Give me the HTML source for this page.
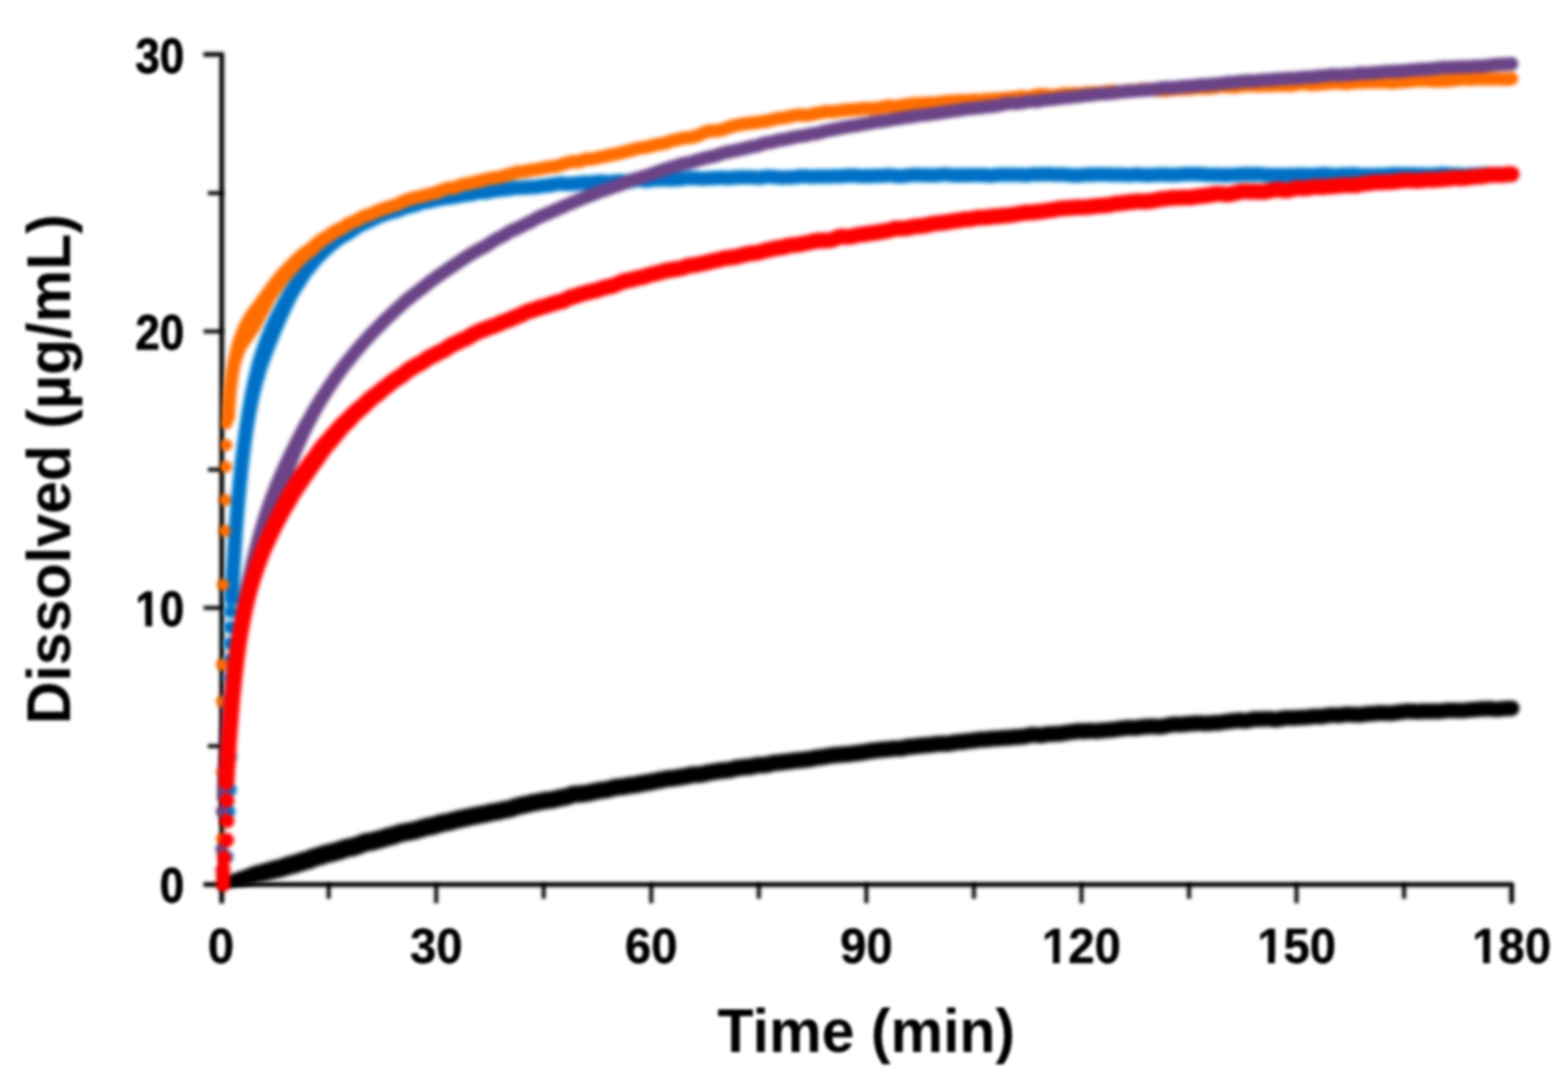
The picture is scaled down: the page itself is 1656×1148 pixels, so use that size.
<!DOCTYPE html>
<html lang="en">
<head>
<meta charset="utf-8">
<title>Dissolution profile</title>
<style>
html, body { margin: 0; padding: 0; background: #fff; }
body { width: 1656px; height: 1148px; overflow: hidden; }
svg { display: block; }
.ax { filter: blur(1.80px); }
.plot { filter: blur(2.00px); }
.labels { filter: blur(1.60px); }
</style>
</head>
<body>
<svg width="1656" height="1148" viewBox="0 0 1656 1148" role="img" aria-label="Dissolved concentration versus time">
<rect width="1656" height="1148" fill="#fff"/>
<g class="ax">
<g class="axis-halo" stroke="#000" fill="none" stroke-linejoin="round" stroke-linecap="round">
<g stroke-width="8.6" stroke-opacity="0.26">
<path d="M217.2,57.5 H234.2 V951.7"/>
<path d="M217.2,934.2 H1596.5 V951.7"/>
</g>
<g stroke-width="8.0" stroke-opacity="0.2">
<path d="M221.7,788.1 H234.2"/>
<path d="M217.2,642.1 H234.2"/>
<path d="M221.7,496.0 H234.2"/>
<path d="M217.2,350.0 H234.2"/>
<path d="M221.7,203.9 H234.2"/>
<path d="M347.1,934.2 V947.0"/>
<path d="M460.7,934.2 V951.7"/>
<path d="M574.2,934.2 V947.0"/>
<path d="M687.8,934.2 V951.7"/>
<path d="M801.4,934.2 V947.0"/>
<path d="M915.0,934.2 V951.7"/>
<path d="M1028.6,934.2 V947.0"/>
<path d="M1142.2,934.2 V951.7"/>
<path d="M1255.8,934.2 V947.0"/>
<path d="M1369.3,934.2 V951.7"/>
<path d="M1482.9,934.2 V947.0"/>
</g>
</g>
<g class="axis-core" stroke="#000" fill="none" stroke-linejoin="round" stroke-linecap="round">
<g stroke-width="4.2" stroke-opacity="0.92">
<path d="M217.2,57.5 H234.2 V951.7"/>
<path d="M217.2,934.2 H1596.5 V951.7"/>
</g>
<g stroke-width="4.0" stroke-opacity="0.8">
<path d="M221.7,788.1 H234.2"/>
<path d="M217.2,642.1 H234.2"/>
<path d="M221.7,496.0 H234.2"/>
<path d="M217.2,350.0 H234.2"/>
<path d="M221.7,203.9 H234.2"/>
<path d="M347.1,934.2 V947.0"/>
<path d="M460.7,934.2 V951.7"/>
<path d="M574.2,934.2 V947.0"/>
<path d="M687.8,934.2 V951.7"/>
<path d="M801.4,934.2 V947.0"/>
<path d="M915.0,934.2 V951.7"/>
<path d="M1028.6,934.2 V947.0"/>
<path d="M1142.2,934.2 V951.7"/>
<path d="M1255.8,934.2 V947.0"/>
<path d="M1369.3,934.2 V951.7"/>
<path d="M1482.9,934.2 V947.0"/>
</g>
</g>
</g>
<g class="plot">
<g class="series series-black">
<path d="M241,924.7L242.5,924.1L244.1,923.4L245.8,922.6L247.5,922L249.2,921.4L250.7,921L252.1,920.6L253.3,920.1L254.6,919.7L255.9,919.3L257.2,918.8L258.5,918.3L259.8,917.8L261,917.3L262.2,916.8L263.5,916.2L265.1,915.5L266.8,914.9L268.8,914.2L270.7,913.7L272.4,913.4L273.8,913.1L274.8,912.8L275.9,912.5L277.1,912.1L278.6,911.6L280.1,911.2L281.6,910.7L283.1,910.3L284.5,909.9L286.1,909.4L287.8,909L289.3,908.6L290.7,908.3L291.9,908L293,907.7L294.2,907.4L295.5,906.9L296.8,906.5L298.3,906L299.8,905.4L301.4,904.9L303,904.5L304.5,904L306,903.6L307.5,903.3L308.9,902.9L310.1,902.5L311.3,902.2L312.5,901.8L313.9,901.3L315.5,900.7L317.2,900.2L318.8,899.8L320.2,899.4L321.5,899L322.6,898.7L323.8,898.3L325,897.8L326.4,897.2L328,896.6L329.8,896L331.6,895.4L333.4,894.9L334.8,894.6L335.9,894.3L337,894L338.2,893.5L339.8,893L341.6,892.4L343.6,891.8L345.4,891.4L346.9,891.2L348.1,890.9L349.2,890.7L350.4,890.3L351.8,889.9L353.2,889.5L354.6,889.1L355.9,888.7L357.2,888.3L358.7,887.8L360.2,887.3L361.9,886.8L363.8,886.3L365.5,885.9L367.1,885.6L368.5,885.3L369.7,885.1L370.8,884.8L372,884.4L373.2,884.1L374.4,883.7L375.6,883.3L376.8,882.8L378.2,882.2L380,881.5L382,880.7L384.2,880.1L386.3,879.8L388,879.5L389.3,879.4L390.3,879.2L391.3,879L392.5,878.7L394,878.3L395.5,877.9L396.9,877.5L398.3,877.2L399.5,876.8L400.9,876.4L402.3,875.9L403.9,875.4L405.6,875L407.3,874.5L408.9,874.1L410.3,873.8L411.5,873.6L412.5,873.3L413.6,872.9L414.9,872.4L416.5,871.9L418.3,871.2L420.2,870.7L422,870.3L423.8,869.9L425.4,869.6L426.9,869.4L428.3,869.1L429.7,868.9L431.1,868.6L432.5,868.4L433.9,868.1L435.1,867.9L436.2,867.6L437.4,867.3L438.8,866.9L440.3,866.4L441.8,865.9L443.3,865.5L444.8,865.1L446.4,864.7L448.1,864.2L449.9,863.8L451.6,863.5L453.1,863.3L454.2,863L455.2,862.8L456.4,862.5L457.8,862.1L459.3,861.6L460.9,861.1L462.5,860.7L464.1,860.3L465.7,859.9L467.4,859.5L469,859.2L470.5,859L471.8,858.7L473.1,858.5L474.3,858.2L475.5,857.8L476.9,857.4L478.5,857L480.3,856.5L482.1,856.1L483.7,855.8L485.1,855.6L486.3,855.3L487.6,855.1L488.9,854.7L490.4,854.3L492,853.9L493.8,853.5L495.5,853.2L497,853L498.3,852.7L499.6,852.5L500.9,852.2L502.4,851.8L504,851.5L505.7,851.2L507.3,850.9L508.8,850.7L510.1,850.5L511.3,850.2L512.4,850L513.8,849.6L515.5,849.2L517.3,848.8L519.1,848.5L520.7,848.2L522.1,848L523.4,847.8L524.6,847.6L525.9,847.4L527.2,847L528.7,846.7L530.3,846.3L532.1,845.9L533.8,845.7L535.1,845.4L536.1,845.3L537,845L538,844.7L539.4,844.2L541.2,843.6L543,843L544.7,842.6L546.2,842.2L547.7,841.8L549.3,841.4L551.1,841L552.7,840.7L554.1,840.5L555.3,840.2L556.6,840L557.9,839.6L559.6,839.2L561.4,838.8L563.2,838.5L564.9,838.2L566.3,838.1L567.4,837.9L568.6,837.6L569.9,837.3L571.5,837L573.4,836.6L575.3,836.3L577.1,836.1L578.7,836L580,835.9L581,835.8L582,835.6L583.1,835.4L584.3,835L585.8,834.6L587.6,834.2L589.4,833.8L591.2,833.5L592.8,833.2L594.1,833L595.2,832.8L596.1,832.6L597.1,832.3L598.3,831.9L599.8,831.3L601.9,830.6L604.2,830L606.6,829.7L608.6,829.6L610,829.6L611.2,829.5L612.4,829.4L613.8,829.3L615.2,829.1L616.5,828.9L617.9,828.8L619.3,828.6L620.6,828.3L621.9,828.1L623.2,827.8L624.5,827.5L626,827.2L627.6,826.8L629.2,826.5L630.8,826.1L632.5,825.8L634.3,825.6L636,825.4L637.6,825.2L638.8,825.1L639.7,825L640.7,824.8L641.8,824.4L643.3,824L645.1,823.5L647,823.1L648.8,822.8L650.6,822.5L652.3,822.3L653.9,822.2L655.4,822L656.7,821.9L657.8,821.8L658.9,821.6L660.1,821.3L661.7,821L663.6,820.6L665.6,820.4L667.3,820.2L668.5,820.1L669.6,820L670.6,819.8L671.9,819.5L673.5,819.1L675.3,818.8L677,818.5L678.5,818.3L679.9,818.1L681.2,817.9L682.6,817.6L684.2,817.3L685.8,817L687.2,816.8L688.4,816.6L689.8,816.3L691.3,815.9L693,815.6L694.6,815.3L696.1,815L697.5,814.8L698.8,814.5L700.2,814.2L701.9,813.9L703.7,813.6L705.6,813.3L707.3,813.2L708.9,813.1L710.3,813L711.4,812.9L712.5,812.7L713.7,812.5L715.2,812.2L716.9,811.9L718.7,811.6L720.3,811.4L721.6,811.3L722.7,811.1L723.8,810.9L725.2,810.6L726.8,810.1L728.7,809.8L730.8,809.5L732.8,809.3L734.6,809.3L736.1,809.3L737.4,809.2L738.4,809.2L739.3,809.1L740.3,808.9L741.4,808.6L742.9,808.2L744.7,807.8L746.6,807.4L748.3,807.1L749.7,807L750.9,806.7L752.3,806.5L753.9,806.1L755.7,805.9L757.5,805.6L759,805.5L760.5,805.3L761.9,805.1L763.5,805L765.1,804.8L766.7,804.7L768.1,804.6L769.2,804.5L770.1,804.3L771,804.1L772.3,803.7L773.9,803.2L775.9,802.7L778,802.3L779.9,802.1L781.5,802L782.8,801.8L784.2,801.7L785.9,801.5L787.7,801.3L789.3,801.3L790.5,801.2L791.4,801.1L792.3,800.9L793.6,800.6L795.2,800.2L797.1,799.8L799,799.5L801,799.4L802.8,799.3L804.5,799.3L805.7,799.2L806.8,799.2L807.7,799.1L808.7,798.9L809.9,798.6L811.4,798.2L813,797.8L814.9,797.4L816.9,797.1L818.7,796.9L820.4,796.8L821.7,796.7L822.9,796.6L824.2,796.4L825.7,796.2L827.4,795.9L829.1,795.8L830.6,795.7L831.9,795.5L833.1,795.4L834.4,795.2L836,794.9L837.8,794.7L839.6,794.5L841.3,794.4L842.8,794.3L844.2,794.2L845.4,794.1L846.7,794L848.1,793.8L849.8,793.6L851.4,793.4L852.7,793.3L853.8,793.1L854.9,792.9L856.2,792.6L857.9,792.2L859.8,791.9L861.7,791.6L863.3,791.4L864.7,791.3L866,791.2L867.2,791L868.6,790.7L870.1,790.5L871.7,790.2L873.2,790L874.8,789.7L876.3,789.5L878,789.3L879.7,789.1L881.3,788.9L882.8,788.8L884.2,788.7L885.7,788.5L887.3,788.4L888.9,788.3L890.6,788.2L892.1,788.1L893.4,788L894.6,787.9L895.8,787.8L897.3,787.6L898.8,787.4L900.4,787.2L902,787L903.4,786.8L904.8,786.7L906.2,786.5L907.8,786.3L909.3,786.1L910.7,785.9L912,785.7L913.3,785.5L914.8,785.2L916.4,784.9L918.1,784.6L919.8,784.4L921.4,784.2L922.9,784.1L924.3,783.9L925.7,783.7L927.3,783.5L929,783.3L930.7,783.2L932.3,783.1L933.8,783L935.1,783L936.3,782.8L937.6,782.7L939.1,782.5L940.8,782.3L942.7,782.1L944.5,782L946.2,782L947.5,782L948.8,781.9L949.9,781.9L951.1,781.7L952.1,781.6L953.3,781.3L954.8,781L956.6,780.6L958.6,780.3L960.5,780.1L962.1,780L963.4,779.9L964.7,779.8L966.1,779.6L967.6,779.4L969.2,779.3L970.8,779.1L972.3,779L973.8,778.8L975.2,778.7L976.7,778.5L978.4,778.4L980.1,778.2L981.6,778.2L982.9,778.1L983.9,778L985.1,777.8L986.6,777.5L988.5,777.3L990.4,777.1L992.1,777L993.7,776.9L995.3,776.9L997,776.8L998.6,776.9L999.9,776.9L1000.9,776.9L1001.8,776.8L1002.8,776.6L1004.2,776.3L1005.8,775.9L1007.7,775.6L1009.6,775.4L1011.4,775.2L1013,775.1L1014.4,775L1015.6,774.9L1016.9,774.8L1018.2,774.6L1019.8,774.4L1021.5,774.2L1023.1,774L1024.6,773.9L1026,773.7L1027.3,773.6L1028.7,773.4L1030.2,773.2L1031.8,772.9L1033.6,772.7L1035.4,772.6L1037.1,772.5L1038.6,772.5L1039.9,772.4L1041.2,772.4L1042.5,772.2L1043.9,772.1L1045.5,771.9L1047.2,771.8L1048.8,771.6L1050.4,771.6L1051.9,771.5L1053.4,771.4L1054.7,771.3L1056.1,771.2L1057.6,771.1L1059.2,771L1060.8,770.8L1062.4,770.8L1063.8,770.7L1065.2,770.6L1066.6,770.5L1068.1,770.4L1069.6,770.3L1071.1,770.1L1072.6,770L1074.2,769.9L1075.8,769.8L1077.3,769.7L1078.5,769.7L1079.6,769.5L1080.7,769.4L1082,769.1L1083.5,768.8L1085.1,768.4L1086.9,768.1L1089,767.8L1091,767.7L1093.1,767.7L1094.9,767.9L1096.5,768L1097.8,768.1L1098.7,768.2L1099.5,768.2L1100.3,768L1101.5,767.8L1103.1,767.5L1105.1,767.1L1107.1,766.9L1109,766.8L1110.5,766.8L1111.9,766.8L1113.3,766.7L1114.8,766.6L1116.3,766.6L1117.7,766.5L1119,766.4L1120.1,766.3L1121.2,766.1L1122.5,765.9L1124.1,765.6L1125.9,765.3L1127.7,765L1129.3,764.9L1130.7,764.7L1132,764.6L1133.4,764.4L1135,764.1L1136.8,763.9L1138.8,763.8L1140.7,763.8L1142.4,763.8L1143.7,763.9L1144.8,763.8L1145.9,763.8L1147.3,763.6L1149,763.5L1151.1,763.4L1153.1,763.4L1154.8,763.6L1156.1,763.7L1157.1,763.7L1158,763.7L1159.1,763.6L1160.5,763.4L1162.2,763.2L1164,763L1165.7,762.9L1167.2,762.8L1168.5,762.8L1169.9,762.7L1171.3,762.5L1172.8,762.4L1174.2,762.3L1175.6,762.1L1177,761.9L1178.5,761.7L1180.1,761.5L1181.6,761.3L1183,761.2L1184.4,761L1185.9,760.8L1187.6,760.6L1189.5,760.4L1191.4,760.3L1193.2,760.3L1194.7,760.4L1196.1,760.4L1197.3,760.4L1198.5,760.3L1199.7,760.2L1201,760L1202.4,759.9L1204,759.6L1205.7,759.4L1207.5,759.3L1209.1,759.2L1210.6,759.1L1212,759L1213.6,759L1215.2,758.9L1216.9,758.8L1218.7,758.8L1220.5,758.9L1222.2,759.1L1223.5,759.2L1224.5,759.2L1225.3,759.2L1226.2,759L1227.4,758.8L1228.7,758.5L1230.3,758.2L1231.9,757.9L1233.5,757.5L1235.1,757.2L1236.9,757L1238.8,756.8L1240.8,756.7L1242.6,756.7L1244.2,756.7L1245.6,756.7L1246.8,756.8L1248,756.7L1249.2,756.6L1250.6,756.5L1252.2,756.3L1253.9,756.1L1255.5,756L1257,756L1258.4,755.9L1259.8,755.8L1261.2,755.6L1262.9,755.5L1264.6,755.4L1266.6,755.4L1268.5,755.4L1270.3,755.6L1271.6,755.7L1272.7,755.8L1273.7,755.8L1274.9,755.7L1276.2,755.6L1277.7,755.4L1279.3,755.3L1281,755.2L1282.7,755.1L1284.3,755.1L1285.7,755.1L1286.8,755L1287.9,754.9L1289,754.7L1290.5,754.4L1292.2,754.1L1294.1,753.9L1295.7,753.8L1297.1,753.6L1298.5,753.5L1299.9,753.3L1301.4,753.1L1303.1,752.9L1304.7,752.7L1306.5,752.6L1308.3,752.5L1310.2,752.5L1312.1,752.6L1313.6,752.8L1314.7,752.9L1315.4,752.9L1316.1,752.8L1317.1,752.6L1318.6,752.2L1320.5,751.8L1322.5,751.5L1324.4,751.3L1326.2,751.3L1327.8,751.2L1329.4,751.2L1330.9,751.2L1332.4,751.2L1333.7,751.2L1335,751.1L1336.5,751L1338.3,750.9L1340.3,751L1342.4,751.1L1344.1,751.4L1345.4,751.6L1346.2,751.6L1346.9,751.6L1347.8,751.5L1349.1,751.3L1350.6,751L1352.2,750.8L1353.8,750.5L1355.4,750.3L1357.2,750.1L1359,750L1360.8,749.9L1362.6,749.9L1364.1,750L1365.5,750L1366.6,750L1367.8,749.9L1369.2,749.8L1370.8,749.7L1372.5,749.5L1374.2,749.5L1375.8,749.5L1377.2,749.4L1378.4,749.4L1379.7,749.3L1380.9,749.2L1382.4,749L1383.9,748.8L1385.6,748.6L1387.4,748.4L1389.4,748.3L1391.1,748.4L1392.6,748.4L1393.8,748.4L1394.9,748.4L1396,748.3L1397.3,748.1L1398.7,747.9L1400.2,747.7L1401.7,747.5L1403.4,747.2L1405.3,747L1407.4,746.9L1409.4,747L1411.1,747.1L1412.4,747.2L1413.3,747.3L1414.1,747.2L1415.2,747.1L1416.6,746.8L1418.4,746.5L1420.3,746.3L1422.1,746.2L1423.9,746.2L1425.6,746.2L1427.3,746.3L1429,746.4L1430.5,746.5L1431.9,746.6L1433.2,746.6L1434.5,746.7L1435.7,746.6L1436.8,746.6L1438,746.5L1439.2,746.3L1440.7,746.1L1442.5,745.8L1444.3,745.6L1446.1,745.5L1447.6,745.5L1449,745.4L1450.2,745.3L1451.5,745.2L1453,745L1454.8,744.8L1456.7,744.7L1458.5,744.7L1460.1,744.7L1461.6,744.8L1463.2,744.8L1464.8,744.9L1466.3,745L1467.6,745L1468.7,745L1469.6,745L1470.8,744.8L1472.2,744.6L1473.8,744.3L1475.5,744.1L1477,743.9L1478.5,743.8L1480,743.6L1481.5,743.4L1483.1,743.2L1484.8,743.1L1486.7,743L1488.5,743L1490.2,743L1491.8,743.1L1493.3,743.1L1494.8,743.2L1496.3,743.3L1497.6,743.3L1498.8,743.3L1499.9,743.2L1501.3,743.1L1502.9,743L1504.7,742.9L1506.6,742.9L1508.4,743L1509.9,743.1L1511.2,743.1L1512.4,743.1L1513.7,743.1L1515.3,743.1L1516.9,743L1518.3,743L1519.6,743L1520.8,742.9L1522.1,742.8L1523.5,742.6L1524.9,742.5L1526.4,742.2L1528.2,742L1530.1,741.9L1532.1,741.9L1533.9,742L1535.5,742.1L1536.8,742.1L1538.1,742.2L1539.5,742.2L1541.1,742.2L1542.5,742.2L1543.8,742.2L1545,742.2L1546.2,742.1L1547.6,741.9L1549.1,741.7L1550.7,741.6L1552.3,741.4L1553.9,741.3L1555.4,741.2L1556.8,741.1L1558.3,741L1559.8,740.9L1561.3,740.7L1563,740.6L1564.6,740.5L1566.2,740.5L1567.7,740.4L1569.2,740.4L1570.8,740.3L1572.5,740.3L1574.3,740.3L1576.3,740.5L1578,740.7L1579.3,740.8L1580.3,740.9L1581.2,740.9L1582.2,740.8L1583.5,740.7L1585.1,740.5L1586.8,740.3L1588.5,740.2L1590.2,740.1L1591.7,740.1L1593.2,740L1594.4,739.9L1595.8,739.8L1597.9,739.9L1600,740.6L1601.8,741.7L1603.2,743.3L1604.2,745.2L1604.7,747.3L1604.6,749.4L1603.9,751.5L1602.8,753.3L1601.2,754.7L1599.3,755.7L1597.2,756.2L1595.6,756.3L1593.8,756.4L1592.3,756.5L1590.8,756.5L1589.5,756.6L1588.2,756.7L1586.9,756.8L1585.5,757L1583.8,757.2L1581.8,757.3L1579.7,757.3L1577.6,757.2L1576,757L1574.7,756.8L1573.6,756.7L1572.5,756.7L1571.2,756.8L1569.7,756.8L1568.2,756.9L1566.7,756.9L1565.3,756.9L1564,757L1562.6,757.1L1561.2,757.2L1559.7,757.4L1558.1,757.5L1556.6,757.6L1555.1,757.7L1553.6,757.8L1552.3,757.9L1550.9,758.1L1549.4,758.3L1547.7,758.5L1545.9,758.6L1544.1,758.7L1542.4,758.7L1540.9,758.6L1539.4,758.6L1537.8,758.6L1536.1,758.6L1534.5,758.5L1533,758.4L1531.8,758.3L1530.8,758.3L1529.8,758.4L1528.5,758.6L1527,758.8L1525.5,759L1523.8,759.2L1522.1,759.3L1520.3,759.4L1518.6,759.5L1517.1,759.5L1515.6,759.5L1514.2,759.6L1512.5,759.6L1510.7,759.6L1509,759.5L1507.5,759.4L1506.3,759.4L1505.2,759.4L1504,759.4L1502.6,759.6L1501,759.7L1499.1,759.8L1497.3,759.8L1495.7,759.7L1494.1,759.7L1492.6,759.6L1491.1,759.6L1489.7,759.5L1488.4,759.5L1487.2,759.5L1486.1,759.5L1484.8,759.6L1483.4,759.8L1481.9,760L1480.4,760.2L1478.8,760.3L1477.4,760.5L1476.1,760.7L1474.7,760.9L1473.1,761.1L1471.2,761.4L1469.2,761.5L1467.3,761.5L1465.6,761.4L1464.1,761.4L1462.7,761.3L1461.2,761.3L1459.8,761.3L1458.4,761.2L1457.2,761.2L1456.1,761.3L1454.8,761.4L1453.4,761.6L1451.7,761.8L1449.9,761.9L1448.2,762L1446.8,762L1445.6,762.1L1444.4,762.2L1443.1,762.4L1441.6,762.6L1439.9,762.9L1438.1,763.1L1436.2,763.2L1434.4,763.2L1432.7,763.2L1431,763.1L1429.4,763L1427.9,762.9L1426.6,762.8L1425.2,762.8L1424,762.7L1422.7,762.8L1421.6,762.8L1420.5,762.9L1419.3,763.1L1417.7,763.4L1415.8,763.7L1413.6,763.8L1411.5,763.7L1409.7,763.6L1408.4,763.5L1407.5,763.4L1406.6,763.5L1405.5,763.6L1404.2,763.8L1402.7,764L1401.1,764.3L1399.5,764.5L1397.8,764.7L1396,764.9L1394.1,765L1392.3,765L1390.7,764.9L1389.5,764.9L1388.4,764.9L1387.3,765L1386,765.2L1384.5,765.4L1382.9,765.6L1381.2,765.8L1379.4,765.9L1377.7,766L1376,766L1374.6,766L1373.3,766.1L1372.1,766.2L1370.7,766.3L1369,766.4L1367.3,766.5L1365.4,766.6L1363.7,766.5L1362.3,766.5L1361.1,766.5L1359.9,766.5L1358.7,766.6L1357.4,766.8L1356.1,767L1354.7,767.2L1353.3,767.4L1351.8,767.7L1350.1,767.9L1348,768.2L1345.7,768.2L1343.5,768.1L1341.8,767.8L1340.5,767.6L1339.6,767.5L1338.6,767.5L1337.4,767.6L1335.9,767.7L1334.2,767.8L1332.5,767.8L1330.9,767.8L1329.5,767.8L1328.1,767.8L1326.7,767.9L1325.5,767.9L1324.4,768L1323.4,768.2L1322.3,768.4L1320.8,768.8L1318.8,769.2L1316.5,769.5L1314.2,769.5L1312.3,769.4L1310.8,769.2L1309.7,769.2L1308.6,769.2L1307.5,769.2L1306.2,769.3L1304.8,769.4L1303.5,769.6L1302,769.8L1300.5,770L1298.8,770.2L1297.2,770.3L1295.9,770.4L1294.7,770.6L1293.5,770.8L1291.9,771.1L1290.1,771.4L1288.1,771.6L1286.2,771.7L1284.6,771.7L1283.2,771.8L1281.9,771.8L1280.6,771.9L1279.3,772L1277.8,772.2L1276.1,772.3L1274.2,772.4L1272.3,772.4L1270.3,772.3L1268.7,772.2L1267.4,772.1L1266.4,772L1265.3,772L1264.1,772.1L1262.7,772.2L1261.2,772.4L1259.6,772.5L1258,772.6L1256.5,772.7L1255.1,772.8L1253.8,772.9L1252.4,773L1250.8,773.2L1249,773.4L1247.2,773.4L1245.4,773.4L1243.8,773.4L1242.4,773.4L1241.2,773.3L1240.2,773.4L1239.1,773.5L1237.9,773.7L1236.6,774L1235.2,774.2L1233.7,774.5L1232.3,774.8L1230.7,775.2L1228.8,775.5L1226.8,775.8L1224.6,775.9L1222.6,775.8L1220.9,775.7L1219.5,775.6L1218.3,775.6L1217.1,775.5L1215.9,775.6L1214.5,775.7L1213,775.7L1211.5,775.8L1210,775.9L1208.6,776L1207.4,776.1L1206.1,776.2L1204.7,776.4L1203.1,776.7L1201.4,776.9L1199.6,777L1197.8,777.1L1196,777.1L1194.4,777.1L1192.9,777.1L1191.7,777.1L1190.6,777.1L1189.5,777.2L1188.2,777.4L1186.7,777.6L1185.1,777.8L1183.5,778L1182.1,778.2L1180.7,778.3L1179.2,778.5L1177.6,778.8L1176,778.9L1174.4,779.1L1172.8,779.2L1171.3,779.4L1169.6,779.5L1168,779.6L1166.5,779.7L1165.2,779.7L1164,779.9L1162.7,780L1161.1,780.2L1159.3,780.4L1157.2,780.5L1155.1,780.5L1153.4,780.3L1152.1,780.2L1151.2,780.2L1150.2,780.2L1149,780.4L1147.3,780.5L1145.4,780.7L1143.5,780.7L1141.9,780.6L1140.6,780.6L1139.5,780.6L1138.4,780.7L1137.3,780.8L1135.9,781L1134.3,781.3L1132.6,781.5L1131,781.6L1129.6,781.8L1128.4,781.9L1127.2,782.1L1125.8,782.4L1124.1,782.7L1122.3,783L1120.4,783.2L1118.6,783.3L1117.1,783.4L1115.6,783.5L1114.1,783.6L1112.5,783.6L1110.9,783.7L1109.4,783.7L1108.3,783.8L1107.3,783.8L1106.3,784L1104.9,784.3L1103.1,784.7L1100.9,785L1098.7,785.1L1096.7,785L1094.9,784.8L1093.5,784.7L1092.4,784.6L1091.4,784.6L1090.5,784.7L1089.5,784.8L1088.4,785L1087.1,785.3L1085.5,785.6L1083.8,786L1081.9,786.3L1080,786.5L1078.2,786.6L1076.7,786.7L1075.3,786.8L1073.9,786.9L1072.5,787L1071,787.1L1069.5,787.3L1068,787.4L1066.4,787.5L1064.8,787.6L1063.2,787.7L1061.8,787.8L1060.5,787.9L1059,788L1057.5,788.1L1055.9,788.2L1054.3,788.3L1052.8,788.4L1051.3,788.5L1049.9,788.6L1048.5,788.7L1047.2,788.8L1045.8,788.9L1044.2,789.1L1042.5,789.3L1040.8,789.4L1039.2,789.5L1037.7,789.5L1036.4,789.6L1035.2,789.7L1033.9,789.8L1032.6,790L1031.1,790.2L1029.5,790.4L1027.9,790.6L1026.2,790.8L1024.7,790.9L1023.4,791.1L1022.1,791.2L1020.6,791.5L1019,791.7L1017.3,791.9L1015.5,792L1013.9,792.1L1012.5,792.2L1011.3,792.3L1010.3,792.4L1009.1,792.6L1007.8,792.9L1006.2,793.3L1004.2,793.6L1002.1,793.9L1000.1,793.9L998.4,793.9L997,793.9L995.7,793.9L994.3,794L993,794L991.7,794.1L990.6,794.2L989.5,794.4L988,794.6L986.2,794.9L984.3,795.1L982.5,795.2L981,795.3L979.8,795.4L978.5,795.5L977,795.7L975.4,795.8L973.9,796L972.4,796.1L971,796.3L969.6,796.4L968.2,796.6L966.6,796.8L964.9,797L963.2,797.1L961.8,797.2L960.7,797.3L959.7,797.5L958.5,797.7L957,798.1L955.2,798.4L953.3,798.7L951.5,798.9L949.6,799.1L947.9,799.1L946.3,799.1L944.9,799.2L943.8,799.2L942.7,799.3L941.4,799.5L939.9,799.7L938.2,799.9L936.5,800.1L934.8,800.2L933.3,800.3L931.9,800.4L930.6,800.5L929.3,800.6L927.9,800.8L926.4,801L924.8,801.2L923.2,801.4L921.9,801.5L920.6,801.7L919.3,801.9L917.9,802.1L916.4,802.4L914.7,802.7L913.1,803L911.5,803.2L910,803.4L908.6,803.5L907.1,803.8L905.5,804L903.9,804.2L902.5,804.3L901.1,804.5L899.7,804.7L898.1,804.9L896.4,805.1L894.6,805.3L892.9,805.4L891.4,805.4L890.1,805.5L888.8,805.6L887.4,805.7L885.8,805.9L884.3,806L882.8,806.2L881.4,806.3L880.2,806.4L878.8,806.6L877.4,806.8L876,807.1L874.5,807.3L873.1,807.5L871.6,807.8L870,808.1L868.3,808.4L866.6,808.6L865,808.7L863.7,808.8L862.6,809L861.5,809.2L860.2,809.5L858.5,809.9L856.6,810.3L854.7,810.5L853.1,810.7L851.7,810.8L850.4,811L848.9,811.2L847.1,811.4L845.4,811.6L843.8,811.7L842.3,811.7L841.1,811.8L839.9,811.9L838.7,812.1L837.3,812.4L835.7,812.6L833.9,812.9L832.2,813L830.7,813.2L829.4,813.3L828.1,813.4L826.7,813.7L825,813.9L823.2,814.1L821.6,814.2L820.2,814.3L819.1,814.4L818.1,814.6L817,814.8L815.7,815.2L814.1,815.6L812.4,816L810.4,816.4L808.4,816.6L806.4,816.7L804.7,816.8L803.4,816.8L802.2,816.8L801.2,816.9L800.2,817.1L799.1,817.3L797.7,817.7L796,818.1L794,818.5L791.9,818.7L790.1,818.8L788.8,818.9L787.6,818.9L786.3,819.1L784.7,819.3L783.1,819.5L781.7,819.6L780.6,819.7L779.7,819.9L778.7,820.1L777.4,820.5L775.7,821.1L773.6,821.6L771.6,821.9L769.7,822.1L768.1,822.2L766.8,822.4L765.4,822.5L764,822.7L762.5,822.8L760.9,823L759.5,823.2L758.3,823.3L757.1,823.5L755.8,823.8L754.2,824.1L752.4,824.4L750.9,824.6L749.6,824.8L748.5,825L747.3,825.3L745.8,825.7L744,826.2L742,826.6L740,826.8L738,826.9L736.3,827L734.9,827L733.7,827L732.7,827.1L731.8,827.2L730.8,827.5L729.5,827.8L727.8,828.2L725.9,828.6L724.1,828.9L722.4,829.1L721.1,829.3L719.9,829.4L718.6,829.7L717.1,830L715.4,830.3L713.5,830.6L711.7,830.7L710.1,830.9L708.7,830.9L707.5,831.1L706.4,831.2L705.3,831.4L703.9,831.7L702.4,832L700.8,832.4L699.2,832.6L697.7,832.9L696.4,833.1L695.1,833.4L693.6,833.7L692,834.1L690.3,834.4L688.8,834.7L687.4,834.9L686,835.2L684.5,835.5L682.8,835.8L681.2,836L679.7,836.3L678.5,836.5L677.3,836.7L675.9,837L674.3,837.4L672.4,837.7L670.5,838L668.8,838.2L667.5,838.3L666.5,838.4L665.4,838.6L664,838.9L662.4,839.3L660.5,839.6L658.6,839.9L656.9,840L655.5,840.1L654.2,840.3L652.9,840.4L651.7,840.6L650.6,840.8L649.5,841L648.3,841.4L646.9,841.8L645.1,842.3L643,842.8L641,843.1L639.3,843.2L637.9,843.4L636.7,843.5L635.5,843.7L634.3,843.9L632.9,844.2L631.5,844.5L630.1,844.8L628.7,845.2L627.1,845.6L625.4,845.9L623.8,846.2L622.1,846.5L620.5,846.7L618.9,847L617.4,847.2L615.8,847.4L614.2,847.5L612.4,847.7L610.7,847.8L609.2,847.8L608.2,847.9L607.6,847.9L607,848.1L606.1,848.4L604.7,849L603,849.6L601,850.2L599,850.7L597.1,851.1L595.5,851.3L594.1,851.5L593,851.7L591.9,852L590.6,852.3L589.2,852.7L587.5,853.2L585.6,853.6L583.6,853.9L581.8,854.2L580.1,854.3L578.8,854.4L577.6,854.5L576.6,854.7L575.5,854.9L574.1,855.2L572.5,855.6L570.7,856L569,856.3L567.4,856.5L566.1,856.7L565,856.9L563.9,857.1L562.6,857.5L561,857.9L559.3,858.3L557.5,858.6L556,858.9L554.7,859.2L553.5,859.4L552.2,859.7L550.8,860.1L549.4,860.5L548.1,860.8L547,861.2L545.8,861.6L544.2,862.2L542.3,862.8L540.3,863.4L538.3,863.8L536.7,864L535.5,864.2L534.3,864.5L533,864.8L531.6,865.1L530,865.5L528.3,865.9L526.6,866.2L524.9,866.5L523.4,866.7L522,866.9L520.9,867.1L519.8,867.3L518.5,867.7L517,868.1L515.2,868.5L513.5,868.9L511.8,869.1L510.4,869.4L509.1,869.6L507.8,869.9L506.5,870.2L505,870.5L503.5,870.8L501.8,871.2L500.2,871.5L498.8,871.7L497.5,872L496.4,872.2L495.1,872.5L493.6,872.9L492,873.3L490.3,873.7L488.7,874.1L487.1,874.4L485.8,874.6L484.7,874.9L483.5,875.2L482.2,875.6L480.7,876L479,876.5L477.3,876.9L475.6,877.3L474,877.6L472.6,877.9L471.2,878.1L470,878.4L468.7,878.7L467.4,879.1L466.1,879.4L464.7,879.8L463.4,880.2L461.8,880.7L460,881.2L458.2,881.7L456.4,882L454.9,882.3L453.7,882.5L452.6,882.7L451.4,883.1L450.1,883.5L448.6,883.9L447.2,884.3L445.8,884.7L444.4,885.1L442.9,885.6L441.1,886.1L439.3,886.6L437.6,886.9L436.1,887.2L434.6,887.5L433.1,887.8L431.6,888.1L430.1,888.3L428.7,888.6L427.4,888.8L426.2,889.1L425.2,889.3L424.1,889.6L423,890L421.7,890.5L420.1,891.1L418.3,891.7L416.4,892.3L414.7,892.7L413.2,893L411.9,893.3L410.7,893.6L409.5,894L408.2,894.4L406.7,894.9L405.1,895.4L403.5,895.8L401.9,896.3L400.4,896.7L399,897L397.6,897.4L396,897.9L394.1,898.3L392.2,898.6L390.5,898.9L389.3,899L388.5,899.2L387.9,899.4L387,899.7L385.8,900.2L384.3,900.8L382.7,901.5L380.9,902.1L379.2,902.7L377.6,903.2L375.9,903.7L374.1,904.2L372.4,904.5L370.9,904.8L369.6,905.1L368.5,905.3L367.4,905.6L366.2,906L364.9,906.5L363.4,907L361.9,907.5L360.3,908L358.8,908.4L357.3,908.8L355.8,909.3L354.1,909.8L352.3,910.2L350.7,910.5L349.3,910.8L348.2,911L347.3,911.3L346.3,911.6L344.9,912.1L343.3,912.7L341.4,913.3L339.7,913.8L338.3,914.1L337.1,914.4L336.1,914.7L335,915.1L333.7,915.6L332.2,916.2L330.6,916.9L328.9,917.5L327.1,918L325.5,918.5L324.1,918.8L322.8,919.2L321.6,919.6L320.3,920L318.9,920.5L317.3,921L315.6,921.5L314,922L312.5,922.4L311.1,922.7L309.7,923.1L308.4,923.4L307.1,923.8L305.8,924.2L304.5,924.6L303.1,925.1L301.6,925.6L299.9,926.1L298.2,926.5L296.5,927L294.9,927.3L293.4,927.6L292,927.9L290.8,928.2L289.5,928.5L288.1,928.8L286.6,929.2L285.2,929.5L283.9,929.9L282.4,930.3L280.8,930.7L278.9,931.1L277.1,931.4L275.5,931.6L274.3,931.8L273.3,931.9L272.4,932.1L271.2,932.4L269.8,932.9L268.3,933.4L266.6,933.9L264.9,934.3L263.2,934.7L261.6,935L260,935.3L258.3,935.6L256.7,935.8L255,936L253.5,936.1L252.1,936.2L250.8,936.3L249.7,936.3L248.4,936.5L247.1,936.8L245.6,937.3L243.9,937.7L242.2,937.6L240.5,937.1L239,936.1L237.8,934.8L237,933.3L236.6,931.6L236.7,929.8L237.2,928.1L238.2,926.6L239.5,925.5L241,924.7Z" fill="#000000"/>
</g>
<g class="series series-blue">
<circle cx="243.2" cy="646" r="7.3" fill="#2AA3E0"/>
<circle cx="243" cy="662.5" r="7.3" fill="#2AA3E0"/>
<circle cx="242.8" cy="679.5" r="7.3" fill="#2AA3E0"/>
<circle cx="242.6" cy="697" r="7.3" fill="#2AA3E0"/>
<circle cx="242.5" cy="716" r="7.3" fill="#2AA3E0"/>
<circle cx="242.5" cy="738" r="7.3" fill="#2AA3E0"/>
<circle cx="243" cy="765" r="7.3" fill="#2AA3E0"/>
<circle cx="243.5" cy="799" r="7.3" fill="#2AA3E0"/>
<circle cx="243" cy="834" r="7.3" fill="#2AA3E0"/>
<circle cx="241.5" cy="857" r="7.3" fill="#2AA3E0"/>
<circle cx="239.5" cy="905" r="7.3" fill="#2AA3E0"/>
<path d="M236.6,632.5L236.6,631L236.7,629.5L236.8,628L236.9,626.5L237,625L237,623.5L237.1,622L237.2,620.5L237.3,619L237.4,617.5L237.5,616L237.6,614.5L237.6,612.9L237.7,611.4L237.8,609.9L237.9,608.4L238,606.9L238.1,605.4L238.2,603.9L238.3,602.4L238.3,600.9L238.4,599.4L238.5,597.9L238.6,596.4L238.7,594.9L238.8,593.4L238.9,591.9L239,590.4L239.1,588.9L239.2,587.4L239.3,585.9L239.4,584.4L239.5,582.9L239.6,581.4L239.7,579.9L239.8,578.4L239.9,576.9L240,575.4L240.1,573.9L240.2,572.4L240.3,570.9L240.4,569.4L240.5,567.9L240.6,566.4L240.7,564.9L240.8,563.4L240.9,561.9L241.1,560.4L241.2,558.9L241.3,557.3L241.4,555.8L241.5,554.3L241.6,552.8L241.7,551.3L241.9,549.8L242,548.3L242.1,546.8L242.2,545.3L242.3,543.8L242.5,542.3L242.6,540.8L242.7,539.3L242.8,537.8L242.9,536.3L243.1,534.8L243.2,533.2L243.3,531.7L243.5,530.2L243.6,528.8L243.7,527.3L243.9,525.8L244,524.3L244.1,522.8L244.3,521.3L244.4,519.8L244.5,518.3L244.7,516.8L244.8,515.3L245,513.8L245.1,512.2L245.3,510.7L245.4,509.2L245.6,507.7L245.7,506.2L245.9,504.7L246,503.2L246.2,501.7L246.3,500.2L246.5,498.8L246.6,497.3L246.8,495.8L247,494.3L247.1,492.8L247.3,491.3L247.5,489.7L247.6,488.2L247.8,486.7L248,485.2L248.1,483.7L248.3,482.1L248.5,480.6L248.7,479.1L248.9,477.6L249,476.1L249.2,474.6L249.4,473.1L249.6,471.6L249.8,470.1L250,468.6L250.2,467.1L250.4,465.6L250.6,464.1L250.8,462.6L251,461.1L251.2,459.6L251.4,458.1L251.6,456.6L251.8,455.2L252.1,453.7L252.3,452.2L252.5,450.7L252.7,449.2L252.9,447.7L253.2,446.2L253.4,444.7L253.6,443.2L253.9,441.7L254.1,440.2L254.3,438.7L254.6,437.2L254.8,435.6L255.1,434.1L255.3,432.6L255.6,431.1L255.8,429.6L256.1,428.1L256.4,426.6L256.6,425.2L256.9,423.7L257.2,422.2L257.4,420.6L257.7,419.1L258,417.6L258.3,416.1L258.6,414.6L258.9,413.1L259.2,411.6L259.4,410.1L259.8,408.5L260.1,407L260.4,405.4L260.7,403.9L261,402.4L261.4,401L261.7,399.5L262,398.1L262.4,396.7L262.7,395.2L263.1,393.7L263.4,392.1L263.8,390.6L264.2,389L264.6,387.5L264.9,385.9L265.3,384.4L265.8,382.8L266.2,381.3L266.6,379.8L267,378.4L267.5,376.9L267.9,375.5L268.4,374L268.8,372.5L269.3,371L269.8,369.5L270.3,368L270.8,366.5L271.3,365L271.8,363.5L272.3,362.1L272.9,360.6L273.4,359.2L274,357.8L274.5,356.5L275.1,355.1L275.6,353.7L276.2,352.3L276.8,350.8L277.4,349.4L277.9,348L278.6,346.5L279.2,344.9L279.8,343.4L280.5,342L281.1,340.5L281.8,339.1L282.4,337.7L283.1,336.2L283.8,334.8L284.5,333.4L285.2,332L285.9,330.8L286.5,329.5L287.2,328.2L287.9,326.9L288.6,325.5L289.3,324.1L290.1,322.7L290.8,321.3L291.5,320L292.2,318.6L293,317.3L293.7,315.9L294.5,314.5L295.3,313.1L296,311.8L296.8,310.5L297.5,309.2L298.3,307.8L299.1,306.4L300,304.9L300.9,303.5L301.7,302.3L302.5,301.1L303.3,299.9L304.2,298.7L305,297.4L305.9,296.2L306.8,295L307.6,293.9L308.4,292.8L309.2,291.7L310,290.5L310.8,289.3L311.7,288L312.6,286.6L313.6,285.2L314.6,283.8L315.7,282.4L316.7,281.1L317.7,279.9L318.6,278.8L319.5,277.7L320.5,276.6L321.4,275.5L322.4,274.3L323.4,273.2L324.3,272L325.4,270.8L326.4,269.5L327.6,268.2L328.8,266.9L329.9,265.8L331,264.7L332.1,263.7L333.1,262.6L334.2,261.6L335.2,260.6L336.3,259.5L337.5,258.4L338.7,257.2L340,256.1L341.2,255L342.4,254L343.6,253L344.8,252.1L346,251.1L347.1,250.2L348.3,249.3L349.5,248.3L350.7,247.3L352.1,246.3L353.5,245.3L355,244.3L356.4,243.4L357.8,242.6L359,241.9L360.2,241.3L361.5,240.6L362.6,239.9L363.8,239.2L364.8,238.5L365.9,237.8L367.1,236.9L368.4,236L369.8,235L371.2,234.1L372.6,233.1L374.1,232.2L375.8,231.2L377.4,230.4L379.1,229.6L380.6,229L381.8,228.5L382.9,228L384.1,227.5L385.4,226.8L387,226.1L388.5,225.4L389.8,224.8L391,224.3L392.1,223.8L393.3,223.1L394.8,222.3L396.5,221.4L398.4,220.6L400.2,219.9L401.8,219.4L403.1,219L404.4,218.6L405.7,218.2L407,217.7L408.5,217.2L410.1,216.6L411.9,216.1L413.6,215.7L415,215.4L416.2,215.1L417.2,214.9L418.2,214.5L419.3,214L420.7,213.4L422.3,212.7L424.1,212L425.9,211.5L427.6,211L429.2,210.6L430.8,210.2L432.3,209.9L433.8,209.6L435,209.3L436.1,209L437.2,208.6L438.3,208.2L439.8,207.6L441.5,206.9L443.5,206.3L445.5,205.8L447.3,205.5L448.8,205.3L450.1,205.1L451.4,204.9L452.7,204.6L454.1,204.3L455.5,203.9L457,203.6L458.6,203.2L460.1,202.9L461.6,202.6L463.1,202.3L464.7,202L466.3,201.7L468,201.4L469.6,201.2L471.2,201L472.7,200.9L474.1,200.7L475.4,200.6L476.6,200.4L478,200.1L479.5,199.8L481.1,199.5L482.6,199.3L483.9,199.1L485.3,198.8L486.8,198.5L488.5,198.1L490.3,197.9L492.1,197.7L493.7,197.6L494.9,197.5L495.9,197.3L496.9,197.1L498,196.8L499.5,196.4L501.3,195.8L503.5,195.4L505.7,195.2L507.7,195.1L509.3,195.2L510.5,195.2L511.6,195.1L512.5,195L513.6,194.8L514.9,194.6L516.5,194.2L518.2,193.9L519.9,193.6L521.5,193.4L523,193.2L524.5,193L526.1,192.7L527.7,192.5L529.4,192.4L531,192.3L532.4,192.2L533.7,192L535,191.9L536.5,191.7L537.9,191.5L539.3,191.3L540.8,191L542.5,190.8L544.4,190.6L546.3,190.5L548,190.5L549.4,190.5L550.7,190.5L552.1,190.4L553.4,190.3L554.8,190.2L556.2,190.1L557.7,190L559.5,189.8L561.3,189.7L563,189.7L564.2,189.7L565.2,189.7L566.2,189.6L567.4,189.3L569,189L570.8,188.7L572.6,188.5L574.4,188.3L575.9,188.2L577.2,188.1L578.3,188L579.6,187.8L580.9,187.5L582.5,187.2L584.1,187L585.7,186.7L587.3,186.5L589,186.2L590.8,186.1L592.8,186L594.8,186L596.6,186.1L598.1,186.3L599.3,186.4L600.3,186.4L601.6,186.3L603,186.3L604.5,186.2L605.9,186.1L607.2,186L608.5,185.9L609.8,185.7L611.4,185.5L613.1,185.3L614.9,185.1L616.6,185L618.3,185L619.9,185L621.4,185L622.7,185L624,184.9L625.2,184.8L626.5,184.7L628,184.5L629.6,184.3L631.4,184.2L633.2,184.1L635,184.1L636.8,184.1L638.4,184.2L639.8,184.3L641.1,184.3L642.5,184.4L643.8,184.4L645.1,184.3L646.2,184.3L647.4,184.1L648.8,183.9L650.5,183.7L652.5,183.5L654.6,183.5L656.5,183.6L658.2,183.7L659.5,183.8L660.6,183.9L661.7,183.9L662.8,183.9L663.7,183.7L664.7,183.5L665.9,183.2L667.5,182.8L669.4,182.4L671.7,182L674,181.9L676.1,182L678,182.3L679.6,182.5L680.9,182.7L681.9,182.8L682.7,182.8L683.7,182.7L684.9,182.6L686.3,182.4L687.9,182.1L689.6,181.9L691.4,181.8L693.2,181.7L695,181.7L696.4,181.7L697.7,181.7L699,181.6L700.5,181.5L702.4,181.4L704.4,181.5L706.2,181.6L707.6,181.7L708.7,181.8L709.7,181.8L711,181.7L712.5,181.6L714,181.5L715.5,181.5L716.9,181.4L718.1,181.3L719.4,181.1L720.8,180.9L722.4,180.6L724.2,180.4L726.2,180.2L728,180.2L729.7,180.2L731.2,180.3L732.6,180.3L734.1,180.3L735.8,180.3L737.6,180.4L739.3,180.6L740.8,180.7L741.9,180.8L742.9,180.8L744,180.8L745.3,180.7L746.8,180.5L748.6,180.4L750.4,180.3L752.1,180.3L753.6,180.3L754.8,180.3L755.9,180.3L757.3,180.1L758.8,180L760.7,179.8L762.6,179.8L764.6,179.9L766.3,180L767.7,180.2L768.8,180.2L769.7,180.2L770.7,180.1L771.9,180L773.5,179.7L775.4,179.5L777.3,179.4L779.1,179.4L780.6,179.4L781.9,179.4L783.3,179.3L784.9,179.3L786.6,179.2L788.3,179.2L789.8,179.3L791.2,179.3L792.7,179.3L794.3,179.4L796,179.4L797.8,179.6L799.3,179.7L800.5,179.8L801.3,179.8L802.1,179.7L803.2,179.5L804.7,179.2L806.5,178.9L808.5,178.7L810.6,178.6L812.4,178.7L814,178.7L815.6,178.8L817.1,178.9L818.8,179L820.5,179.2L822.1,179.4L823.4,179.5L824.6,179.6L825.7,179.7L827,179.6L828.4,179.6L829.9,179.6L831.5,179.5L833,179.5L834.5,179.5L835.8,179.4L837.1,179.3L838.3,179.2L839.6,179.1L841,178.8L842.7,178.6L844.5,178.4L846.4,178.3L848.3,178.3L850.1,178.3L851.8,178.5L853.4,178.6L854.8,178.7L856,178.8L857.2,178.8L858.3,178.8L859.7,178.7L861.2,178.6L863,178.5L864.7,178.5L866.4,178.5L867.9,178.5L869.3,178.6L870.6,178.6L872,178.5L873.5,178.5L875,178.5L876.5,178.4L878.1,178.4L879.6,178.3L881,178.3L882.5,178.3L884.1,178.2L885.6,178.2L887.1,178.2L888.5,178.1L889.8,178.1L891.1,178L892.5,177.8L894,177.7L895.7,177.5L897.5,177.4L899.4,177.4L901.3,177.5L902.9,177.6L904.4,177.7L905.9,177.9L907.4,178L908.8,178.1L910.1,178.2L911.3,178.2L912.7,178.2L914.2,178.1L915.8,178.1L917.2,178.1L918.6,178.1L920,178L921.5,178L923.1,177.9L924.6,177.9L926,177.8L927.5,177.8L929.1,177.7L930.6,177.7L932.1,177.7L933.4,177.6L934.7,177.5L936.2,177.4L937.9,177.2L939.9,177.2L941.9,177.3L943.8,177.5L945.5,177.7L946.9,177.9L948.1,178L949.3,178.1L950.4,178.2L951.6,178.2L952.7,178.1L954,178L955.4,177.8L956.9,177.6L958.4,177.4L960,177.2L961.7,177.1L963.5,176.9L965.2,176.9L966.8,176.8L968.5,176.8L970.1,176.9L971.7,176.9L973.2,177L974.7,177L976.1,177.1L977.7,177.1L979.2,177.2L980.7,177.2L982.1,177.3L983.6,177.3L984.9,177.3L986.3,177.3L987.6,177.3L988.9,177.2L990.1,177.1L991.5,177L993.1,176.8L994.8,176.6L996.7,176.5L998.7,176.5L1000.5,176.6L1002.1,176.7L1003.7,176.8L1005.1,177L1006.6,177.1L1008,177.2L1009.4,177.3L1010.7,177.3L1011.9,177.4L1013.1,177.3L1014.5,177.2L1016.2,177.1L1017.9,177.1L1019.5,177.1L1021.1,177.1L1022.5,177.1L1023.9,177.1L1025.2,177.1L1026.7,177L1028.2,177L1030,176.9L1031.7,176.9L1033.3,177L1034.7,177.1L1036.1,177.1L1037.7,177.1L1039.4,177.1L1041.2,177.3L1042.8,177.4L1044.2,177.6L1045.3,177.6L1046.3,177.6L1047.3,177.6L1048.5,177.4L1049.9,177.2L1051.6,177L1053.3,176.8L1055.1,176.7L1056.9,176.6L1058.6,176.6L1060.2,176.6L1061.7,176.7L1063.1,176.7L1064.5,176.7L1065.9,176.7L1067.4,176.7L1069,176.6L1070.6,176.6L1072.2,176.7L1073.7,176.7L1075.2,176.7L1076.9,176.7L1078.6,176.8L1080.2,176.9L1081.6,177L1082.9,177.1L1083.9,177.1L1084.9,177.1L1086,176.9L1087.4,176.7L1089.1,176.5L1091,176.3L1093,176.2L1094.8,176.2L1096.3,176.3L1097.7,176.3L1099,176.3L1100.4,176.2L1101.9,176.2L1103.4,176.2L1105,176.1L1106.6,176.1L1108.4,176.1L1110.2,176.2L1111.8,176.4L1113.2,176.5L1114.4,176.6L1115.5,176.6L1116.9,176.5L1118.4,176.4L1120.1,176.4L1121.9,176.4L1123.6,176.5L1125.2,176.6L1126.9,176.7L1128.5,176.9L1130,177L1131.4,177.2L1132.8,177.3L1134.1,177.4L1135.4,177.4L1136.7,177.4L1137.9,177.4L1139.1,177.3L1140.4,177.2L1141.9,177.1L1143.5,176.9L1145.2,176.8L1147,176.7L1148.6,176.7L1150.2,176.6L1151.5,176.6L1152.9,176.6L1154.4,176.5L1155.9,176.5L1157.5,176.4L1159.1,176.4L1160.6,176.3L1162.2,176.3L1163.8,176.3L1165.5,176.4L1167.1,176.4L1168.6,176.5L1170.1,176.5L1171.5,176.6L1173,176.6L1174.4,176.7L1175.8,176.7L1177.2,176.7L1178.6,176.7L1180.1,176.7L1181.7,176.6L1183.5,176.6L1185.1,176.7L1186.6,176.8L1188,176.8L1189.5,176.9L1191.1,176.9L1192.6,177L1193.8,177L1194.8,177L1195.9,176.9L1197.3,176.7L1199.2,176.5L1201.2,176.4L1203.3,176.5L1205.2,176.7L1206.7,176.8L1208,177L1209.2,177L1210.5,177.1L1211.8,177.1L1213.1,177.1L1214.5,177L1215.9,176.9L1217.5,176.9L1219,176.8L1220.5,176.7L1222,176.7L1223.4,176.6L1225,176.5L1226.7,176.5L1228.5,176.4L1230.3,176.5L1231.9,176.6L1233.3,176.7L1234.6,176.8L1236,176.8L1237.5,176.8L1239,176.8L1240.3,176.9L1241.6,176.8L1242.8,176.8L1244.1,176.6L1245.6,176.5L1247.2,176.3L1248.9,176.2L1250.6,176.1L1252.1,176.1L1253.6,176L1255,175.9L1256.7,175.9L1258.4,175.8L1260.1,175.9L1261.7,175.9L1263.2,176L1264.7,176L1266.2,176.1L1267.8,176.1L1269.4,176.2L1270.9,176.3L1272.5,176.4L1273.9,176.5L1275.4,176.6L1276.9,176.7L1278.3,176.8L1279.7,176.8L1281,176.9L1282.3,176.9L1283.8,176.8L1285.4,176.8L1287.1,176.8L1288.8,176.8L1290.5,176.9L1292,177L1293.2,177.1L1294.4,177.1L1295.6,177.1L1296.9,177L1298.5,176.9L1300.1,176.8L1301.8,176.7L1303.3,176.7L1304.7,176.7L1306,176.6L1307.5,176.5L1308.9,176.4L1310.5,176.3L1312,176.2L1313.7,176.1L1315.4,176.1L1317.2,176.1L1318.8,176.1L1320.3,176.2L1321.7,176.2L1323,176.2L1324.3,176.2L1325.7,176.1L1327.3,176.1L1329.1,176L1331,176.1L1332.9,176.3L1334.7,176.5L1336.1,176.7L1337.3,176.9L1338.3,176.9L1339.5,177L1340.9,176.9L1342.5,176.9L1344.3,176.9L1345.9,177L1347.4,177L1348.8,177.1L1350.2,177.1L1351.5,177.1L1352.8,177.1L1354.3,177L1355.8,177L1357.5,176.9L1359.1,176.9L1360.7,176.9L1362.2,177L1363.6,177L1365,177L1366.4,176.9L1367.7,176.9L1369.1,176.8L1370.6,176.7L1372.2,176.6L1374,176.5L1375.9,176.6L1377.7,176.7L1379.1,176.8L1380.4,176.8L1381.7,176.9L1383.2,176.9L1384.7,176.9L1386.1,176.9L1387.4,176.9L1388.6,176.8L1389.9,176.7L1391.3,176.5L1392.9,176.4L1394.7,176.2L1396.5,176.1L1398.3,176.1L1400.1,176.2L1401.8,176.3L1403.4,176.5L1405,176.6L1406.4,176.8L1407.7,176.9L1408.8,177L1410,176.9L1411.2,176.9L1412.7,176.8L1414.3,176.7L1416,176.6L1417.7,176.6L1419.2,176.6L1420.6,176.6L1421.9,176.6L1423.2,176.5L1424.7,176.4L1426.3,176.3L1428,176.3L1429.8,176.2L1431.6,176.3L1433.5,176.4L1435.2,176.6L1436.8,176.9L1438.1,177L1439.2,177.1L1440.4,177.2L1441.6,177.2L1442.9,177.1L1444.4,177.1L1446,177L1447.7,177L1449.3,177L1450.7,177L1452.1,177L1453.4,177L1454.9,176.9L1456.5,176.8L1458.1,176.8L1459.7,176.8L1461.2,176.8L1462.5,176.7L1463.8,176.7L1465,176.6L1466.5,176.4L1468.2,176.3L1470,176.2L1471.7,176.1L1473.3,176.1L1474.9,176.1L1476.5,176.2L1478.1,176.2L1479.6,176.3L1480.9,176.3L1482.2,176.3L1483.6,176.3L1485.1,176.3L1486.7,176.2L1488.3,176.2L1489.9,176.2L1491.5,176.2L1493.1,176.3L1494.6,176.4L1495.9,176.4L1497.3,176.4L1498.7,176.4L1500.4,176.4L1502.1,176.4L1503.8,176.5L1505.3,176.6L1506.7,176.7L1508,176.7L1509.3,176.7L1510.7,176.7L1512.1,176.7L1513.4,176.6L1514.6,176.5L1515.9,176.4L1517.4,176.2L1519.1,176L1521,175.9L1522.8,175.8L1524.7,175.8L1526.4,175.9L1528.1,176.1L1529.7,176.2L1531.1,176.4L1532.5,176.5L1533.7,176.6L1535,176.6L1536.5,176.6L1538,176.6L1539.5,176.6L1541,176.7L1542.5,176.7L1544.2,176.7L1545.9,176.8L1547.4,176.9L1548.6,177L1549.7,177L1550.8,176.9L1552.2,176.8L1554,176.6L1555.9,176.6L1557.6,176.6L1558.9,176.6L1559.9,176.6L1561.1,176.5L1562.5,176.3L1564.2,176.1L1566.2,176L1568,176L1569.8,176L1571.4,176.1L1572.8,176.2L1574.1,176.2L1575.4,176.2L1576.7,176.2L1578.1,176.1L1579.7,176L1581.4,176L1583.1,176L1584.9,176.1L1586.5,176.2L1588,176.3L1589.5,176.3L1590.9,176.4L1592.4,176.5L1593.9,176.6L1595.3,176.7L1596.7,176.7L1598.8,177L1600.6,177.9L1602.2,179.2L1603.5,180.8L1604.2,182.8L1604.4,184.8L1604.1,186.9L1603.2,188.7L1601.9,190.3L1600.3,191.5L1598.3,192.3L1596.3,192.5L1594.7,192.4L1593.1,192.4L1591.6,192.3L1590,192.2L1588.5,192.1L1587,192L1585.5,191.9L1584.1,191.8L1582.8,191.8L1581.6,191.8L1580.3,191.8L1578.9,191.9L1577.3,192L1575.6,192L1573.8,192L1572.1,192L1570.5,191.9L1569.1,191.8L1567.9,191.7L1566.7,191.8L1565.6,191.8L1564.4,192L1562.8,192.2L1560.9,192.4L1559,192.4L1557.3,192.4L1556,192.4L1554.9,192.4L1553.6,192.5L1552,192.7L1550.1,192.8L1548.2,192.8L1546.4,192.7L1545,192.6L1543.6,192.5L1542.3,192.5L1540.8,192.5L1539.3,192.4L1537.8,192.4L1536.3,192.4L1534.7,192.4L1533,192.4L1531.3,192.3L1529.6,192.1L1528.1,191.9L1526.6,191.8L1525.3,191.7L1524.1,191.6L1522.9,191.6L1521.8,191.6L1520.6,191.7L1519.3,191.9L1517.8,192.1L1516.1,192.3L1514.3,192.4L1512.6,192.5L1511,192.5L1509.4,192.5L1507.7,192.5L1506,192.4L1504.3,192.3L1502.9,192.2L1501.6,192.2L1500.3,192.2L1498.9,192.2L1497.4,192.2L1495.7,192.2L1494.1,192.2L1492.5,192.1L1491.1,192L1489.7,192L1488.3,192L1486.9,192L1485.5,192.1L1484,192.1L1482.4,192.1L1480.7,192.1L1479,192.1L1477.5,192L1476.1,192L1474.6,191.9L1473.2,191.9L1471.9,191.9L1470.6,192L1469.4,192L1468,192.2L1466.5,192.3L1464.8,192.5L1463,192.5L1461.3,192.6L1459.8,192.6L1458.4,192.6L1457,192.6L1455.6,192.7L1454.1,192.7L1452.4,192.8L1450.7,192.8L1449.2,192.8L1447.8,192.8L1446.4,192.8L1445,192.9L1443.5,192.9L1441.9,193L1440.1,193L1438.2,192.9L1436.4,192.7L1434.7,192.5L1433.2,192.3L1432,192.2L1430.8,192.1L1429.6,192L1428.4,192.1L1427.1,192.1L1425.7,192.2L1424.2,192.3L1422.5,192.4L1420.8,192.4L1419.2,192.4L1417.7,192.4L1416.3,192.4L1415,192.5L1413.7,192.6L1412.1,192.7L1410.4,192.7L1408.5,192.8L1406.6,192.7L1404.9,192.5L1403.4,192.4L1401.9,192.2L1400.5,192.1L1399.2,192L1398,191.9L1396.8,191.9L1395.6,192L1394.4,192.1L1393,192.2L1391.4,192.4L1389.7,192.6L1387.9,192.6L1386.2,192.7L1384.6,192.7L1383.1,192.7L1381.5,192.7L1379.9,192.6L1378.1,192.5L1376.6,192.4L1375.3,192.3L1374.2,192.3L1373,192.4L1371.7,192.5L1370.1,192.6L1368.5,192.7L1366.8,192.7L1365.2,192.8L1363.6,192.8L1362,192.8L1360.5,192.7L1359.1,192.7L1357.7,192.7L1356.3,192.8L1354.9,192.8L1353.3,192.9L1351.7,192.9L1350,192.9L1348.3,192.9L1346.7,192.8L1345.2,192.8L1343.8,192.7L1342.6,192.7L1341.2,192.7L1339.6,192.8L1337.8,192.7L1335.8,192.6L1334,192.4L1332.4,192.2L1331.1,192L1330,191.9L1329,191.8L1327.8,191.9L1326.4,191.9L1324.8,192L1323.1,192L1321.4,192L1319.7,192L1318.2,191.9L1316.9,191.9L1315.6,191.9L1314.3,191.9L1313,192L1311.5,192.1L1310,192.2L1308.5,192.3L1306.9,192.4L1305.3,192.5L1303.7,192.5L1302.2,192.5L1300.8,192.6L1299.5,192.6L1298,192.8L1296.4,192.9L1294.5,192.9L1292.7,192.9L1291,192.8L1289.5,192.7L1288.1,192.6L1286.9,192.6L1285.6,192.6L1284.1,192.6L1282.6,192.7L1280.9,192.7L1279.2,192.6L1277.6,192.6L1276,192.5L1274.4,192.4L1272.9,192.3L1271.4,192.2L1269.9,192.1L1268.5,192L1267,191.9L1265.6,191.9L1264.1,191.8L1262.6,191.8L1261.1,191.7L1259.7,191.7L1258.4,191.6L1257.2,191.7L1255.8,191.7L1254.2,191.8L1252.7,191.9L1251.2,191.9L1249.9,192L1248.6,192.1L1247.2,192.2L1245.7,192.4L1244,192.5L1242.2,192.6L1240.4,192.7L1238.8,192.6L1237.3,192.6L1235.8,192.6L1234.1,192.6L1232.4,192.5L1230.8,192.4L1229.4,192.3L1228.2,192.2L1227,192.2L1225.7,192.3L1224.3,192.4L1222.7,192.5L1221.2,192.5L1219.7,192.6L1218.2,192.6L1216.7,192.7L1215.2,192.8L1213.6,192.9L1211.9,192.9L1210.2,192.9L1208.4,192.8L1206.7,192.7L1204.9,192.5L1203.4,192.4L1202.3,192.2L1201.4,192.2L1200.5,192.2L1199.3,192.4L1197.7,192.6L1195.7,192.8L1193.8,192.8L1192,192.8L1190.5,192.7L1189.1,192.7L1187.6,192.6L1186,192.6L1184.4,192.5L1183.1,192.4L1181.8,192.4L1180.4,192.4L1178.9,192.5L1177.3,192.5L1175.7,192.5L1174.1,192.5L1172.5,192.4L1171,192.4L1169.4,192.3L1167.9,192.3L1166.4,192.2L1165,192.1L1163.6,192.1L1162.3,192.1L1160.9,192.1L1159.4,192.2L1157.9,192.2L1156.5,192.2L1155.1,192.3L1153.5,192.4L1151.9,192.4L1150.3,192.4L1148.8,192.5L1147.5,192.5L1146.2,192.5L1144.9,192.6L1143.5,192.8L1142,193L1140.3,193.1L1138.5,193.2L1136.7,193.2L1135,193.2L1133.3,193.2L1131.6,193L1129.9,192.9L1128.4,192.7L1126.9,192.6L1125.5,192.5L1124.1,192.4L1122.8,192.3L1121.5,192.2L1120.2,192.2L1118.9,192.2L1117.5,192.3L1115.8,192.4L1113.9,192.3L1112.1,192.2L1110.5,192.1L1109.1,192L1107.9,191.9L1106.6,191.9L1105.3,191.9L1103.8,192L1102.3,192L1100.8,192L1099.2,192.1L1097.5,192.1L1095.9,192L1094.4,192L1093.2,192L1092.2,192L1091.1,192.1L1089.8,192.3L1088.2,192.6L1086.3,192.8L1084.3,192.9L1082.3,192.9L1080.5,192.8L1079,192.7L1077.6,192.6L1076.3,192.5L1074.9,192.5L1073.5,192.5L1072,192.5L1070.5,192.4L1069.1,192.4L1067.7,192.5L1066.2,192.5L1064.6,192.5L1063,192.5L1061.4,192.5L1059.9,192.4L1058.5,192.4L1057.2,192.4L1056,192.5L1054.8,192.5L1053.5,192.7L1052.1,192.9L1050.6,193.1L1048.8,193.3L1046.8,193.4L1044.7,193.4L1042.9,193.3L1041.2,193.1L1039.8,193L1038.6,192.9L1037.4,192.9L1035.9,192.9L1034.3,192.8L1032.7,192.8L1031.3,192.7L1030,192.7L1028.8,192.7L1027.4,192.8L1025.8,192.9L1024.1,192.9L1022.5,192.9L1020.9,192.9L1019.4,192.9L1018.1,192.9L1016.8,192.9L1015.4,193L1013.8,193.1L1012.1,193.2L1010.3,193.1L1008.5,193.1L1006.9,193L1005.3,192.8L1003.8,192.7L1002.3,192.6L1000.8,192.5L999.5,192.3L998.2,192.3L997.1,192.3L996.1,192.3L994.8,192.5L993.4,192.6L991.7,192.8L990,193L988.2,193.1L986.5,193.1L984.9,193.1L983.3,193.1L981.7,193.1L980.1,193L978.6,193L977.2,192.9L975.7,192.9L974.1,192.8L972.6,192.8L971.1,192.7L969.7,192.7L968.3,192.6L967,192.6L965.6,192.7L964.3,192.7L963,192.8L961.7,192.9L960.3,193.1L958.9,193.3L957.3,193.5L955.7,193.7L954,193.8L952.2,193.9L950.3,194L948.4,193.9L946.6,193.8L944.8,193.6L943.3,193.3L941.9,193.2L940.8,193L939.8,193L938.8,193L937.5,193.1L936,193.3L934.3,193.4L932.6,193.4L931,193.5L929.6,193.5L928.1,193.6L926.6,193.6L925.1,193.7L923.6,193.7L922.1,193.8L920.6,193.8L919,193.9L917.4,193.9L915.9,193.9L914.4,193.9L912.9,194L911.3,194L909.5,193.9L907.8,193.9L906.2,193.7L904.7,193.6L903.1,193.5L901.7,193.4L900.3,193.3L899.1,193.2L898,193.2L896.9,193.3L895.6,193.4L894,193.6L892.4,193.7L890.7,193.8L889,193.9L887.4,193.9L885.9,194L884.5,194L883,194L881.5,194.1L879.9,194.1L878.4,194.2L877,194.2L875.5,194.2L874,194.3L872.4,194.3L870.8,194.4L869.1,194.4L867.5,194.3L866,194.3L864.7,194.3L863.5,194.3L862.2,194.4L860.8,194.5L859.1,194.6L857.3,194.6L855.4,194.6L853.6,194.5L852,194.3L850.6,194.2L849.2,194.1L848.1,194.1L847,194.1L845.9,194.1L844.7,194.3L843.3,194.5L841.8,194.7L840.1,194.9L838.3,195.1L836.5,195.2L834.9,195.3L833.3,195.3L831.8,195.3L830.4,195.3L828.9,195.4L827.3,195.4L825.6,195.5L823.7,195.4L821.9,195.3L820.2,195.1L818.8,194.9L817.5,194.8L816.1,194.7L814.7,194.6L813.2,194.5L811.9,194.5L810.7,194.4L809.7,194.5L808.7,194.6L807.6,194.8L806.1,195.1L804.2,195.4L801.9,195.6L799.8,195.6L797.9,195.4L796.4,195.3L795.2,195.2L793.9,195.2L792.5,195.1L791,195.1L789.4,195.1L787.9,195L786.6,195L785.3,195L783.9,195.1L782.3,195.2L780.6,195.2L779.1,195.2L777.8,195.2L776.8,195.2L775.6,195.4L774.3,195.6L772.5,195.8L770.4,196L768.3,196L766.4,195.9L764.8,195.7L763.5,195.6L762.5,195.6L761.4,195.6L760.3,195.7L758.8,195.8L757.1,196L755.3,196.1L753.5,196.1L751.9,196.1L750.7,196.1L749.5,196.1L748.3,196.2L746.8,196.4L745.1,196.5L743.1,196.6L741.1,196.6L739.3,196.5L737.7,196.3L736.5,196.2L735.3,196.1L734,196.1L732.5,196.1L730.9,196.1L729.3,196L728,196L726.9,196L725.8,196.1L724.6,196.3L723.2,196.5L721.6,196.7L719.9,196.9L718.1,197.1L716.5,197.2L714.9,197.3L713.5,197.4L712,197.5L710.2,197.6L708.2,197.6L706.3,197.5L704.8,197.3L703.6,197.2L702.6,197.2L701.4,197.3L699.9,197.4L698.2,197.5L696.5,197.5L695,197.5L693.7,197.5L692.5,197.5L691.3,197.6L690,197.8L688.6,198L687,198.2L685.2,198.4L683.2,198.6L681,198.6L679,198.4L677.3,198.1L675.9,197.9L674.8,197.8L673.9,197.7L673.2,197.8L672.4,197.9L671.4,198.1L669.9,198.5L668.1,199L666.1,199.4L664.1,199.6L662.1,199.7L660.2,199.7L658.4,199.6L656.7,199.4L655.3,199.3L654.3,199.3L653.4,199.3L652.4,199.4L651.1,199.6L649.4,199.8L647.6,200L645.8,200.1L644,200.2L642.4,200.2L640.7,200.1L639.1,200.1L637.5,200L636,199.9L634.8,199.9L633.6,199.9L632.5,199.9L631.2,200L629.8,200.2L628.3,200.4L626.6,200.6L624.9,200.7L623.1,200.8L621.4,200.8L619.9,200.8L618.5,200.8L617.2,200.8L615.9,200.9L614.7,201L613.4,201.1L612,201.3L610.4,201.6L608.6,201.7L606.9,201.9L605.3,201.9L603.8,202L602.3,202.1L600.5,202.2L598.6,202.1L596.7,202L595.2,201.9L594.1,201.8L593,201.8L592,201.8L590.8,201.9L589.5,202.1L588.1,202.3L586.7,202.5L585.4,202.8L583.9,203.1L582.3,203.4L580.5,203.7L578.7,203.9L577,204L575.5,204.1L574.2,204.2L573.1,204.3L571.9,204.5L570.4,204.8L568.7,205.2L566.7,205.4L564.7,205.5L562.9,205.5L561.6,205.5L560.4,205.6L559.2,205.7L557.7,205.8L556.1,206L554.5,206.1L552.9,206.2L551.2,206.3L549.5,206.3L547.9,206.3L546.7,206.3L545.6,206.3L544.5,206.5L543.2,206.6L541.7,206.9L540.2,207.1L538.6,207.4L537,207.6L535.4,207.8L533.7,207.9L532.1,208L530.7,208.1L529.4,208.3L528.1,208.4L526.7,208.6L525.2,208.8L523.7,209L522.3,209.2L521,209.4L519.7,209.7L518.3,210L516.6,210.4L514.8,210.7L512.7,210.9L510.8,211L509.1,211L507.7,210.9L506.7,211L505.9,211L505.1,211.2L504,211.5L502.4,212L500.6,212.5L498.6,212.9L496.6,213.2L494.9,213.3L493.5,213.4L492.3,213.5L491.2,213.7L489.9,213.9L488.5,214.3L486.8,214.6L485.2,214.9L483.8,215.1L482.4,215.4L480.9,215.6L479.4,215.9L477.6,216.2L475.9,216.4L474.3,216.6L472.9,216.7L471.5,216.9L470.2,217.1L469,217.3L467.6,217.5L466.3,217.8L464.8,218.1L463.4,218.4L461.9,218.7L460.6,219L459.2,219.3L457.7,219.7L456.1,220L454.5,220.4L452.8,220.7L451.2,220.9L449.8,221.1L448.6,221.3L447.7,221.5L446.8,221.8L445.6,222.3L444.2,222.9L442.4,223.5L440.6,224.2L438.8,224.6L437.1,225L435.6,225.3L434.3,225.6L433,225.9L431.7,226.2L430.5,226.6L429.4,226.9L428.3,227.4L427.1,227.9L425.6,228.6L423.9,229.3L422,229.9L420.1,230.4L418.5,230.8L417.1,231.1L416,231.4L414.9,231.7L413.7,232.1L412.3,232.6L410.8,233.1L409.3,233.7L407.8,234.1L406.3,234.6L405.1,234.9L404.1,235.3L403.2,235.7L402.2,236.2L401,236.9L399.4,237.7L397.8,238.6L396.2,239.3L394.8,239.9L393.6,240.4L392.4,241L391,241.6L389.5,242.4L388,243.1L386.5,243.7L385.3,244.2L384.3,244.6L383.3,245.1L382.3,245.7L381.2,246.4L380,247.2L378.9,248L377.6,248.9L376.4,249.8L375,250.8L373.5,251.8L372.1,252.7L370.7,253.5L369.3,254.3L368.1,255L366.8,255.7L365.6,256.4L364.5,257.1L363.5,257.7L362.5,258.3L361.6,259L360.5,259.8L359.4,260.7L358.2,261.6L357.1,262.6L355.9,263.5L354.8,264.4L353.6,265.3L352.6,266.2L351.5,267.1L350.5,268L349.6,268.9L348.6,269.8L347.6,270.8L346.5,271.9L345.4,273L344.3,274.1L343.2,275.1L342.2,276.1L341.3,277.1L340.3,278L339.5,278.9L338.6,279.9L337.8,281L336.8,282.2L335.8,283.4L334.9,284.6L333.9,285.8L333,286.9L332,288.1L331.1,289.3L330.2,290.3L329.4,291.4L328.6,292.3L327.9,293.3L327.1,294.4L326.4,295.6L325.6,296.9L324.7,298.3L323.9,299.6L323,301L322.1,302.3L321.3,303.6L320.5,304.7L319.8,305.8L319.1,306.9L318.4,308L317.6,309.2L316.9,310.4L316.2,311.5L315.5,312.6L314.9,313.7L314.3,314.9L313.6,316.1L313,317.5L312.3,318.8L311.6,320.2L310.9,321.5L310.3,322.8L309.6,324.1L309,325.5L308.4,326.8L307.7,328.2L307.1,329.5L306.5,330.9L305.9,332.2L305.2,333.5L304.6,334.9L304,336.3L303.4,337.7L302.7,339L302.1,340.4L301.5,341.6L301,342.9L300.4,344.1L299.8,345.5L299.3,346.8L298.7,348.2L298.1,349.6L297.5,351L297,352.3L296.4,353.7L295.8,355.1L295.3,356.6L294.7,358.1L294.1,359.5L293.5,360.9L292.9,362.3L292.4,363.7L291.8,365L291.3,366.4L290.7,367.7L290.2,369L289.7,370.3L289.2,371.6L288.6,373L288.1,374.3L287.6,375.7L287.1,377L286.6,378.5L286.1,379.9L285.6,381.3L285.1,382.7L284.6,384.1L284.1,385.4L283.6,386.8L283.2,388.1L282.7,389.5L282.3,390.9L281.8,392.3L281.4,393.7L280.9,395.2L280.5,396.6L280.1,398.1L279.6,399.6L279.2,401L278.8,402.5L278.4,403.9L278,405.3L277.6,406.6L277.2,407.9L276.9,409.3L276.5,410.7L276.2,412.1L275.8,413.6L275.5,415.1L275.1,416.6L274.8,418L274.4,419.5L274.1,420.9L273.8,422.3L273.5,423.8L273.2,425.3L272.9,426.7L272.6,428.2L272.3,429.7L272,431.1L271.7,432.5L271.4,434L271.2,435.4L270.9,436.9L270.6,438.3L270.4,439.8L270.1,441.3L269.9,442.8L269.6,444.2L269.4,445.7L269.1,447.2L268.9,448.6L268.6,450.1L268.4,451.6L268.2,453.1L268,454.6L267.7,456L267.5,457.5L267.3,458.9L267.1,460.4L266.9,461.8L266.7,463.3L266.5,464.8L266.3,466.2L266.1,467.7L265.9,469.1L265.7,470.6L265.5,472.1L265.3,473.6L265.1,475.1L264.9,476.6L264.7,478.1L264.5,479.5L264.4,481L264.2,482.5L264,484L263.8,485.5L263.7,487L263.5,488.5L263.3,490L263.2,491.5L263,493L262.8,494.5L262.7,496L262.5,497.5L262.3,499L262.2,500.4L262,501.9L261.9,503.4L261.7,504.9L261.6,506.3L261.4,507.8L261.3,509.3L261.1,510.8L261,512.3L260.8,513.8L260.7,515.3L260.6,516.8L260.4,518.2L260.3,519.7L260.1,521.2L260,522.7L259.9,524.2L259.7,525.7L259.6,527.2L259.5,528.7L259.3,530.1L259.2,531.6L259.1,533.1L258.9,534.6L258.8,536.1L258.7,537.6L258.6,539.1L258.4,540.6L258.3,542.1L258.2,543.6L258.1,545.1L258,546.6L257.8,548.1L257.7,549.6L257.6,551.1L257.5,552.6L257.4,554.1L257.3,555.5L257.1,557L257,558.5L256.9,560L256.8,561.5L256.7,563L256.6,564.5L256.5,566L256.4,567.5L256.3,569L256.2,570.5L256.1,572L256,573.5L255.9,575L255.8,576.5L255.7,578L255.6,579.4L255.5,580.9L255.4,582.4L255.3,583.9L255.2,585.4L255.1,586.9L255,588.4L254.9,589.9L254.8,591.4L254.7,592.9L254.6,594.4L254.5,595.9L254.4,597.4L254.3,598.9L254.2,600.4L254.1,601.9L254,603.4L253.9,604.9L253.9,606.4L253.8,607.9L253.7,609.4L253.6,610.9L253.5,612.4L253.4,613.9L253.3,615.4L253.2,616.9L253.2,618.4L253.1,619.9L253,621.3L252.9,622.8L252.8,624.3L252.7,625.8L252.7,627.3L252.6,628.8L252.5,630.3L252.4,631.8L252.3,633.3L252,635.4L251.1,637.2L249.7,638.8L248,640L246.1,640.6L244,640.8L242,640.4L240.1,639.5L238.6,638.2L237.4,636.5L236.7,634.6L236.6,632.5Z" fill="#2AA3E0"/>
<circle cx="243.2" cy="646" r="6.1" fill="#0070C6"/>
<circle cx="243" cy="662.5" r="6.1" fill="#0070C6"/>
<circle cx="242.8" cy="679.5" r="6.1" fill="#0070C6"/>
<circle cx="242.6" cy="697" r="6.1" fill="#0070C6"/>
<circle cx="242.5" cy="716" r="6.1" fill="#0070C6"/>
<circle cx="242.5" cy="738" r="6.1" fill="#0070C6"/>
<circle cx="243" cy="765" r="6.1" fill="#0070C6"/>
<circle cx="243.5" cy="799" r="6.1" fill="#0070C6"/>
<circle cx="243" cy="834" r="6.1" fill="#0070C6"/>
<circle cx="241.5" cy="857" r="6.1" fill="#0070C6"/>
<circle cx="239.5" cy="905" r="6.1" fill="#0070C6"/>
<path d="M237.8,632.6L237.8,631.1L237.9,629.6L238,628L238.1,626.5L238.2,625L238.2,623.5L238.3,622L238.4,620.5L238.5,619L238.6,617.5L238.7,616L238.8,614.5L238.8,613L238.9,611.5L239,610L239.1,608.5L239.2,607L239.3,605.5L239.4,604L239.5,602.5L239.5,601L239.6,599.5L239.7,598L239.8,596.5L239.9,595L240,593.5L240.1,592L240.2,590.5L240.3,589L240.4,587.5L240.5,586L240.6,584.5L240.7,583L240.8,581.5L240.9,580L241,578.5L241.1,577L241.2,575.5L241.3,574L241.4,572.5L241.5,571L241.6,569.5L241.7,568L241.8,566.5L241.9,565L242,563.5L242.1,562L242.3,560.5L242.4,558.9L242.5,557.4L242.6,555.9L242.7,554.4L242.8,552.9L242.9,551.4L243,549.9L243.2,548.4L243.3,546.9L243.4,545.4L243.5,543.9L243.6,542.4L243.8,540.9L243.9,539.4L244,537.9L244.1,536.4L244.3,534.9L244.4,533.4L244.5,531.8L244.7,530.3L244.8,528.9L244.9,527.4L245.1,525.9L245.2,524.4L245.3,522.9L245.5,521.4L245.6,519.9L245.7,518.4L245.9,516.9L246,515.4L246.2,513.9L246.3,512.4L246.4,510.9L246.6,509.4L246.7,507.9L246.9,506.4L247,504.9L247.2,503.4L247.4,501.9L247.5,500.4L247.7,498.9L247.8,497.4L248,495.9L248.2,494.4L248.3,492.9L248.5,491.4L248.6,489.9L248.8,488.3L249,486.8L249.2,485.3L249.3,483.8L249.5,482.3L249.7,480.8L249.9,479.3L250.1,477.8L250.2,476.3L250.4,474.8L250.6,473.3L250.8,471.8L251,470.2L251.2,468.7L251.4,467.2L251.6,465.7L251.8,464.2L252,462.8L252.2,461.3L252.4,459.8L252.6,458.3L252.8,456.8L253,455.3L253.2,453.9L253.5,452.4L253.7,450.9L253.9,449.4L254.1,447.9L254.3,446.4L254.6,444.9L254.8,443.4L255,441.9L255.3,440.4L255.5,438.9L255.8,437.4L256,435.8L256.3,434.3L256.5,432.8L256.8,431.3L257,429.8L257.3,428.3L257.5,426.9L257.8,425.4L258.1,423.9L258.3,422.4L258.6,420.9L258.9,419.4L259.2,417.8L259.5,416.3L259.7,414.9L260,413.4L260.3,411.9L260.6,410.3L260.9,408.8L261.2,407.2L261.6,405.7L261.9,404.2L262.2,402.7L262.5,401.3L262.9,399.8L263.2,398.4L263.5,397L263.9,395.5L264.2,394L264.6,392.4L265,390.9L265.3,389.3L265.7,387.8L266.1,386.2L266.5,384.7L266.9,383.2L267.3,381.7L267.8,380.2L268.2,378.7L268.6,377.3L269,375.9L269.5,374.4L269.9,372.9L270.4,371.4L270.9,369.9L271.4,368.4L271.9,366.9L272.4,365.4L272.9,364L273.5,362.5L274,361.1L274.5,359.7L275.1,358.3L275.6,356.9L276.2,355.5L276.7,354.1L277.3,352.7L277.9,351.3L278.5,349.9L279.1,348.4L279.7,346.9L280.3,345.4L280.9,343.9L281.6,342.5L282.2,341L282.9,339.6L283.5,338.2L284.2,336.7L284.9,335.3L285.6,333.9L286.3,332.6L287,331.3L287.6,330L288.3,328.7L289,327.4L289.7,326L290.4,324.6L291.1,323.2L291.9,321.9L292.6,320.5L293.3,319.2L294,317.8L294.8,316.5L295.5,315.1L296.3,313.7L297.1,312.4L297.8,311.1L298.6,309.8L299.4,308.4L300.2,307L301,305.5L301.9,304.2L302.7,302.9L303.5,301.7L304.3,300.6L305.2,299.3L306,298.1L306.9,296.9L307.8,295.7L308.6,294.6L309.4,293.5L310.2,292.4L311,291.2L311.8,290L312.7,288.6L313.6,287.3L314.6,285.9L315.6,284.5L316.6,283.1L317.6,281.8L318.6,280.7L319.6,279.6L320.5,278.5L321.4,277.4L322.3,276.3L323.3,275.1L324.3,273.9L325.3,272.8L326.3,271.5L327.4,270.3L328.5,269L329.7,267.8L330.8,266.6L331.9,265.6L332.9,264.5L334,263.5L335,262.5L336.1,261.5L337.2,260.4L338.3,259.2L339.5,258.1L340.8,257L342,255.9L343.2,254.9L344.4,254L345.5,253L346.7,252.1L347.9,251.2L349,250.2L350.2,249.3L351.5,248.3L352.8,247.3L354.2,246.2L355.6,245.3L357,244.4L358.4,243.7L359.6,243L360.8,242.3L362.1,241.6L363.2,240.9L364.4,240.2L365.5,239.5L366.6,238.8L367.8,237.9L369.1,237L370.5,236L371.9,235.1L373.3,234.1L374.8,233.2L376.3,232.3L378,231.4L379.6,230.7L381,230.1L382.2,229.6L383.4,229.1L384.6,228.5L386,227.9L387.5,227.1L389,226.5L390.3,225.9L391.5,225.4L392.6,224.8L393.9,224.1L395.3,223.3L397,222.4L398.8,221.7L400.6,221.1L402.1,220.6L403.5,220.2L404.8,219.8L406.1,219.3L407.4,218.9L408.9,218.3L410.5,217.8L412.2,217.3L413.8,216.9L415.3,216.6L416.5,216.3L417.6,216L418.6,215.6L419.8,215.1L421.2,214.5L422.8,213.8L424.5,213.2L426.3,212.6L427.9,212.1L429.5,211.7L431.1,211.4L432.6,211L434,210.7L435.3,210.4L436.5,210.1L437.6,209.8L438.8,209.3L440.2,208.7L441.9,208.1L443.8,207.5L445.8,207L447.5,206.7L449,206.5L450.3,206.3L451.6,206L452.9,205.8L454.3,205.4L455.8,205.1L457.3,204.7L458.9,204.4L460.4,204.1L461.9,203.8L463.4,203.5L464.9,203.2L466.5,202.9L468.2,202.6L469.8,202.4L471.4,202.2L472.9,202.1L474.2,201.9L475.5,201.8L476.8,201.6L478.2,201.3L479.7,201L481.3,200.7L482.8,200.5L484.2,200.2L485.5,200L487,199.6L488.7,199.3L490.5,199L492.2,198.9L493.8,198.8L495.1,198.6L496.1,198.5L497.2,198.3L498.4,198L499.8,197.5L501.6,197L503.7,196.6L505.8,196.4L507.7,196.3L509.3,196.4L510.5,196.4L511.6,196.3L512.7,196.2L513.8,196L515.2,195.7L516.7,195.4L518.4,195.1L520.1,194.8L521.7,194.6L523.2,194.4L524.7,194.1L526.2,193.9L527.9,193.7L529.5,193.6L531,193.5L532.5,193.4L533.8,193.2L535.2,193.1L536.6,192.9L538,192.7L539.5,192.5L541,192.2L542.7,192L544.5,191.8L546.4,191.7L548,191.7L549.4,191.7L550.8,191.7L552.1,191.6L553.5,191.5L554.9,191.4L556.3,191.3L557.8,191.2L559.5,191L561.3,190.9L563,190.9L564.2,190.9L565.3,190.9L566.4,190.7L567.7,190.5L569.2,190.2L570.9,189.9L572.8,189.7L574.5,189.5L576,189.4L577.3,189.3L578.5,189.2L579.8,189L581.2,188.7L582.7,188.4L584.3,188.1L585.9,187.9L587.5,187.6L589.2,187.4L590.9,187.3L592.8,187.2L594.7,187.2L596.5,187.3L598,187.5L599.2,187.6L600.4,187.6L601.6,187.5L603,187.5L604.5,187.4L606,187.3L607.3,187.2L608.6,187.1L610,186.9L611.6,186.7L613.3,186.5L615,186.3L616.6,186.2L618.3,186.2L619.9,186.2L621.4,186.2L622.8,186.2L624,186.1L625.3,186L626.7,185.9L628.1,185.7L629.7,185.5L631.4,185.4L633.2,185.3L635,185.3L636.7,185.3L638.3,185.4L639.7,185.5L641.1,185.5L642.5,185.6L643.8,185.6L645.1,185.5L646.3,185.5L647.6,185.3L649,185.1L650.6,184.9L652.5,184.7L654.5,184.7L656.4,184.8L658.1,184.9L659.4,185L660.6,185.1L661.8,185.1L662.9,185L663.9,184.9L665,184.7L666.2,184.4L667.8,184L669.7,183.5L671.8,183.2L674,183.1L676,183.2L677.8,183.4L679.4,183.7L680.7,183.9L681.8,184L682.8,184L683.8,183.9L685.1,183.8L686.5,183.5L688.1,183.3L689.8,183.1L691.5,183L693.3,182.9L695,182.9L696.4,182.9L697.8,182.9L699.1,182.8L700.6,182.7L702.4,182.6L704.3,182.7L706.1,182.8L707.5,182.9L708.7,183L709.8,183L711.1,182.9L712.5,182.8L714.1,182.7L715.6,182.7L717,182.6L718.2,182.4L719.5,182.3L721,182L722.6,181.8L724.4,181.6L726.2,181.4L728,181.4L729.6,181.4L731.1,181.5L732.6,181.5L734.1,181.5L735.7,181.5L737.5,181.6L739.2,181.8L740.7,181.9L741.9,182L742.9,182L744.1,182L745.4,181.9L746.9,181.7L748.6,181.6L750.4,181.5L752.1,181.5L753.6,181.5L754.8,181.5L756,181.4L757.4,181.3L759,181.2L760.7,181L762.6,181L764.5,181.1L766.2,181.2L767.6,181.3L768.8,181.4L769.8,181.4L770.8,181.3L772.1,181.1L773.7,180.9L775.5,180.7L777.4,180.6L779.1,180.6L780.6,180.6L781.9,180.6L783.4,180.5L784.9,180.5L786.6,180.4L788.2,180.4L789.8,180.5L791.2,180.5L792.7,180.5L794.2,180.6L796,180.6L797.7,180.7L799.2,180.9L800.4,181L801.3,181L802.2,180.9L803.4,180.7L804.9,180.4L806.7,180.1L808.6,179.9L810.6,179.8L812.4,179.9L814,179.9L815.5,180L817.1,180.1L818.7,180.2L820.4,180.4L821.9,180.6L823.3,180.7L824.5,180.8L825.7,180.9L827,180.8L828.5,180.8L830,180.8L831.5,180.7L833,180.7L834.5,180.7L835.9,180.6L837.2,180.5L838.4,180.4L839.7,180.3L841.2,180L842.8,179.8L844.6,179.6L846.5,179.5L848.3,179.5L850.1,179.5L851.7,179.7L853.3,179.8L854.7,179.9L856,180L857.2,180L858.4,180L859.7,179.9L861.3,179.8L863,179.7L864.7,179.7L866.4,179.7L867.9,179.7L869.3,179.8L870.7,179.8L872.1,179.7L873.5,179.7L875,179.7L876.6,179.6L878.1,179.6L879.6,179.5L881.1,179.5L882.5,179.5L884.1,179.4L885.6,179.4L887.1,179.4L888.5,179.3L889.9,179.3L891.2,179.2L892.6,179L894.1,178.9L895.8,178.7L897.6,178.6L899.4,178.6L901.2,178.7L902.8,178.8L904.3,178.9L905.8,179.1L907.3,179.2L908.7,179.3L910,179.4L911.3,179.4L912.7,179.4L914.2,179.3L915.8,179.3L917.2,179.3L918.7,179.3L920.1,179.2L921.6,179.2L923.1,179.1L924.6,179.1L926.1,179L927.6,179L929.1,178.9L930.7,178.9L932.1,178.9L933.5,178.8L934.8,178.7L936.3,178.6L938,178.4L939.9,178.4L941.8,178.5L943.7,178.7L945.3,178.9L946.7,179.1L948,179.2L949.2,179.3L950.4,179.4L951.6,179.4L952.8,179.3L954.2,179.2L955.6,179L957,178.8L958.6,178.6L960.2,178.4L961.8,178.2L963.5,178.1L965.2,178.1L966.8,178L968.5,178L970.1,178.1L971.7,178.1L973.2,178.2L974.6,178.2L976.1,178.3L977.6,178.3L979.2,178.4L980.7,178.4L982.1,178.5L983.5,178.5L984.9,178.5L986.3,178.5L987.7,178.5L989,178.4L990.3,178.3L991.6,178.2L993.2,178L994.9,177.8L996.8,177.7L998.6,177.7L1000.4,177.8L1002,177.9L1003.5,178L1005,178.2L1006.5,178.3L1007.9,178.4L1009.3,178.5L1010.6,178.5L1011.9,178.6L1013.2,178.5L1014.6,178.4L1016.2,178.3L1017.9,178.3L1019.5,178.3L1021.1,178.3L1022.5,178.3L1023.9,178.3L1025.3,178.3L1026.7,178.2L1028.3,178.2L1030,178.1L1031.7,178.1L1033.2,178.2L1034.7,178.3L1036.1,178.3L1037.6,178.3L1039.3,178.3L1041.1,178.4L1042.7,178.6L1044.1,178.8L1045.3,178.8L1046.3,178.8L1047.4,178.8L1048.7,178.6L1050.1,178.4L1051.7,178.2L1053.4,178L1055.2,177.9L1056.9,177.8L1058.6,177.8L1060.2,177.8L1061.7,177.9L1063.1,177.9L1064.5,177.9L1066,177.9L1067.5,177.9L1069,177.8L1070.6,177.8L1072.2,177.9L1073.7,177.9L1075.2,177.9L1076.8,177.9L1078.5,178L1080.1,178.1L1081.6,178.2L1082.8,178.3L1084,178.3L1085,178.3L1086.2,178.1L1087.6,177.9L1089.2,177.6L1091.1,177.4L1093,177.4L1094.8,177.4L1096.3,177.4L1097.7,177.5L1099.1,177.5L1100.5,177.4L1102,177.4L1103.5,177.4L1105,177.3L1106.6,177.3L1108.3,177.3L1110.1,177.4L1111.7,177.6L1113.1,177.7L1114.4,177.8L1115.6,177.8L1116.9,177.7L1118.4,177.6L1120.1,177.6L1121.8,177.6L1123.5,177.7L1125.1,177.8L1126.8,177.9L1128.3,178.1L1129.9,178.2L1131.3,178.4L1132.7,178.5L1134,178.6L1135.4,178.6L1136.7,178.6L1137.9,178.6L1139.2,178.5L1140.5,178.4L1142,178.3L1143.6,178.1L1145.3,178L1147,177.9L1148.6,177.9L1150.2,177.8L1151.6,177.8L1153,177.8L1154.4,177.7L1156,177.7L1157.6,177.6L1159.1,177.6L1160.6,177.5L1162.2,177.5L1163.8,177.5L1165.4,177.6L1167,177.6L1168.5,177.7L1170,177.7L1171.5,177.8L1173,177.8L1174.4,177.9L1175.8,177.9L1177.2,177.9L1178.6,177.9L1180.1,177.9L1181.8,177.8L1183.4,177.8L1185.1,177.9L1186.6,178L1188,178L1189.5,178.1L1191,178.1L1192.5,178.2L1193.8,178.2L1194.9,178.2L1196.1,178.1L1197.5,177.9L1199.3,177.7L1201.3,177.6L1203.3,177.7L1205.1,177.8L1206.6,178L1207.9,178.2L1209.1,178.2L1210.4,178.3L1211.8,178.3L1213.1,178.3L1214.5,178.2L1216,178.1L1217.5,178.1L1219.1,178L1220.6,177.9L1222,177.9L1223.5,177.8L1225.1,177.7L1226.7,177.7L1228.5,177.6L1230.2,177.7L1231.8,177.8L1233.2,177.9L1234.6,178L1236,178L1237.4,178L1238.9,178L1240.4,178.1L1241.6,178L1242.9,178L1244.2,177.8L1245.7,177.7L1247.3,177.5L1249,177.4L1250.6,177.3L1252.2,177.3L1253.6,177.2L1255.1,177.1L1256.7,177.1L1258.4,177L1260.1,177.1L1261.6,177.1L1263.2,177.2L1264.6,177.2L1266.2,177.3L1267.7,177.3L1269.3,177.4L1270.9,177.5L1272.4,177.6L1273.9,177.7L1275.4,177.8L1276.8,177.9L1278.3,178L1279.6,178L1281,178.1L1282.4,178.1L1283.8,178L1285.4,178L1287,178L1288.7,178L1290.4,178.1L1291.9,178.2L1293.2,178.3L1294.4,178.3L1295.6,178.3L1297,178.2L1298.5,178.1L1300.2,178L1301.8,177.9L1303.3,177.9L1304.7,177.9L1306.1,177.8L1307.5,177.7L1309,177.6L1310.6,177.5L1312.1,177.4L1313.7,177.3L1315.4,177.3L1317.1,177.3L1318.8,177.3L1320.3,177.4L1321.6,177.4L1323,177.4L1324.3,177.4L1325.7,177.3L1327.3,177.3L1329.1,177.2L1331,177.3L1332.8,177.5L1334.5,177.7L1335.9,177.9L1337.2,178.1L1338.3,178.1L1339.5,178.2L1340.9,178.1L1342.5,178.1L1344.2,178.1L1345.9,178.2L1347.4,178.2L1348.8,178.3L1350.1,178.3L1351.5,178.3L1352.9,178.3L1354.3,178.2L1355.9,178.2L1357.5,178.1L1359.1,178.1L1360.6,178.1L1362.1,178.2L1363.6,178.2L1365,178.2L1366.4,178.1L1367.8,178.1L1369.2,178L1370.6,177.9L1372.3,177.8L1374.1,177.7L1375.9,177.8L1377.6,177.9L1379,178L1380.3,178L1381.7,178.1L1383.2,178.1L1384.7,178.1L1386.1,178.1L1387.4,178.1L1388.7,178L1390,177.9L1391.4,177.7L1393,177.5L1394.7,177.4L1396.5,177.3L1398.3,177.3L1400,177.4L1401.7,177.5L1403.3,177.7L1404.8,177.8L1406.3,178L1407.6,178.1L1408.8,178.2L1410,178.1L1411.3,178.1L1412.8,178L1414.4,177.9L1416.1,177.8L1417.7,177.8L1419.2,177.8L1420.6,177.8L1421.9,177.8L1423.3,177.7L1424.8,177.6L1426.4,177.5L1428,177.5L1429.8,177.4L1431.6,177.5L1433.3,177.6L1435.1,177.8L1436.6,178L1438,178.2L1439.2,178.3L1440.4,178.4L1441.6,178.4L1443,178.3L1444.5,178.3L1446.1,178.2L1447.7,178.2L1449.3,178.2L1450.7,178.2L1452.1,178.2L1453.5,178.2L1454.9,178.1L1456.5,178L1458.2,178L1459.7,178L1461.2,178L1462.6,177.9L1463.8,177.9L1465.2,177.8L1466.6,177.6L1468.3,177.5L1470,177.4L1471.7,177.3L1473.3,177.3L1474.9,177.3L1476.5,177.4L1478,177.4L1479.5,177.5L1480.9,177.5L1482.2,177.5L1483.6,177.5L1485.1,177.5L1486.7,177.4L1488.3,177.4L1489.9,177.4L1491.5,177.4L1493.1,177.5L1494.5,177.6L1495.9,177.6L1497.3,177.6L1498.7,177.6L1500.4,177.6L1502.1,177.6L1503.7,177.7L1505.3,177.8L1506.6,177.9L1508,177.9L1509.3,177.9L1510.8,177.9L1512.2,177.9L1513.5,177.8L1514.7,177.7L1516,177.6L1517.6,177.4L1519.2,177.2L1521,177.1L1522.8,177L1524.6,177L1526.3,177.1L1528,177.3L1529.6,177.4L1531,177.6L1532.4,177.7L1533.7,177.8L1535,177.8L1536.5,177.8L1538,177.8L1539.5,177.8L1541,177.9L1542.5,177.9L1544.1,177.9L1545.8,178L1547.3,178.1L1548.6,178.2L1549.7,178.2L1550.9,178.1L1552.3,178L1554,177.8L1555.9,177.8L1557.5,177.8L1558.9,177.8L1560,177.8L1561.2,177.7L1562.6,177.5L1564.4,177.3L1566.2,177.2L1568,177.2L1569.7,177.2L1571.3,177.3L1572.7,177.4L1574.1,177.4L1575.4,177.4L1576.7,177.4L1578.1,177.3L1579.7,177.2L1581.4,177.2L1583.1,177.2L1584.8,177.3L1586.4,177.3L1587.9,177.5L1589.4,177.5L1590.9,177.6L1592.4,177.7L1593.8,177.8L1595.3,177.9L1596.7,177.9L1598.4,178.2L1600,178.9L1601.4,180L1602.4,181.4L1603,183.1L1603.2,184.8L1602.9,186.5L1602.2,188.1L1601.1,189.5L1599.7,190.5L1598,191.1L1596.3,191.3L1594.7,191.2L1593.2,191.2L1591.6,191.1L1590.1,191L1588.6,190.9L1587,190.8L1585.6,190.7L1584.2,190.6L1582.8,190.6L1581.6,190.6L1580.2,190.6L1578.8,190.7L1577.2,190.8L1575.5,190.8L1573.8,190.8L1572.2,190.8L1570.6,190.7L1569.2,190.6L1567.9,190.5L1566.7,190.6L1565.5,190.6L1564.2,190.8L1562.7,191L1560.9,191.2L1559,191.2L1557.3,191.2L1556,191.2L1554.8,191.2L1553.5,191.3L1551.9,191.5L1550.1,191.6L1548.2,191.6L1546.5,191.5L1545,191.4L1543.7,191.3L1542.3,191.3L1540.8,191.3L1539.3,191.2L1537.8,191.2L1536.3,191.2L1534.8,191.2L1533.1,191.2L1531.4,191.1L1529.8,190.9L1528.2,190.8L1526.8,190.6L1525.4,190.5L1524.1,190.4L1522.9,190.4L1521.7,190.4L1520.5,190.5L1519.2,190.7L1517.7,190.9L1516,191.1L1514.2,191.2L1512.5,191.3L1510.9,191.3L1509.4,191.3L1507.7,191.3L1506,191.2L1504.4,191.1L1503,191L1501.6,191L1500.3,191L1498.9,191L1497.4,191L1495.7,191L1494.1,191L1492.6,190.9L1491.1,190.8L1489.7,190.8L1488.3,190.8L1486.9,190.8L1485.5,190.9L1484,190.9L1482.4,190.9L1480.7,190.9L1479.1,190.9L1477.5,190.8L1476.1,190.8L1474.7,190.7L1473.2,190.7L1471.9,190.7L1470.6,190.8L1469.3,190.8L1467.9,191L1466.4,191.1L1464.7,191.3L1463,191.3L1461.3,191.4L1459.8,191.4L1458.4,191.4L1457,191.4L1455.6,191.5L1454,191.5L1452.4,191.6L1450.7,191.6L1449.2,191.6L1447.8,191.6L1446.4,191.6L1445,191.7L1443.5,191.7L1441.8,191.8L1440.1,191.8L1438.3,191.7L1436.5,191.5L1434.8,191.3L1433.4,191.1L1432.1,191L1430.9,190.9L1429.7,190.8L1428.4,190.9L1427.1,190.9L1425.6,191L1424.1,191.1L1422.5,191.2L1420.8,191.2L1419.2,191.2L1417.7,191.2L1416.3,191.2L1415,191.3L1413.6,191.4L1412.1,191.5L1410.4,191.5L1408.5,191.6L1406.7,191.5L1405,191.3L1403.5,191.2L1402,191L1400.6,190.9L1399.3,190.8L1398,190.7L1396.8,190.7L1395.6,190.8L1394.3,190.9L1392.9,191L1391.3,191.2L1389.6,191.4L1387.9,191.4L1386.2,191.5L1384.6,191.5L1383.1,191.5L1381.6,191.5L1379.9,191.4L1378.2,191.3L1376.6,191.2L1375.3,191.1L1374.2,191.1L1373,191.2L1371.6,191.3L1370,191.4L1368.4,191.5L1366.8,191.5L1365.2,191.6L1363.6,191.6L1362,191.6L1360.5,191.5L1359.1,191.5L1357.7,191.5L1356.3,191.6L1354.8,191.6L1353.3,191.7L1351.7,191.7L1350,191.7L1348.3,191.7L1346.7,191.6L1345.2,191.6L1343.9,191.5L1342.6,191.5L1341.2,191.5L1339.6,191.6L1337.8,191.5L1335.9,191.4L1334.1,191.2L1332.6,191L1331.3,190.8L1330.1,190.7L1329,190.6L1327.7,190.7L1326.3,190.7L1324.8,190.8L1323.1,190.8L1321.4,190.8L1319.8,190.8L1318.3,190.7L1316.9,190.7L1315.6,190.7L1314.3,190.7L1312.9,190.8L1311.4,190.9L1310,191L1308.4,191.1L1306.9,191.2L1305.3,191.3L1303.6,191.3L1302.1,191.3L1300.8,191.4L1299.4,191.4L1297.9,191.6L1296.3,191.7L1294.5,191.7L1292.7,191.7L1291.1,191.6L1289.5,191.5L1288.2,191.4L1286.9,191.4L1285.5,191.4L1284.1,191.4L1282.5,191.5L1280.9,191.5L1279.2,191.4L1277.6,191.4L1276.1,191.3L1274.5,191.2L1273,191.1L1271.5,191L1270,190.9L1268.5,190.8L1267.1,190.7L1265.7,190.7L1264.2,190.6L1262.7,190.6L1261.2,190.5L1259.8,190.5L1258.4,190.4L1257.1,190.5L1255.7,190.5L1254.2,190.6L1252.6,190.7L1251.2,190.7L1249.8,190.8L1248.5,190.9L1247.1,191L1245.5,191.2L1243.9,191.3L1242.1,191.4L1240.4,191.5L1238.8,191.4L1237.3,191.4L1235.8,191.4L1234.2,191.4L1232.5,191.3L1230.9,191.2L1229.5,191.1L1228.2,191L1227,191L1225.6,191.1L1224.2,191.2L1222.7,191.3L1221.1,191.3L1219.6,191.4L1218.1,191.4L1216.7,191.5L1215.1,191.6L1213.5,191.7L1211.9,191.7L1210.2,191.7L1208.5,191.6L1206.8,191.5L1205.1,191.3L1203.6,191.2L1202.4,191L1201.4,191L1200.4,191.1L1199.1,191.2L1197.5,191.4L1195.7,191.6L1193.8,191.6L1192.1,191.6L1190.5,191.5L1189.1,191.5L1187.6,191.4L1186,191.4L1184.5,191.3L1183.1,191.2L1181.8,191.2L1180.4,191.2L1178.9,191.3L1177.3,191.3L1175.7,191.3L1174.1,191.3L1172.6,191.2L1171,191.2L1169.5,191.1L1168,191.1L1166.5,191L1165,190.9L1163.7,190.9L1162.3,190.9L1160.9,190.9L1159.4,191L1157.9,191L1156.5,191L1155,191.1L1153.5,191.2L1151.9,191.2L1150.3,191.2L1148.8,191.3L1147.4,191.3L1146.1,191.3L1144.8,191.4L1143.4,191.6L1141.9,191.8L1140.2,191.9L1138.4,192L1136.7,192L1135,192L1133.3,192L1131.7,191.9L1130.1,191.7L1128.5,191.6L1127,191.4L1125.6,191.3L1124.2,191.2L1122.8,191.1L1121.5,191L1120.2,191L1118.9,191L1117.4,191.1L1115.7,191.2L1113.9,191.1L1112.2,191L1110.6,190.9L1109.2,190.8L1107.9,190.7L1106.6,190.7L1105.3,190.7L1103.8,190.8L1102.3,190.8L1100.8,190.8L1099.2,190.9L1097.6,190.9L1095.9,190.8L1094.5,190.8L1093.2,190.8L1092.1,190.8L1091,190.9L1089.6,191.1L1088,191.4L1086.2,191.6L1084.2,191.7L1082.4,191.7L1080.6,191.6L1079.1,191.5L1077.7,191.4L1076.4,191.3L1075,191.3L1073.5,191.3L1072,191.3L1070.5,191.2L1069.1,191.2L1067.7,191.3L1066.2,191.3L1064.6,191.3L1063,191.3L1061.4,191.3L1059.9,191.2L1058.5,191.2L1057.2,191.2L1055.9,191.3L1054.7,191.3L1053.4,191.5L1052,191.7L1050.4,191.9L1048.7,192.1L1046.7,192.2L1044.8,192.2L1043,192.1L1041.3,191.9L1039.9,191.8L1038.7,191.7L1037.4,191.7L1036,191.7L1034.4,191.6L1032.8,191.6L1031.3,191.5L1030,191.5L1028.7,191.5L1027.3,191.6L1025.7,191.7L1024.1,191.7L1022.5,191.7L1020.9,191.7L1019.4,191.7L1018.1,191.7L1016.7,191.7L1015.3,191.8L1013.8,191.9L1012.1,192L1010.3,191.9L1008.6,191.9L1007,191.8L1005.4,191.6L1003.9,191.5L1002.4,191.4L1000.9,191.3L999.5,191.1L998.3,191.1L997.1,191.1L996,191.1L994.7,191.3L993.2,191.5L991.6,191.6L989.9,191.8L988.2,191.9L986.5,191.9L984.9,191.9L983.3,191.9L981.7,191.9L980.2,191.8L978.7,191.8L977.2,191.7L975.7,191.7L974.2,191.6L972.6,191.6L971.2,191.5L969.7,191.5L968.3,191.4L966.9,191.4L965.6,191.5L964.3,191.5L962.9,191.6L961.6,191.7L960.2,191.9L958.7,192.1L957.2,192.3L955.6,192.5L953.9,192.6L952.1,192.7L950.3,192.8L948.5,192.7L946.7,192.6L945,192.4L943.4,192.2L942,192L940.9,191.8L939.8,191.8L938.7,191.8L937.4,191.9L935.9,192.1L934.2,192.2L932.5,192.2L931,192.3L929.5,192.3L928.1,192.4L926.6,192.4L925,192.5L923.5,192.5L922.1,192.6L920.6,192.6L919,192.7L917.4,192.7L915.9,192.7L914.4,192.7L912.9,192.8L911.3,192.8L909.6,192.8L907.9,192.7L906.3,192.5L904.8,192.4L903.2,192.3L901.8,192.2L900.4,192.1L899.1,192L898,192L896.8,192.1L895.4,192.2L893.9,192.4L892.3,192.5L890.6,192.6L889,192.7L887.4,192.7L885.9,192.8L884.4,192.8L883,192.8L881.4,192.9L879.9,192.9L878.4,193L876.9,193L875.4,193L873.9,193.1L872.4,193.1L870.8,193.2L869.2,193.2L867.5,193.1L866.1,193.1L864.7,193.1L863.4,193.1L862.1,193.2L860.7,193.3L859,193.4L857.3,193.4L855.4,193.4L853.7,193.3L852.1,193.1L850.7,193L849.3,192.9L848.1,192.9L846.9,192.9L845.8,192.9L844.5,193.1L843.2,193.3L841.6,193.5L839.9,193.7L838.2,193.9L836.5,194L834.8,194.1L833.3,194.1L831.8,194.1L830.3,194.1L828.9,194.2L827.3,194.2L825.6,194.3L823.8,194.2L822,194.1L820.4,193.9L818.9,193.7L817.6,193.6L816.2,193.5L814.8,193.4L813.3,193.3L811.9,193.3L810.7,193.2L809.6,193.3L808.6,193.4L807.4,193.6L805.9,193.9L804,194.2L801.9,194.4L799.8,194.4L798,194.2L796.5,194.1L795.2,194L794,194L792.5,193.9L791,193.9L789.4,193.9L788,193.8L786.6,193.8L785.3,193.8L783.8,193.9L782.2,194L780.6,194L779.1,194L777.8,194L776.7,194L775.5,194.2L774.1,194.4L772.3,194.6L770.4,194.8L768.4,194.8L766.5,194.7L764.9,194.5L763.6,194.4L762.5,194.4L761.4,194.4L760.2,194.5L758.7,194.7L757.1,194.8L755.3,194.9L753.5,194.9L752,194.9L750.6,194.9L749.4,194.9L748.2,195L746.7,195.2L745,195.3L743.1,195.4L741.2,195.4L739.4,195.3L737.8,195.1L736.5,195L735.3,194.9L734,194.9L732.5,194.9L730.9,194.9L729.4,194.8L728,194.8L726.8,194.8L725.6,194.9L724.4,195.1L723,195.3L721.5,195.5L719.8,195.8L718,195.9L716.4,196L714.9,196.1L713.4,196.2L711.9,196.3L710.2,196.4L708.3,196.4L706.4,196.3L704.9,196.1L703.6,196L702.6,196L701.3,196.1L699.9,196.2L698.2,196.3L696.5,196.3L695,196.3L693.6,196.3L692.4,196.3L691.2,196.4L689.8,196.6L688.4,196.8L686.8,197L685.1,197.3L683.1,197.4L681.1,197.4L679.2,197.2L677.5,196.9L676,196.7L674.9,196.6L673.9,196.5L673.1,196.6L672.2,196.7L671.1,197L669.6,197.4L667.9,197.8L666,198.2L664,198.4L662.1,198.5L660.2,198.5L658.4,198.4L656.8,198.3L655.4,198.1L654.3,198.1L653.3,198.1L652.2,198.2L650.9,198.4L649.3,198.6L647.5,198.8L645.7,198.9L644,199L642.4,199L640.8,198.9L639.1,198.9L637.5,198.8L636.1,198.7L634.8,198.7L633.6,198.7L632.4,198.7L631.1,198.9L629.7,199L628.2,199.2L626.5,199.4L624.8,199.5L623.1,199.6L621.4,199.6L619.9,199.6L618.5,199.6L617.2,199.6L615.9,199.7L614.6,199.8L613.2,199.9L611.8,200.1L610.2,200.4L608.5,200.5L606.8,200.7L605.3,200.7L603.8,200.8L602.2,200.9L600.5,201L598.6,200.9L596.8,200.8L595.3,200.7L594.1,200.6L593,200.6L591.9,200.6L590.7,200.7L589.3,200.9L587.9,201.1L586.5,201.4L585.1,201.6L583.7,201.9L582.1,202.2L580.4,202.5L578.6,202.7L576.9,202.8L575.4,202.9L574.1,203L572.9,203.1L571.7,203.4L570.2,203.6L568.5,204L566.6,204.2L564.6,204.3L562.9,204.3L561.6,204.3L560.4,204.4L559.1,204.5L557.6,204.6L556,204.8L554.4,204.9L552.8,205L551.2,205.1L549.5,205.1L548,205.1L546.6,205.1L545.5,205.1L544.3,205.3L543,205.5L541.6,205.7L540,205.9L538.4,206.2L536.9,206.4L535.2,206.6L533.6,206.7L532,206.8L530.6,206.9L529.3,207.1L527.9,207.2L526.5,207.4L525,207.6L523.5,207.8L522.1,208L520.8,208.2L519.5,208.5L518,208.8L516.4,209.2L514.6,209.5L512.7,209.7L510.8,209.8L509.1,209.8L507.7,209.7L506.6,209.8L505.7,209.8L504.8,210L503.6,210.4L502.1,210.8L500.3,211.3L498.4,211.7L496.5,212L494.8,212.1L493.4,212.2L492.2,212.3L491,212.5L489.7,212.8L488.2,213.1L486.6,213.4L485,213.7L483.6,213.9L482.2,214.2L480.7,214.5L479.1,214.7L477.5,215L475.8,215.2L474.2,215.4L472.8,215.5L471.4,215.7L470.1,215.9L468.8,216.1L467.4,216.3L466,216.6L464.6,216.9L463.1,217.2L461.7,217.5L460.3,217.8L458.9,218.1L457.4,218.5L455.9,218.9L454.2,219.2L452.6,219.5L451,219.7L449.6,219.9L448.4,220.1L447.4,220.4L446.4,220.7L445.2,221.2L443.7,221.8L442,222.4L440.2,223L438.5,223.5L436.9,223.8L435.4,224.1L434,224.4L432.7,224.7L431.4,225.1L430.2,225.4L429,225.8L427.9,226.2L426.6,226.8L425.1,227.5L423.4,228.2L421.6,228.8L419.8,229.3L418.2,229.7L416.8,230L415.7,230.2L414.5,230.6L413.3,231L411.9,231.5L410.5,232L408.9,232.5L407.4,233L406,233.4L404.8,233.8L403.7,234.2L402.7,234.6L401.7,235.1L400.4,235.9L398.9,236.7L397.2,237.5L395.7,238.2L394.3,238.8L393.1,239.3L391.8,239.9L390.5,240.6L389,241.3L387.5,242L386.1,242.6L384.8,243.1L383.8,243.5L382.8,244L381.7,244.7L380.6,245.4L379.4,246.2L378.2,247L376.9,247.9L375.7,248.8L374.3,249.8L372.9,250.7L371.4,251.7L370.1,252.5L368.7,253.3L367.5,254L366.2,254.7L365,255.4L363.9,256L362.8,256.7L361.8,257.3L360.8,258L359.8,258.8L358.7,259.8L357.5,260.7L356.3,261.7L355.1,262.6L354,263.5L352.9,264.4L351.8,265.3L350.7,266.2L349.7,267.1L348.7,268L347.7,268.9L346.7,270L345.6,271.1L344.5,272.1L343.5,273.2L342.4,274.2L341.4,275.3L340.4,276.2L339.5,277.2L338.6,278.1L337.7,279.1L336.8,280.2L335.9,281.4L334.9,282.6L333.9,283.8L333,285L332,286.2L331.1,287.3L330.2,288.5L329.3,289.6L328.4,290.6L327.7,291.6L326.9,292.6L326.2,293.7L325.4,295L324.6,296.3L323.7,297.6L322.9,299L322,300.3L321.1,301.6L320.3,302.9L319.5,304L318.8,305.1L318.1,306.2L317.4,307.3L316.6,308.5L315.9,309.7L315.2,310.9L314.5,312L313.9,313.1L313.2,314.3L312.6,315.5L311.9,316.9L311.2,318.3L310.5,319.6L309.9,320.9L309.2,322.2L308.6,323.6L307.9,324.9L307.3,326.3L306.6,327.6L306,329L305.4,330.3L304.8,331.6L304.2,333L303.5,334.4L302.9,335.8L302.3,337.2L301.6,338.5L301,339.8L300.4,341.1L299.9,342.4L299.3,343.6L298.7,345L298.2,346.3L297.6,347.7L297,349.1L296.4,350.5L295.9,351.9L295.3,353.3L294.7,354.7L294.1,356.2L293.6,357.6L293,359.1L292.4,360.5L291.8,361.9L291.3,363.2L290.7,364.6L290.1,365.9L289.6,367.2L289.1,368.5L288.6,369.9L288,371.2L287.5,372.6L287,373.9L286.5,375.3L286,376.7L285.5,378.1L284.9,379.5L284.4,380.9L283.9,382.3L283.4,383.7L283,385.1L282.5,386.4L282,387.8L281.6,389.2L281.1,390.6L280.7,392L280.2,393.4L279.8,394.9L279.3,396.3L278.9,397.8L278.5,399.3L278.1,400.7L277.6,402.2L277.2,403.6L276.8,405L276.4,406.3L276.1,407.7L275.7,409L275.3,410.4L275,411.9L274.6,413.4L274.3,414.8L273.9,416.3L273.6,417.8L273.3,419.2L272.9,420.7L272.6,422.1L272.3,423.6L272,425L271.7,426.5L271.4,428L271.1,429.4L270.8,430.9L270.5,432.3L270.2,433.7L270,435.2L269.7,436.7L269.4,438.1L269.2,439.6L268.9,441.1L268.7,442.6L268.4,444.1L268.2,445.5L267.9,447L267.7,448.5L267.5,449.9L267.2,451.4L267,452.9L266.8,454.4L266.6,455.8L266.3,457.3L266.1,458.7L265.9,460.2L265.7,461.7L265.5,463.1L265.3,464.6L265.1,466.1L264.9,467.5L264.7,469L264.5,470.5L264.3,471.9L264.1,473.4L263.9,474.9L263.7,476.4L263.5,477.9L263.4,479.4L263.2,480.9L263,482.3L262.8,483.8L262.6,485.3L262.5,486.8L262.3,488.3L262.1,489.8L262,491.3L261.8,492.8L261.6,494.4L261.5,495.9L261.3,497.3L261.2,498.8L261,500.3L260.8,501.8L260.7,503.3L260.5,504.7L260.4,506.2L260.2,507.7L260.1,509.2L259.9,510.7L259.8,512.2L259.6,513.6L259.5,515.1L259.4,516.6L259.2,518.1L259.1,519.6L258.9,521.1L258.8,522.6L258.7,524.1L258.5,525.6L258.4,527.1L258.3,528.6L258.1,530L258,531.5L257.9,533L257.7,534.5L257.6,536L257.5,537.5L257.4,539L257.2,540.5L257.1,542L257,543.5L256.9,545L256.8,546.5L256.6,548L256.5,549.5L256.4,551L256.3,552.5L256.2,554L256.1,555.5L256,556.9L255.8,558.4L255.7,559.9L255.6,561.4L255.5,562.9L255.4,564.4L255.3,565.9L255.2,567.4L255.1,568.9L255,570.4L254.9,571.9L254.8,573.4L254.7,574.9L254.6,576.4L254.5,577.9L254.4,579.4L254.3,580.8L254.2,582.3L254.1,583.8L254,585.3L253.9,586.8L253.8,588.3L253.7,589.8L253.6,591.3L253.5,592.8L253.4,594.3L253.3,595.8L253.2,597.3L253.1,598.8L253,600.3L252.9,601.8L252.8,603.3L252.7,604.8L252.7,606.3L252.6,607.8L252.5,609.3L252.4,610.8L252.3,612.3L252.2,613.8L252.1,615.3L252,616.8L252,618.3L251.9,619.8L251.8,621.3L251.7,622.8L251.6,624.3L251.5,625.8L251.5,627.3L251.4,628.8L251.3,630.3L251.2,631.8L251.1,633.3L250.8,635L250.1,636.6L248.9,637.9L247.5,638.9L245.8,639.5L244.1,639.6L242.4,639.3L240.8,638.5L239.5,637.4L238.5,636L237.9,634.3L237.8,632.6Z" fill="#0070C6"/>
</g>
<g class="series series-orange">
<circle cx="234.5" cy="886" r="6.4" fill="#FF6D00"/>
<circle cx="234.5" cy="815.5" r="6.4" fill="#FF6D00"/>
<circle cx="234.5" cy="741" r="6.4" fill="#FF6D00"/>
<circle cx="234.5" cy="702" r="6.4" fill="#FF6D00"/>
<circle cx="235.5" cy="617.5" r="6.4" fill="#FF6D00"/>
<circle cx="237.4" cy="560.5" r="6.4" fill="#FF6D00"/>
<circle cx="237.8" cy="528" r="6.4" fill="#FF6D00"/>
<circle cx="238.5" cy="493" r="6.4" fill="#FF6D00"/>
<circle cx="239" cy="470" r="6.4" fill="#FF6D00"/>
<circle cx="239.3" cy="447" r="6.4" fill="#FF6D00"/>
<path d="M234.1,440.5L234.2,439L234.3,437.5L234.3,436L234.4,434.5L234.5,433L234.6,431.5L234.7,430L234.8,428.5L234.9,427L235,425.4L235.1,423.9L235.2,422.4L235.3,420.9L235.5,419.4L235.6,417.8L235.7,416.3L235.8,414.8L236,413.3L236.1,411.8L236.3,410.3L236.4,408.8L236.6,407.2L236.7,405.7L236.9,404.2L237.1,402.6L237.2,401.1L237.4,399.5L237.6,398L237.8,396.5L238.1,395L238.3,393.5L238.5,392L238.8,390.5L239,389L239.3,387.4L239.6,385.9L239.9,384.3L240.1,382.7L240.5,381.1L240.8,379.5L241.1,377.9L241.5,376.3L241.8,374.7L242.2,373.2L242.6,371.6L243,370L243.4,368.4L243.8,366.7L244.2,365L244.7,363.4L245.1,361.8L245.6,360.2L246.1,358.6L246.6,357L247.1,355.4L247.7,353.9L248.3,352.4L248.8,351L249.3,349.6L249.9,348.2L250.5,346.7L251.1,345.2L251.8,343.7L252.5,342.3L253.1,340.9L253.9,339.5L254.6,338.2L255.3,336.9L256,335.7L256.7,334.4L257.5,333.1L258.3,331.7L259.2,330.3L260.1,328.8L261.1,327.3L262.1,325.9L263.1,324.7L264,323.6L264.8,322.5L265.7,321.4L266.5,320.3L267.4,319.2L268.2,318.1L269.1,316.9L270,315.7L270.9,314.4L271.8,313L272.8,311.7L273.7,310.3L274.7,309.1L275.6,307.9L276.4,306.7L277.3,305.6L278.2,304.4L279.1,303.1L280.1,301.8L281,300.6L281.8,299.5L282.7,298.4L283.5,297.2L284.4,296L285.4,294.6L286.4,293.3L287.4,292.1L288.3,290.9L289.2,289.8L290.1,288.7L291.1,287.4L292.2,286.1L293.4,284.7L294.6,283.5L295.6,282.5L296.5,281.7L297.4,280.8L298.3,279.7L299.4,278.6L300.5,277.4L301.6,276.4L302.6,275.3L303.7,274.3L304.8,273.2L305.9,272.1L306.9,271.1L308,270.1L309.1,269L310.2,267.8L311.5,266.6L312.8,265.4L314.1,264.3L315.4,263.3L316.7,262.4L317.9,261.5L319.1,260.6L320.3,259.8L321.4,259.1L322.4,258.3L323.5,257.5L324.5,256.7L325.6,255.8L326.7,254.8L327.9,253.8L329.1,252.7L330.4,251.6L331.7,250.4L333.2,249.2L334.7,248L336.3,247L337.9,246.1L339.2,245.4L340.3,244.8L341.3,244.2L342.3,243.5L343.4,242.7L344.7,241.8L346.1,240.8L347.6,239.8L349.1,238.9L350.5,238.1L352,237.3L353.5,236.5L355,235.8L356.4,235.2L357.5,234.7L358.3,234.3L359.2,233.7L360.4,232.9L361.9,231.8L363.6,230.7L365.5,229.7L367.2,229L368.7,228.4L370,227.9L371.2,227.4L372.3,227L373.4,226.4L374.6,225.8L375.8,225.1L377.1,224.4L378.6,223.6L380.2,222.7L382,221.9L383.9,221.1L385.7,220.6L387.1,220.3L388.1,220L388.9,219.7L389.9,219.2L391.2,218.6L392.7,217.8L394.4,217.1L396,216.4L397.5,215.8L398.9,215.3L400.3,214.8L401.8,214.2L403.3,213.7L404.8,213.2L406.2,212.8L407.6,212.4L408.9,211.9L410.4,211.4L412,210.9L413.6,210.5L414.9,210.1L415.9,209.8L416.7,209.5L417.8,208.9L419.2,208.2L420.9,207.3L422.7,206.5L424.3,205.9L425.8,205.3L427.2,204.8L428.7,204.2L430.4,203.7L432.1,203.2L433.7,202.8L435.1,202.4L436.5,202.1L437.9,201.7L439.4,201.3L441.2,200.9L442.8,200.6L444.1,200.4L445.1,200.1L446.3,199.8L447.6,199.4L449.3,198.9L451.1,198.4L452.8,198.1L454.2,197.8L455.4,197.5L456.6,197.3L457.8,196.9L459,196.5L460.3,196.1L461.6,195.5L463,195L464.5,194.3L466,193.7L467.7,193.1L469.5,192.5L471.6,192L473.8,191.7L475.7,191.6L477,191.6L477.8,191.5L478.4,191.4L479.2,191.1L480.4,190.6L481.9,190L483.5,189.3L485.3,188.7L487.2,188.1L489,187.7L490.7,187.3L492.3,187.1L493.8,186.9L495.1,186.7L496.3,186.5L497.5,186.2L498.9,185.8L500.4,185.4L502.1,185L503.8,184.6L505.3,184.4L506.6,184.1L507.7,183.9L508.9,183.6L510.3,183.1L512,182.6L513.8,182.2L515.5,181.8L517.2,181.5L518.7,181.3L520.2,181.1L521.7,180.9L523.1,180.7L524.4,180.5L525.7,180.2L526.9,179.9L528.2,179.6L529.6,179.2L531,178.8L532.5,178.4L534.1,177.9L535.7,177.5L537.2,177.1L538.5,176.8L539.7,176.4L541,176L542.7,175.4L544.8,174.9L547,174.5L549,174.4L550.5,174.4L551.6,174.4L552.5,174.3L553.5,174.1L554.8,173.8L556.4,173.4L558.2,173L560,172.7L561.7,172.5L563.2,172.4L564.5,172.2L565.7,172L567,171.8L568.5,171.5L569.9,171.2L571.3,170.9L572.8,170.6L574.3,170.3L575.9,170L577.6,169.7L579.3,169.5L580.9,169.3L582.4,169.2L583.8,169L585,168.9L586.3,168.7L587.4,168.5L588.5,168.2L589.6,167.8L590.9,167.3L592.5,166.7L594.3,166L596.1,165.5L597.8,165.2L599.2,164.8L600.7,164.5L602.4,164.1L604.5,163.8L606.7,163.7L608.6,163.7L609.9,163.8L610.4,163.8L610.7,163.8L611.3,163.6L612.5,162.9L614.4,162L616.9,161.2L619.5,160.9L621.7,160.9L623.1,161L624.1,161L625,160.9L625.9,160.7L627,160.5L628.4,160.1L630,159.6L631.9,159.2L633.7,158.9L635.2,158.7L636.3,158.5L637.5,158.2L638.8,157.9L640.4,157.4L642.1,157L643.8,156.7L645.3,156.4L646.8,156.2L648.1,155.9L649.4,155.7L650.8,155.4L652.2,155L653.7,154.7L655.2,154.3L656.6,154L658,153.7L659.4,153.3L661,152.9L662.6,152.5L664.1,152.1L665.4,151.8L666.7,151.5L668,151.1L669.5,150.6L671.2,150.2L673.1,149.7L674.9,149.4L676.6,149.2L678,149.1L679.2,148.9L680.4,148.7L681.7,148.4L683.1,148.1L684.6,147.8L686,147.4L687.3,147.1L688.8,146.7L690.3,146.3L691.9,145.9L693.6,145.6L695.3,145.3L696.9,145L698.4,144.9L699.5,144.7L700.4,144.5L701.4,144.2L702.6,143.7L704.1,143.1L706,142.5L707.9,141.9L709.6,141.6L711,141.3L712.3,141L713.5,140.7L715,140.3L716.5,139.9L718.2,139.4L720.1,139.1L722,138.8L723.8,138.7L725.3,138.6L726.5,138.6L727.6,138.5L728.7,138.3L729.9,138L731,137.7L732.1,137.4L733.3,137L734.6,136.4L736,135.9L737.4,135.3L738.8,134.7L740.2,134L741.8,133.3L743.7,132.6L745.8,132L747.9,131.5L749.8,131.3L751.6,131.2L753.3,131.2L754.7,131.2L756,131.2L757,131.1L757.9,131L759,130.8L760.2,130.4L761.5,130L762.9,129.6L764.2,129.2L765.5,128.7L766.9,128.1L768.5,127.5L770.3,126.9L772.1,126.4L773.9,126L775.7,125.6L777.2,125.4L778.6,125.2L779.8,125L781.1,124.7L782.7,124.3L784.5,124L786.4,123.7L788.1,123.6L789.5,123.5L790.9,123.4L792.2,123.2L793.6,123L795,122.8L796.5,122.6L798,122.4L799.4,122.2L800.9,122L802.4,121.8L804,121.6L805.5,121.4L806.9,121.2L808.2,121L809.4,120.8L810.6,120.5L811.9,120.2L813.3,119.8L814.8,119.4L816.5,118.9L818.3,118.5L820,118.2L821.8,117.9L823.5,117.8L825,117.6L826.3,117.5L827.6,117.4L828.9,117.2L830.2,116.9L831.5,116.6L832.8,116.3L834.3,115.9L836,115.5L837.8,115.1L839.7,114.9L841.6,114.7L843.4,114.6L845,114.6L846.6,114.7L848,114.7L849.5,114.7L850.8,114.7L851.9,114.6L853,114.5L854.2,114.4L855.4,114.1L856.8,113.8L858.3,113.4L860,113.1L861.7,112.8L863.3,112.5L864.7,112.3L866,112.1L867.3,111.8L868.9,111.5L870.7,111.1L872.8,110.9L874.8,110.8L876.6,110.8L878,110.9L879.2,110.9L880.2,110.9L881.4,110.7L882.8,110.5L884.4,110.3L886,110.1L887.6,110L889,109.8L890.3,109.7L891.7,109.5L893.3,109.2L895.1,109L896.8,108.9L898.5,108.8L900,108.8L901.5,108.7L902.9,108.7L904.1,108.6L905.4,108.5L906.7,108.3L908.1,108.1L909.7,107.8L911.6,107.6L913.5,107.5L915.5,107.5L917.1,107.6L918.5,107.7L919.6,107.7L920.7,107.7L922,107.5L923.5,107.4L925.1,107.3L926.5,107.2L927.8,107L928.9,106.9L930,106.6L931.4,106.3L933,105.9L934.9,105.4L937,105.1L939.3,105.1L941.4,105.2L942.9,105.4L944.1,105.5L944.9,105.6L945.7,105.5L946.8,105.3L948.2,105L949.8,104.7L951.5,104.4L953.1,104.2L954.6,103.9L956.1,103.7L957.6,103.5L959.2,103.3L960.7,103.1L962.3,102.9L963.9,102.7L965.7,102.6L967.5,102.5L969.1,102.5L970.6,102.5L971.9,102.5L973.1,102.5L974.4,102.3L975.9,102.2L977.5,102.1L979.1,101.9L980.8,101.9L982.4,101.8L984,101.8L985.5,101.8L986.7,101.7L988,101.7L989.3,101.5L990.6,101.4L992.1,101.2L993.5,101L995.1,100.7L996.7,100.5L998.4,100.3L1000.1,100.2L1001.6,100.1L1003.1,100L1004.6,99.9L1006.2,99.8L1007.8,99.8L1009.4,99.7L1010.7,99.7L1012,99.6L1013.4,99.5L1015.2,99.3L1017.1,99.3L1018.9,99.4L1020.2,99.4L1021.3,99.4L1022.3,99.4L1023.6,99.2L1025.3,99L1027.4,98.8L1029.3,98.8L1031,99L1032.4,99.1L1033.5,99.1L1034.5,99.1L1035.5,98.9L1036.8,98.7L1038.4,98.4L1040.3,98.2L1042.2,98L1043.9,98L1045.3,98L1046.6,97.9L1048,97.8L1049.6,97.7L1051.3,97.6L1052.9,97.6L1054.3,97.5L1055.7,97.5L1057,97.4L1058.3,97.3L1059.8,97.1L1061.4,96.9L1063,96.8L1064.6,96.7L1066.1,96.6L1067.5,96.6L1068.8,96.5L1070.1,96.3L1071.3,96.1L1072.7,95.9L1074.3,95.5L1076.2,95.2L1078.4,95.1L1080.6,95.2L1082.6,95.4L1084,95.7L1085,95.8L1085.5,95.8L1086,95.7L1086.9,95.5L1088.3,95L1090.1,94.4L1092.1,93.9L1094.1,93.6L1095.9,93.4L1097.5,93.3L1099.2,93.2L1101,93.1L1102.9,93.2L1104.9,93.4L1106.5,93.6L1107.9,93.8L1108.9,93.9L1110,93.9L1111.3,93.9L1112.7,93.8L1114,93.8L1115.2,93.7L1116.3,93.5L1117.5,93.2L1119.1,92.9L1121,92.5L1123.1,92.3L1125,92.3L1126.7,92.3L1128,92.4L1129.3,92.3L1130.5,92.3L1131.9,92.1L1133.5,92L1135.3,91.9L1137.1,91.9L1138.8,91.9L1140.3,92L1141.5,92.1L1142.5,92L1143.6,91.9L1144.8,91.7L1146.3,91.4L1148.2,91.1L1150.1,91L1152,90.9L1153.6,90.9L1155.1,91L1156.5,91L1157.9,91L1159.3,90.9L1160.7,90.9L1162.1,90.8L1163.4,90.7L1164.6,90.6L1165.8,90.4L1167.1,90.1L1168.9,89.8L1170.8,89.5L1172.9,89.4L1174.8,89.4L1176.5,89.5L1178.1,89.6L1179.5,89.8L1180.9,89.9L1182.1,89.9L1183.2,89.9L1184.3,89.8L1185.3,89.7L1186.6,89.4L1188.3,89.1L1190.3,88.7L1192.4,88.6L1194.5,88.7L1196.1,88.8L1197.2,88.9L1198.1,88.9L1199,88.8L1200.1,88.5L1201.7,88.2L1203.5,87.8L1205.5,87.6L1207.3,87.5L1209,87.5L1210.6,87.5L1212.2,87.5L1213.9,87.6L1215.4,87.7L1216.9,87.7L1218.3,87.8L1219.7,87.8L1221.4,87.9L1223.1,88L1224.7,88.1L1226.3,88.3L1227.6,88.4L1228.8,88.5L1229.9,88.5L1231,88.4L1232.2,88.3L1233.5,88.1L1235,87.9L1236.7,87.7L1238.4,87.5L1240.1,87.3L1241.6,87.2L1243.1,87.1L1244.7,87L1246.4,87L1248.1,86.9L1249.7,87L1251.2,87L1252.6,87L1253.9,87L1255.1,87L1256.3,86.9L1257.5,86.7L1258.8,86.5L1260.4,86.2L1262.3,85.9L1264.3,85.7L1266.2,85.7L1268,85.8L1269.7,85.9L1271.1,86L1272.3,86.1L1273.5,86.1L1274.6,86L1275.9,85.9L1277.4,85.8L1279,85.6L1280.5,85.5L1281.8,85.4L1282.9,85.2L1284.1,85L1285.7,84.6L1287.7,84.3L1290,84.1L1292.1,84.1L1293.8,84.3L1295.1,84.4L1296.3,84.5L1297.7,84.5L1299.3,84.5L1301,84.6L1302.6,84.7L1303.8,84.8L1304.7,84.8L1305.5,84.7L1306.6,84.4L1308.2,84L1310.1,83.7L1312.2,83.4L1314.1,83.4L1315.7,83.4L1317,83.4L1318.3,83.4L1319.8,83.3L1321.6,83.2L1323.6,83.3L1325.4,83.4L1326.9,83.6L1328,83.7L1329,83.7L1330,83.7L1331.3,83.5L1333,83.3L1335,83.1L1337.1,83.2L1338.8,83.3L1340.1,83.4L1341.1,83.5L1342.2,83.4L1343.6,83.3L1345.2,83.1L1346.9,83.1L1348.5,83L1350.1,83L1351.6,83L1353.1,83L1354.8,83L1356.4,83L1358,83.1L1359.5,83.1L1360.8,83.2L1362,83.2L1363,83.1L1364,83L1365.1,82.8L1366.5,82.4L1368.2,82L1370.2,81.6L1372.2,81.4L1374.1,81.4L1375.8,81.4L1377.5,81.4L1379.2,81.5L1381,81.7L1382.7,81.9L1384.2,82.1L1385.4,82.3L1386.4,82.4L1387.3,82.3L1388.4,82.2L1389.8,82L1391.4,81.8L1393,81.6L1394.7,81.5L1396.3,81.4L1397.9,81.3L1399.3,81.2L1400.7,81.1L1402.1,81L1403.5,80.8L1405.1,80.7L1406.7,80.6L1408.3,80.4L1410,80.3L1411.8,80.3L1413.6,80.4L1415.4,80.5L1417.1,80.7L1418.6,80.9L1420,81L1421.2,81.1L1422.2,81.2L1423.2,81.1L1424.3,81L1425.7,80.7L1427.4,80.5L1429.1,80.3L1430.8,80.2L1432.4,80.1L1434,80L1435.5,79.9L1437.1,79.9L1438.6,79.9L1440.1,79.8L1441.4,79.8L1442.8,79.7L1444.3,79.6L1445.9,79.5L1447.7,79.4L1449.5,79.4L1451.2,79.5L1452.8,79.6L1454.2,79.7L1455.5,79.8L1456.7,79.8L1457.9,79.7L1459.3,79.6L1461,79.5L1463.1,79.5L1465.1,79.7L1466.9,79.9L1468.1,80.1L1469.1,80.2L1469.9,80.2L1471.1,80.1L1472.6,79.9L1474.3,79.8L1475.9,79.7L1477.4,79.6L1478.9,79.5L1480.4,79.4L1482,79.3L1483.6,79.2L1485,79.2L1486.2,79.1L1487.4,79L1488.7,78.7L1490.2,78.5L1492,78.2L1493.8,78L1495.7,78L1497.5,78L1499.1,78L1500.5,78.1L1501.8,78.1L1503,78L1504.4,77.9L1506.1,77.8L1508.1,77.8L1510.2,78L1512,78.2L1513.5,78.5L1514.7,78.7L1515.7,78.8L1516.8,78.8L1518,78.7L1519.4,78.6L1521,78.5L1522.6,78.4L1524.2,78.4L1525.7,78.3L1527.1,78.3L1528.4,78.2L1529.7,78.1L1531.2,77.9L1532.8,77.8L1534.4,77.6L1535.8,77.5L1537,77.4L1538.2,77.2L1539.5,77L1541.2,76.6L1543.2,76.3L1545.5,76.2L1547.7,76.3L1549.4,76.6L1550.7,76.8L1551.7,76.9L1552.6,76.8L1553.7,76.7L1555.1,76.6L1556.8,76.4L1558.7,76.3L1560.5,76.2L1562.2,76.3L1563.8,76.3L1565.3,76.4L1566.8,76.5L1568.2,76.5L1569.5,76.6L1571,76.6L1572.5,76.6L1574.1,76.6L1575.5,76.6L1576.7,76.6L1578,76.5L1579.4,76.4L1581.1,76.3L1583.1,76.2L1585,76.3L1586.7,76.5L1588.2,76.7L1589.4,76.8L1590.4,76.8L1591.4,76.7L1592.5,76.6L1593.9,76.4L1595.4,76.2L1597.3,76.1L1599,76.6L1600.6,77.4L1602,78.7L1602.9,80.3L1603.4,82L1603.5,83.8L1603,85.6L1602.1,87.2L1600.9,88.5L1599.3,89.5L1597.6,90L1596.1,90.2L1594.4,90.5L1592.6,90.7L1590.6,90.8L1588.6,90.7L1586.8,90.6L1585.2,90.4L1584,90.3L1582.9,90.2L1581.8,90.3L1580.5,90.4L1579,90.5L1577.2,90.6L1575.5,90.6L1573.9,90.6L1572.4,90.6L1570.9,90.6L1569.4,90.5L1567.7,90.5L1566.1,90.5L1564.6,90.4L1563.1,90.3L1561.7,90.2L1560.4,90.2L1559.2,90.2L1558.1,90.3L1556.8,90.5L1555.2,90.7L1553.3,90.8L1551.2,90.9L1549.1,90.7L1547.4,90.4L1546.2,90.3L1545.4,90.2L1544.6,90.2L1543.7,90.4L1542.3,90.7L1540.6,91L1538.8,91.3L1537,91.5L1535.5,91.6L1534.1,91.7L1532.7,91.9L1531.1,92L1529.4,92.2L1527.7,92.3L1526.1,92.3L1524.6,92.4L1523.2,92.4L1521.8,92.5L1520.4,92.6L1518.8,92.7L1517,92.8L1515,92.8L1513,92.6L1511.2,92.3L1509.7,92.1L1508.6,91.9L1507.6,91.8L1506.6,91.8L1505.3,91.9L1503.7,92L1502,92.1L1500.2,92L1498.6,92L1497.3,92L1496,92L1494.9,92L1493.7,92.1L1492.5,92.3L1491,92.6L1489.3,92.8L1487.5,93L1485.7,93.2L1484.1,93.2L1482.6,93.3L1481.3,93.3L1479.8,93.4L1478.3,93.5L1476.8,93.6L1475.4,93.7L1474,93.8L1472.5,94L1470.7,94.2L1468.6,94.2L1466.5,94L1464.8,93.8L1463.5,93.6L1462.6,93.5L1461.6,93.5L1460.3,93.6L1458.7,93.7L1456.9,93.8L1455.1,93.8L1453.4,93.7L1451.8,93.6L1450.4,93.5L1449.1,93.4L1447.9,93.4L1446.7,93.4L1445.3,93.5L1443.8,93.7L1442.1,93.8L1440.5,93.8L1438.9,93.9L1437.5,93.9L1436,93.9L1434.6,94L1433.1,94.1L1431.8,94.1L1430.4,94.2L1429.2,94.4L1427.8,94.6L1426.2,94.8L1424.4,95.1L1422.3,95.2L1420.4,95.1L1418.5,94.9L1416.9,94.8L1415.4,94.6L1414.1,94.4L1412.9,94.3L1411.7,94.3L1410.5,94.3L1409.2,94.4L1407.8,94.5L1406.4,94.6L1404.9,94.8L1403.4,94.9L1401.8,95.1L1400.2,95.2L1398.6,95.3L1397.1,95.4L1395.8,95.5L1394.4,95.6L1393.1,95.7L1391.6,95.9L1390,96.1L1388.1,96.3L1386.1,96.4L1384,96.2L1382.2,96L1380.7,95.7L1379.4,95.6L1378.2,95.5L1376.9,95.4L1375.6,95.4L1374.3,95.4L1373.2,95.4L1372.2,95.5L1371.2,95.7L1369.9,96L1368.2,96.4L1366.4,96.8L1364.4,97.1L1362.4,97.2L1360.6,97.2L1358.9,97.1L1357.4,97.1L1356,97L1354.6,97L1353.2,97L1351.8,97L1350.3,97L1348.8,97L1347.4,97.1L1346.1,97.1L1344.8,97.2L1343.2,97.4L1341.3,97.5L1339.3,97.4L1337.5,97.3L1336.3,97.2L1335.3,97.1L1334.4,97.2L1333.1,97.4L1331.3,97.6L1329.3,97.7L1327.3,97.7L1325.4,97.5L1323.9,97.3L1322.7,97.2L1321.7,97.2L1320.5,97.2L1319,97.3L1317.3,97.4L1315.6,97.4L1314.2,97.4L1313.1,97.4L1312.2,97.5L1311.1,97.7L1309.7,98.1L1307.8,98.5L1305.6,98.7L1303.5,98.8L1301.7,98.7L1300.3,98.6L1299,98.5L1297.6,98.5L1295.9,98.5L1294.1,98.4L1292.4,98.2L1291.1,98.1L1290.3,98.1L1289.6,98.1L1288.6,98.3L1287.1,98.7L1285.3,99L1283.4,99.3L1281.7,99.5L1280.2,99.6L1278.8,99.7L1277.3,99.9L1275.6,100L1273.7,100.1L1271.9,100.1L1270.1,100L1268.5,99.9L1267.1,99.7L1265.9,99.7L1264.9,99.7L1263.9,99.8L1262.8,100L1261.4,100.2L1259.7,100.5L1257.9,100.8L1256,101L1254.2,101L1252.5,101L1250.9,101L1249.4,101L1248.1,100.9L1246.8,101L1245.4,101L1244,101.1L1242.5,101.2L1241.1,101.3L1239.7,101.4L1238.4,101.5L1237.1,101.7L1235.6,102L1233.9,102.2L1232.1,102.4L1230.2,102.5L1228.3,102.5L1226.5,102.4L1224.8,102.2L1223.4,102.1L1222,101.9L1220.7,101.9L1219.4,101.8L1217.8,101.8L1216.2,101.7L1214.7,101.6L1213.2,101.6L1211.9,101.5L1210.5,101.5L1209.1,101.5L1207.8,101.5L1206.6,101.6L1205.6,101.7L1204.4,101.9L1203,102.2L1201.1,102.6L1199,102.8L1196.9,102.9L1195,102.8L1193.6,102.6L1192.6,102.6L1191.8,102.7L1190.8,102.8L1189.5,103.1L1187.7,103.5L1185.8,103.7L1183.8,103.9L1181.9,103.9L1180.2,103.8L1178.5,103.7L1177,103.6L1175.5,103.5L1174.3,103.4L1173.2,103.4L1172.2,103.4L1171.2,103.6L1169.9,103.9L1168.3,104.2L1166.5,104.5L1164.6,104.7L1162.9,104.8L1161.3,104.9L1159.7,104.9L1158.2,105L1156.6,105L1155,105L1153.4,104.9L1152.1,104.9L1150.9,105L1149.9,105L1148.7,105.2L1147.3,105.5L1145.5,105.8L1143.5,106L1141.5,106.1L1139.7,106L1138.2,105.9L1136.9,105.9L1135.8,105.9L1134.5,106L1133.1,106.1L1131.5,106.2L1129.8,106.3L1128,106.4L1126.3,106.3L1125,106.3L1124,106.3L1123,106.4L1121.9,106.6L1120.5,106.9L1118.7,107.3L1116.8,107.6L1115,107.7L1113.4,107.8L1111.8,107.9L1110,107.9L1108.1,107.9L1106.2,107.7L1104.5,107.5L1103.2,107.3L1102.1,107.1L1101,107.1L1099.8,107.2L1098.5,107.2L1097.2,107.3L1096,107.5L1094.9,107.6L1093.9,107.9L1092.7,108.3L1091.1,108.8L1089,109.4L1086.5,109.8L1084,109.8L1082,109.5L1080.5,109.3L1079.4,109.1L1078.6,109.1L1077.8,109.2L1076.7,109.3L1075.4,109.6L1073.7,109.9L1072,110.2L1070.2,110.4L1068.5,110.5L1066.9,110.6L1065.4,110.7L1064,110.8L1062.7,110.9L1061.3,111L1059.7,111.2L1058.1,111.4L1056.4,111.5L1054.7,111.5L1053.2,111.6L1051.8,111.6L1050.5,111.7L1049,111.8L1047.4,111.9L1045.7,112L1044.1,112L1042.8,112L1041.8,112.1L1040.7,112.2L1039.2,112.5L1037.5,112.8L1035.6,113L1033.6,113.1L1031.7,113L1030,112.9L1028.7,112.8L1027.7,112.8L1026.7,112.9L1025.5,113.1L1023.8,113.3L1021.8,113.4L1019.8,113.4L1018.2,113.3L1017,113.3L1015.9,113.3L1014.6,113.4L1013.1,113.6L1011.3,113.7L1009.7,113.7L1008.3,113.7L1006.9,113.8L1005.4,113.9L1004,114L1002.5,114.1L1001,114.1L999.7,114.2L998.4,114.4L997,114.6L995.6,114.8L994.1,115L992.5,115.2L990.8,115.4L989.1,115.6L987.4,115.7L985.7,115.8L984.1,115.8L982.7,115.8L981.4,115.8L980,115.9L978.6,116L977.2,116.1L975.7,116.3L974,116.4L972.3,116.5L970.6,116.5L969,116.5L967.7,116.5L966.4,116.5L965.2,116.6L963.9,116.8L962.5,117L961,117.2L959.6,117.4L958.1,117.6L956.6,117.8L955.1,118L953.7,118.2L952.4,118.5L951,118.7L949.4,119.1L947.5,119.4L945.4,119.6L943.2,119.5L941.3,119.3L939.9,119.1L938.9,119.1L938.2,119.1L937.4,119.2L936.3,119.4L934.9,119.8L933.2,120.2L931.4,120.6L929.5,120.9L927.8,121.1L926.2,121.2L924.8,121.3L923.3,121.5L921.6,121.6L919.7,121.7L917.9,121.7L916.2,121.6L914.9,121.5L913.8,121.4L912.8,121.5L911.7,121.7L910.3,121.9L908.7,122.1L907,122.4L905.3,122.5L903.6,122.7L901.9,122.7L900.4,122.8L899,122.8L897.6,122.9L896.4,122.9L895.2,123.1L893.8,123.3L892.2,123.5L890.5,123.7L888.9,123.9L887.5,124L886.2,124.2L884.8,124.4L883.2,124.6L881.3,124.8L879.4,124.9L877.6,124.9L876,124.8L874.8,124.8L873.9,124.8L872.9,124.9L871.8,125.2L870.3,125.5L868.7,125.8L867,126.1L865.4,126.4L864,126.6L862.7,126.8L861.4,127.1L860,127.4L858.4,127.8L856.6,128.1L854.8,128.4L852.9,128.6L851.1,128.7L849.4,128.7L847.9,128.7L846.4,128.7L844.9,128.6L843.6,128.6L842.4,128.7L841.3,128.8L840.2,128.9L839.1,129.2L837.8,129.5L836.3,129.9L834.6,130.3L832.9,130.6L831.3,131L829.6,131.2L827.9,131.4L826.2,131.6L824.8,131.7L823.5,131.8L822.3,132L821.1,132.2L819.9,132.5L818.6,132.9L817.2,133.3L815.6,133.7L813.9,134.2L812.2,134.5L810.4,134.9L808.7,135.1L807.2,135.3L805.7,135.5L804.3,135.6L802.9,135.9L801.4,136.1L799.9,136.3L798.4,136.5L796.9,136.7L795.4,136.9L793.9,137.1L792.2,137.3L790.6,137.4L789.1,137.5L787.9,137.6L786.8,137.8L785.6,138L784.3,138.3L782.6,138.7L780.9,139L779.3,139.2L777.9,139.5L776.7,139.7L775.6,139.9L774.5,140.2L773.3,140.7L772,141.2L770.5,141.7L768.9,142.3L767.2,142.9L765.6,143.4L764.1,143.9L762.3,144.3L760.4,144.8L758.4,145L756.5,145.2L754.9,145.2L753.4,145.2L752.1,145.2L751,145.3L750,145.4L749.2,145.5L748.3,145.8L747.3,146.2L746,146.8L744.5,147.5L742.9,148.2L741.4,148.8L739.9,149.4L738.3,150.1L736.5,150.7L734.8,151.2L733,151.7L731.2,152L729.4,152.3L727.6,152.5L725.9,152.6L724.5,152.7L723.3,152.7L722.4,152.9L721.3,153.1L720.1,153.4L718.7,153.8L717.2,154.2L715.6,154.6L713.9,155L712.4,155.3L711.2,155.6L710.1,155.8L709.1,156.2L707.7,156.8L706,157.4L704,158L702,158.5L700.3,158.7L698.8,158.9L697.5,159.1L696.2,159.3L695,159.6L693.7,159.9L692.3,160.2L690.8,160.6L689.3,161L687.7,161.4L686.3,161.7L684.7,162.1L683.1,162.4L681.3,162.7L679.7,162.9L678.2,163.1L676.9,163.3L675.8,163.4L674.7,163.7L673.5,164.1L672.1,164.5L670.4,165L668.8,165.4L667.2,165.8L665.8,166.1L664.4,166.4L663,166.8L661.5,167.2L659.9,167.6L658.4,168L656.9,168.3L655.5,168.6L654,169L652.4,169.4L650.8,169.7L649.2,170L647.7,170.2L646.3,170.5L645.1,170.7L643.8,171L642.5,171.4L640.8,171.8L639,172.2L637.2,172.5L635.7,172.7L634.6,172.9L633.5,173.2L632.2,173.5L630.7,174L628.8,174.4L626.8,174.8L624.7,175L622.7,175L621.2,174.9L620.4,174.9L620.1,174.9L619.6,175L618.6,175.5L616.9,176.4L614.5,177.3L611.8,177.8L609.4,177.8L607.8,177.7L606.7,177.7L606,177.7L605.1,177.8L603.8,178.1L602.4,178.5L600.8,178.8L599.6,179.1L598.5,179.4L597.3,179.8L596,180.3L594.3,181L592.5,181.6L590.6,182.1L588.8,182.5L587,182.7L585.3,182.9L583.7,183.1L582.3,183.2L580.9,183.4L579.7,183.5L578.5,183.7L577.1,184L575.7,184.3L574.2,184.6L572.6,185L571.1,185.2L569.6,185.5L568,185.8L566.3,186.1L564.6,186.3L563.1,186.4L561.9,186.6L560.8,186.7L559.6,187L558.2,187.3L556.6,187.7L554.7,188.1L552.6,188.4L550.8,188.4L549.3,188.4L548.4,188.5L547.7,188.6L546.8,188.8L545.5,189.3L543.9,189.8L542.1,190.3L540.5,190.7L539.1,191.1L537.8,191.4L536.4,191.8L535,192.2L533.4,192.7L531.8,193.1L530.2,193.5L528.5,193.9L526.8,194.2L525.2,194.5L523.7,194.7L522.2,194.9L520.8,195.1L519.4,195.4L518.1,195.6L516.9,195.8L515.7,196.1L514.5,196.5L512.9,197L511.2,197.5L509.4,197.9L507.8,198.2L506.4,198.4L505.1,198.7L503.9,199L502.5,199.3L500.9,199.8L499.2,200.2L497.5,200.5L495.8,200.7L494.4,200.9L493.1,201.1L491.9,201.4L490.8,201.6L489.7,202L488.6,202.4L487.3,202.9L485.9,203.5L484.1,204.2L482,204.9L479.7,205.4L477.6,205.6L476.1,205.6L475,205.6L474.3,205.7L473.4,206L472.4,206.3L471.1,206.8L469.8,207.3L468.4,207.9L466.9,208.5L465.3,209.2L463.6,209.8L462,210.3L460.2,210.8L458.5,211.2L456.9,211.6L455.4,211.8L454.2,212.1L453.1,212.4L451.9,212.7L450.4,213.2L448.6,213.7L446.8,214.1L445.2,214.4L444,214.6L442.8,214.9L441.5,215.2L440,215.6L438.5,216L437.1,216.4L435.8,216.7L434.6,217.1L433.4,217.5L432.1,218L430.7,218.5L429.3,219L428.1,219.5L427,220L425.8,220.6L424.4,221.4L422.6,222.2L420.7,223.1L418.8,223.6L417.3,224.1L416,224.4L414.8,224.8L413.5,225.2L412,225.7L410.5,226.2L409.1,226.6L407.8,227.1L406.5,227.5L405.2,228L403.8,228.5L402.5,229L401.2,229.5L400,230L398.9,230.5L397.6,231.2L396.1,231.9L394.4,232.8L392.4,233.5L390.7,234L389.3,234.3L388.4,234.6L387.6,234.9L386.7,235.3L385.5,236L384.2,236.7L382.8,237.5L381.3,238.3L379.8,239.2L378.2,239.9L376.7,240.6L375.2,241.2L373.8,241.7L372.6,242.2L371.7,242.6L370.9,243L370,243.6L368.8,244.5L367.3,245.6L365.6,246.7L363.8,247.6L362.3,248.4L361.1,248.9L360,249.4L358.9,250L357.8,250.7L356.6,251.4L355.5,252L354.5,252.8L353.4,253.6L352.2,254.5L350.8,255.6L349.3,256.6L347.8,257.5L346.4,258.3L345.2,259L344.3,259.6L343.4,260.2L342.6,260.9L341.6,261.7L340.5,262.7L339.4,263.8L338.2,264.9L337,266.1L335.7,267.2L334.5,268.4L333.2,269.5L331.9,270.6L330.6,271.5L329.4,272.5L328.3,273.3L327.2,274.1L326.2,274.9L325.2,275.7L324.3,276.5L323.4,277.3L322.5,278.1L321.6,279.1L320.7,280.1L319.6,281.3L318.5,282.4L317.5,283.5L316.5,284.6L315.5,285.7L314.5,286.8L313.5,287.8L312.5,288.9L311.6,289.9L310.7,290.9L309.7,292.1L308.6,293.3L307.5,294.4L306.6,295.3L305.9,296.1L305.2,296.9L304.5,297.9L303.6,299L302.7,300.3L301.7,301.5L300.8,302.7L300,303.7L299.3,304.8L298.5,305.9L297.6,307.2L296.7,308.5L295.8,309.7L295,310.9L294.2,312L293.5,313.1L292.7,314.3L291.9,315.5L291.1,316.8L290.3,318.1L289.6,319.2L288.9,320.4L288.3,321.6L287.6,322.8L286.9,324.1L286.3,325.4L285.5,326.8L284.8,328.3L284.1,329.7L283.3,331.1L282.6,332.4L281.9,333.8L281.2,335.1L280.5,336.3L279.9,337.4L279.4,338.5L278.8,339.6L278.2,340.9L277.5,342.3L276.8,343.7L276,345.1L275.2,346.6L274.4,348L273.6,349.3L272.8,350.6L272,351.8L271.2,353L270.4,354.2L269.6,355.4L268.7,356.6L267.9,357.8L267,359L266.2,360.3L265.3,361.4L264.5,362.5L263.8,363.6L263,364.7L262.3,365.9L261.5,367.1L260.8,368.3L260.2,369.5L259.5,370.7L258.9,372L258.3,373.3L257.7,374.7L257.1,376.1L256.6,377.5L256.1,378.8L255.7,380.2L255.3,381.5L254.9,382.8L254.5,384.3L254.1,385.7L253.8,387.2L253.5,388.6L253.2,390L252.9,391.5L252.7,392.9L252.4,394.3L252.2,395.7L251.9,397.1L251.7,398.5L251.5,399.9L251.3,401.3L251.2,402.8L251,404.3L250.8,405.7L250.6,407.2L250.5,408.7L250.3,410.2L250.2,411.6L250.1,413.1L249.9,414.5L249.8,416L249.7,417.5L249.5,418.9L249.4,420.4L249.3,421.9L249.2,423.4L249.1,424.9L249,426.4L248.9,427.9L248.8,429.4L248.7,430.9L248.6,432.4L248.5,433.9L248.4,435.4L248.3,436.8L248.2,438.3L248.2,439.8L248.1,441.3L247.7,443.1L246.9,444.7L245.8,446.1L244.2,447.1L242.5,447.8L240.7,447.9L238.9,447.6L237.3,446.8L235.9,445.6L234.8,444.1L234.2,442.3L234.1,440.5Z" fill="#FF6D00"/>
</g>
<g class="series series-purple">
<circle cx="234.5" cy="857" r="6.5" fill="#6B4487"/>
<circle cx="234" cy="897" r="6.5" fill="#6B4487"/>
<circle cx="234" cy="920" r="6.5" fill="#6B4487"/>
<path d="M229.2,841.6L229.3,840L229.3,838.5L229.4,837L229.5,835.5L229.5,834L229.6,832.5L229.6,831L229.7,829.5L229.8,828L229.8,826.5L229.9,825L230,823.5L230,822L230.1,820.5L230.2,819L230.2,817.5L230.3,816L230.4,814.5L230.5,813L230.5,811.5L230.6,810L230.7,808.5L230.7,807L230.8,805.5L230.9,804L231,802.5L231.1,801L231.1,799.5L231.2,798L231.3,796.5L231.4,795L231.5,793.5L231.5,791.9L231.6,790.4L231.7,788.9L231.8,787.4L231.9,785.9L232,784.4L232.1,782.9L232.2,781.4L232.3,779.9L232.4,778.4L232.4,776.9L232.5,775.4L232.6,773.9L232.7,772.4L232.8,770.9L232.9,769.4L233,767.9L233.2,766.4L233.3,764.9L233.4,763.4L233.5,761.9L233.6,760.4L233.7,758.9L233.8,757.4L233.9,755.9L234.1,754.3L234.2,752.8L234.3,751.3L234.4,749.8L234.5,748.3L234.7,746.8L234.8,745.3L234.9,743.8L235.1,742.3L235.2,740.8L235.3,739.3L235.5,737.8L235.6,736.3L235.8,734.8L235.9,733.3L236.1,731.8L236.2,730.2L236.4,728.7L236.5,727.2L236.7,725.7L236.8,724.2L237,722.7L237.2,721.2L237.3,719.7L237.5,718.2L237.7,716.7L237.8,715.2L238,713.7L238.2,712.2L238.4,710.7L238.6,709.2L238.8,707.7L238.9,706.2L239.1,704.7L239.3,703.2L239.5,701.7L239.7,700.2L239.9,698.7L240.1,697.2L240.4,695.7L240.6,694.2L240.8,692.7L241,691.2L241.2,689.7L241.4,688.2L241.7,686.7L241.9,685.2L242.1,683.7L242.4,682.2L242.6,680.7L242.8,679.2L243.1,677.7L243.3,676.2L243.6,674.7L243.8,673.2L244.1,671.7L244.3,670.2L244.6,668.7L244.8,667.3L245.1,665.8L245.4,664.3L245.6,662.8L245.9,661.3L246.2,659.7L246.4,658.2L246.7,656.7L247,655.2L247.3,653.8L247.5,652.3L247.8,650.8L248.1,649.4L248.4,647.9L248.7,646.4L248.9,644.9L249.2,643.4L249.5,641.9L249.8,640.4L250.1,638.9L250.4,637.4L250.7,635.9L251,634.4L251.3,632.9L251.6,631.5L251.9,630.1L252.2,628.6L252.5,627.2L252.8,625.7L253.1,624.2L253.4,622.7L253.7,621.1L254,619.6L254.3,618.1L254.6,616.7L254.9,615.2L255.2,613.7L255.6,612.3L255.9,610.8L256.2,609.3L256.5,607.8L256.8,606.3L257.2,604.8L257.5,603.4L257.8,601.9L258.1,600.5L258.5,599L258.8,597.4L259.1,595.9L259.5,594.4L259.8,592.9L260.2,591.5L260.5,590L260.9,588.6L261.2,587.2L261.6,585.7L261.9,584.3L262.3,582.8L262.6,581.3L263,579.8L263.4,578.3L263.7,576.9L264.1,575.4L264.5,573.9L264.9,572.4L265.3,570.9L265.7,569.4L266.1,567.9L266.5,566.5L266.9,565.1L267.3,563.7L267.7,562.3L268.1,560.8L268.5,559.4L268.9,557.9L269.3,556.4L269.8,554.9L270.2,553.5L270.7,552L271.1,550.6L271.5,549.2L272,547.7L272.4,546.3L272.9,544.8L273.4,543.4L273.8,542L274.3,540.5L274.8,539L275.3,537.5L275.8,536L276.3,534.5L276.8,533L277.3,531.6L277.8,530.1L278.3,528.7L278.9,527.3L279.4,525.9L279.9,524.5L280.4,523.1L281,521.6L281.5,520.2L282.1,518.7L282.6,517.3L283.2,516L283.7,514.6L284.3,513.2L284.8,511.8L285.4,510.3L286,508.8L286.6,507.4L287.2,505.9L287.8,504.6L288.4,503.2L289,501.9L289.6,500.5L290.2,499L290.8,497.6L291.5,496.2L292.1,494.8L292.7,493.5L293.3,492.2L293.9,490.9L294.5,489.5L295.2,488.2L295.8,486.8L296.4,485.4L297.1,483.9L297.7,482.5L298.4,481L299.1,479.6L299.8,478.2L300.4,476.8L301.1,475.5L301.8,474.2L302.4,472.8L303.1,471.5L303.8,470.2L304.4,468.9L305.1,467.5L305.8,466.1L306.5,464.7L307.2,463.3L307.9,461.9L308.6,460.6L309.3,459.3L310,457.9L310.7,456.6L311.4,455.3L312.1,453.9L312.8,452.6L313.5,451.3L314.2,449.8L315,448.4L315.8,446.9L316.6,445.6L317.3,444.3L318,443L318.8,441.8L319.5,440.5L320.2,439.2L321,437.8L321.7,436.5L322.5,435.2L323.2,433.9L324,432.6L324.7,431.2L325.5,429.8L326.4,428.4L327.2,427L328,425.7L328.8,424.5L329.6,423.2L330.3,422L331.1,420.7L331.9,419.4L332.7,418.1L333.6,416.7L334.4,415.4L335.2,414.2L336.1,413L336.9,411.7L337.7,410.5L338.5,409.2L339.4,407.9L340.2,406.6L341.1,405.3L341.9,404.1L342.8,402.8L343.6,401.6L344.5,400.3L345.4,399.1L346.3,397.8L347.1,396.6L348,395.4L348.8,394.2L349.7,393L350.6,391.7L351.5,390.3L352.4,389L353.4,387.7L354.3,386.4L355.3,385.2L356.2,384L357.1,382.8L358.1,381.6L359,380.5L359.9,379.3L360.9,378.2L361.8,377.1L362.7,375.9L363.6,374.8L364.6,373.6L365.5,372.4L366.5,371.2L367.5,370L368.5,368.7L369.5,367.5L370.5,366.4L371.5,365.3L372.4,364.2L373.3,363.1L374.3,361.9L375.3,360.7L376.4,359.5L377.5,358.3L378.5,357.1L379.6,356L380.6,354.9L381.5,353.9L382.4,352.9L383.4,351.8L384.4,350.6L385.5,349.4L386.6,348.2L387.8,346.9L388.9,345.8L390,344.7L391.1,343.7L392.1,342.7L393.1,341.8L394.1,340.8L395.1,339.7L396.2,338.6L397.2,337.5L398.3,336.4L399.4,335.3L400.5,334.2L401.6,333L402.8,331.9L404,330.8L405.1,329.7L406.3,328.7L407.3,327.8L408.4,326.8L409.4,325.8L410.5,324.8L411.6,323.8L412.8,322.7L413.9,321.6L415,320.6L416.1,319.6L417.2,318.5L418.4,317.5L419.5,316.4L420.7,315.3L421.9,314.2L423.1,313.1L424.4,312.1L425.6,311.1L426.7,310.2L427.9,309.3L429,308.3L430.2,307.3L431.5,306.3L432.8,305.4L434,304.5L435.1,303.6L436.2,302.8L437.4,301.9L438.6,301L439.8,300.1L440.9,299.2L442,298.4L443.1,297.5L444.2,296.6L445.4,295.6L446.7,294.6L448,293.5L449.3,292.5L450.5,291.6L451.8,290.6L453,289.8L454.2,288.9L455.4,288L456.7,287.1L457.9,286.2L459.2,285.3L460.5,284.4L461.7,283.6L462.9,282.8L464.1,281.9L465.4,281.1L466.6,280.2L467.9,279.4L469.1,278.5L470.4,277.6L471.7,276.8L473,275.9L474.2,275.1L475.4,274.3L476.7,273.5L477.9,272.7L479.1,271.9L480.3,271L481.6,270.2L482.9,269.3L484.2,268.4L485.5,267.5L486.8,266.7L488.1,265.8L489.4,265L490.7,264.2L492,263.4L493.3,262.6L494.7,261.8L496,261L497.4,260.2L498.8,259.4L500.1,258.7L501.4,258L502.6,257.3L503.9,256.6L505.3,255.9L506.6,255.2L507.8,254.6L509,253.9L510.1,253.2L511.3,252.5L512.5,251.7L513.8,250.9L515.1,250L516.4,249.1L517.8,248.2L519.4,247.3L520.9,246.4L522.4,245.6L523.8,245L525,244.4L526.2,243.8L527.4,243.1L528.6,242.4L529.8,241.7L531,240.9L532.3,240.1L533.8,239.2L535.4,238.2L537.1,237.4L538.7,236.7L540.2,236.1L541.4,235.6L542.5,235.1L543.7,234.6L544.9,233.9L546.2,233.3L547.5,232.6L548.9,231.9L550.3,231.2L551.7,230.4L553.2,229.7L554.6,229.1L555.9,228.5L557,228L558.1,227.4L559.3,226.7L560.6,225.9L562.2,225L563.8,224.1L565.4,223.4L566.9,222.7L568.3,222.1L569.6,221.6L570.9,221L572.3,220.4L573.7,219.8L575.2,219.1L576.7,218.6L578,218L579.2,217.5L580.4,217L581.6,216.5L583,215.8L584.5,215.1L586,214.4L587.5,213.7L588.9,213.2L590.2,212.6L591.3,212.1L592.6,211.5L594,210.8L595.6,210.1L597.2,209.4L598.7,208.9L600,208.4L601.2,207.8L602.5,207.2L604,206.6L605.5,206L606.9,205.4L608.3,204.8L609.6,204.3L610.8,203.8L612.2,203.2L613.6,202.5L615.2,201.8L616.8,201.2L618.3,200.6L619.8,200.1L621.1,199.7L622.4,199.2L623.7,198.7L625,198.2L626.3,197.6L627.7,197L629.2,196.4L630.8,195.8L632.4,195.2L634.1,194.7L635.6,194.3L636.9,193.9L638,193.5L639.1,193.1L640.4,192.6L641.9,192L643.6,191.3L645.3,190.8L646.8,190.3L648.1,189.9L649.3,189.5L650.6,189.1L652,188.6L653.4,188L654.9,187.5L656.3,187L657.6,186.5L658.9,186L660.2,185.4L661.7,184.8L663.3,184.2L664.9,183.6L666.5,183.1L668.1,182.6L669.5,182.2L670.9,181.8L672.2,181.4L673.6,181L675.1,180.5L676.6,180.1L678.1,179.7L679.5,179.3L680.9,178.9L682.2,178.5L683.4,178.1L684.7,177.6L686.1,177.1L687.7,176.5L689.2,176L690.6,175.5L692,175L693.3,174.6L694.7,174L696.1,173.5L697.6,173L699.1,172.4L700.7,171.9L702.2,171.4L703.8,170.9L705.3,170.5L706.7,170.1L708.1,169.7L709.5,169.2L710.9,168.8L712.3,168.4L713.7,167.9L715.2,167.4L716.7,167L718.4,166.5L720.1,166.1L721.7,165.7L723.2,165.5L724.7,165.2L726.1,164.9L727.3,164.7L728.5,164.4L729.7,164.1L730.9,163.7L732.4,163.2L733.9,162.6L735.5,162.2L737.1,161.7L738.6,161.3L740.1,160.9L741.6,160.5L743.1,160.1L744.5,159.8L746,159.4L747.5,159L749.1,158.7L750.6,158.4L751.9,158.1L753.1,157.8L754.3,157.5L755.5,157.1L757,156.6L758.6,156L760.2,155.5L761.8,155.1L763.4,154.6L764.9,154.3L766.6,153.9L768.1,153.6L769.6,153.3L771,153L772.4,152.7L773.8,152.4L775.3,152.1L776.7,151.8L778.1,151.5L779.6,151.2L781,150.8L782.4,150.5L783.9,150.1L785.3,149.8L786.7,149.4L788.1,149.1L789.6,148.7L791.3,148.2L793.1,147.9L794.8,147.6L796.2,147.5L797.2,147.3L798.2,147L799.3,146.7L800.6,146.2L802.1,145.6L803.8,145L805.6,144.4L807.6,144L809.5,143.7L811.2,143.5L812.6,143.4L813.6,143.3L814.6,143L815.7,142.7L817.1,142.3L818.8,141.8L820.6,141.3L822.3,140.9L824,140.7L825.4,140.4L826.8,140.2L828.2,140L829.5,139.7L830.8,139.4L832.2,139.1L833.7,138.7L835.3,138.4L836.8,138L838.4,137.7L840,137.4L841.6,137.1L843.2,136.9L844.9,136.7L846.3,136.5L847.7,136.3L848.9,136.2L850.1,135.9L851.3,135.6L852.8,135.3L854.6,134.9L856.5,134.5L858.2,134.3L859.6,134.2L860.8,134.1L861.8,133.9L863,133.6L864.3,133.2L865.7,132.8L867.3,132.3L868.9,131.9L870.5,131.5L872.2,131.1L873.7,130.8L875.3,130.5L876.8,130.2L878.3,129.9L879.7,129.6L881.2,129.3L882.7,129.1L884.2,128.8L885.6,128.5L887,128.2L888.4,127.9L890,127.6L891.6,127.3L893.3,127L894.8,126.8L896.2,126.6L897.7,126.3L899.2,126.1L900.8,125.9L902.4,125.7L903.8,125.5L905.1,125.3L906.3,125.1L907.6,124.8L909,124.5L910.7,124.1L912.5,123.8L914.2,123.5L915.6,123.4L916.8,123.2L918,123L919.3,122.6L920.9,122.2L922.7,121.9L924.6,121.6L926.4,121.4L928,121.3L929.5,121.3L930.8,121.2L931.9,121.1L933,120.9L934.2,120.6L935.6,120.3L937.2,119.9L939,119.5L940.8,119.2L942.5,119L944,118.9L945.4,118.7L946.6,118.6L947.8,118.4L949.2,118.1L950.7,117.7L952.4,117.4L954.2,117.1L955.8,116.9L957.3,116.8L958.6,116.6L960,116.4L961.4,116.2L962.8,116L964.3,115.7L965.8,115.4L967.3,115.2L968.9,114.9L970.5,114.7L972.2,114.5L973.9,114.4L975.5,114.3L976.9,114.2L978.2,114.1L979.4,113.9L980.7,113.7L982.2,113.5L983.8,113.2L985.4,113L986.9,112.8L988.3,112.7L989.6,112.5L991.1,112.2L992.7,111.9L994.3,111.7L995.9,111.5L997.3,111.3L998.7,111.1L1000.1,110.9L1001.6,110.7L1003.2,110.5L1004.8,110.2L1006.4,110.1L1007.8,109.9L1009.1,109.8L1010.3,109.5L1011.7,109.3L1013.2,109L1014.8,108.7L1016.4,108.4L1017.9,108.2L1019.6,107.9L1021.4,107.7L1023.1,107.6L1024.7,107.5L1026.1,107.4L1027.4,107.3L1028.7,107.2L1030.2,107L1031.7,106.9L1033.3,106.7L1034.7,106.6L1036,106.5L1037.3,106.3L1038.6,106L1040.2,105.7L1042,105.5L1043.9,105.3L1045.7,105.2L1047.1,105.2L1048.3,105.2L1049.3,105L1050.4,104.8L1051.8,104.5L1053.3,104.2L1054.9,103.9L1056.4,103.6L1057.8,103.3L1059.2,103L1060.8,102.7L1062.5,102.3L1064.5,102L1066.5,101.9L1068.3,101.9L1070,101.9L1071.4,102L1072.6,102L1073.8,102L1075,101.9L1076.2,101.7L1077.4,101.5L1078.8,101.3L1080.2,101L1081.8,100.6L1083.6,100.3L1085.4,100.1L1087.2,100L1088.9,99.9L1090.5,99.9L1091.9,99.9L1093.2,99.8L1094.4,99.7L1095.6,99.6L1096.8,99.4L1098.3,99.1L1099.9,98.8L1101.6,98.6L1103.3,98.4L1104.9,98.2L1106.4,98.1L1108,98L1109.5,97.9L1111,97.8L1112.3,97.7L1113.5,97.5L1114.8,97.3L1116.3,97L1118,96.8L1119.7,96.6L1121.4,96.4L1122.9,96.3L1124.3,96.2L1125.7,96L1127.1,95.9L1128.6,95.7L1130,95.6L1131.5,95.4L1133,95.2L1134.7,95L1136.3,94.8L1137.8,94.7L1139.1,94.6L1140.3,94.5L1141.7,94.2L1143.3,94L1145,93.7L1146.8,93.6L1148.4,93.5L1149.8,93.4L1151.1,93.3L1152.4,93.1L1153.8,92.9L1155.3,92.7L1156.8,92.5L1158.5,92.3L1160.2,92.1L1161.9,92L1163.6,91.9L1165.1,91.9L1166.6,91.9L1168,91.8L1169.3,91.8L1170.6,91.7L1171.8,91.5L1173.2,91.3L1174.7,91.1L1176.3,90.9L1177.8,90.7L1179.3,90.5L1180.7,90.3L1182.3,90.1L1184,89.9L1185.8,89.7L1187.4,89.7L1188.9,89.6L1190.2,89.6L1191.5,89.5L1193,89.3L1194.5,89.2L1196.2,89L1197.8,89L1199.2,88.9L1200.6,88.8L1201.9,88.7L1203.4,88.5L1205,88.3L1206.6,88.2L1208.1,88.1L1209.5,88L1211,87.9L1212.5,87.7L1214,87.6L1215.4,87.5L1216.6,87.4L1217.9,87.2L1219.4,86.9L1220.9,86.7L1222.5,86.4L1224.1,86.2L1225.7,86L1227.4,85.8L1229.2,85.6L1230.9,85.6L1232.5,85.6L1234,85.6L1235.4,85.6L1236.8,85.5L1238.2,85.5L1239.5,85.4L1240.9,85.3L1242.2,85.2L1243.5,85L1245,84.8L1246.6,84.5L1248.4,84.3L1250.2,84.2L1251.8,84.2L1253.3,84.1L1254.6,84.1L1255.9,84L1257.3,83.9L1258.8,83.7L1260.3,83.6L1261.8,83.4L1263.2,83.3L1264.7,83.1L1266.1,83L1267.7,82.8L1269.3,82.6L1271.1,82.5L1272.8,82.4L1274.4,82.4L1275.8,82.4L1276.9,82.4L1278.1,82.3L1279.5,82.1L1281,81.9L1282.7,81.7L1284.4,81.5L1286,81.4L1287.4,81.4L1288.7,81.3L1290,81.1L1291.3,80.9L1292.8,80.7L1294.5,80.4L1296.2,80.2L1298,80.1L1299.6,80L1301.1,80L1302.4,79.9L1303.7,79.8L1305,79.7L1306.5,79.5L1308.1,79.3L1309.7,79.1L1311.2,79L1312.7,78.9L1314.2,78.7L1315.8,78.6L1317.5,78.5L1319.3,78.4L1321.1,78.5L1322.7,78.5L1324,78.6L1325,78.6L1326,78.5L1327.2,78.3L1328.6,78.1L1330.3,77.8L1332.2,77.6L1334,77.5L1335.6,77.4L1337.2,77.4L1338.6,77.3L1340,77.3L1341.3,77.2L1342.6,77.1L1344,76.9L1345.5,76.8L1347.1,76.6L1348.8,76.5L1350.5,76.4L1352,76.3L1353.5,76.3L1354.8,76.2L1356.2,76.1L1357.6,76L1359.2,75.8L1360.9,75.7L1362.7,75.7L1364.3,75.7L1365.7,75.7L1367,75.7L1368.2,75.6L1369.5,75.4L1370.9,75.3L1372.4,75.1L1374,74.9L1375.7,74.7L1377.3,74.6L1378.8,74.5L1380.4,74.4L1382,74.4L1383.6,74.3L1385,74.3L1386.2,74.2L1387.3,74.1L1388.6,73.9L1390.2,73.7L1392,73.4L1393.7,73.3L1395.3,73.2L1396.7,73.1L1398,73L1399.3,72.9L1400.7,72.7L1402.3,72.4L1404,72.2L1405.9,72.1L1407.7,72L1409.4,72.1L1411,72.1L1412.5,72.2L1413.7,72.2L1414.9,72.2L1416,72.1L1417.4,72L1419,71.8L1420.8,71.7L1422.7,71.6L1424.3,71.7L1425.6,71.7L1426.7,71.7L1427.7,71.6L1428.8,71.4L1430.2,71.1L1431.9,70.7L1433.9,70.4L1435.9,70.3L1437.8,70.3L1439.5,70.3L1440.9,70.4L1442.1,70.5L1443.2,70.4L1444.4,70.3L1445.8,70.2L1447.3,70L1449,69.8L1450.7,69.6L1452.4,69.6L1453.9,69.5L1455.3,69.5L1456.5,69.4L1457.7,69.3L1459.2,69.1L1460.8,68.8L1462.5,68.7L1464.3,68.6L1465.9,68.5L1467.4,68.5L1468.8,68.4L1470.2,68.3L1471.8,68.2L1473.4,68.2L1475.1,68.1L1476.6,68.1L1478.1,68.1L1479.4,68.1L1480.6,68.1L1481.9,68L1483.2,67.8L1484.6,67.6L1486.1,67.4L1487.8,67.2L1489.5,67L1491.1,66.9L1492.6,66.8L1494,66.7L1495.5,66.6L1497,66.4L1498.6,66.3L1500.3,66.2L1501.9,66.1L1503.4,66.1L1504.8,66.1L1506.2,66L1507.5,65.9L1508.9,65.8L1510.3,65.6L1511.9,65.5L1513.5,65.3L1515,65.2L1516.3,65.1L1517.5,64.9L1518.9,64.7L1520.6,64.4L1522.5,64.2L1524.4,64.1L1526.2,64.1L1527.7,64.2L1529,64.2L1530.3,64.2L1531.5,64.1L1532.9,64L1534.5,63.8L1536.2,63.7L1537.9,63.7L1539.5,63.7L1541,63.7L1542.5,63.6L1543.9,63.6L1545.3,63.6L1546.8,63.5L1548.3,63.5L1549.8,63.4L1551.3,63.4L1552.7,63.3L1554.1,63.2L1555.5,63.1L1556.9,63L1558.5,62.9L1560.3,62.8L1562,62.7L1563.5,62.7L1564.8,62.7L1566,62.7L1567.2,62.5L1568.6,62.4L1570.2,62.2L1571.8,62L1573.3,61.8L1574.8,61.7L1576.2,61.5L1577.7,61.3L1579.3,61.2L1581,61L1582.7,60.9L1584.3,60.9L1585.9,60.8L1587.4,60.8L1588.9,60.8L1590.3,60.8L1591.6,60.7L1592.9,60.6L1594.2,60.5L1595.6,60.3L1597.5,60.3L1599.2,60.8L1600.8,61.7L1602.1,63L1603.1,64.6L1603.5,66.4L1603.5,68.3L1603,70.1L1602.1,71.7L1600.8,73L1599.2,73.9L1597.4,74.4L1595.8,74.6L1594.1,74.8L1592.4,74.9L1590.7,75L1589.1,75L1587.6,75L1586.1,75L1584.7,75L1583.3,75.1L1582,75.2L1580.7,75.3L1579.4,75.4L1577.9,75.6L1576.3,75.8L1574.7,76L1573.3,76.1L1571.9,76.3L1570.4,76.5L1568.8,76.7L1567.1,76.8L1565.3,76.9L1563.6,76.9L1562.1,76.9L1560.8,77L1559.5,77L1558.1,77.2L1556.6,77.3L1555,77.4L1553.4,77.5L1551.8,77.6L1550.3,77.6L1548.8,77.7L1547.3,77.7L1545.8,77.8L1544.2,77.8L1542.6,77.8L1541.1,77.9L1539.6,77.9L1538.2,77.9L1536.9,77.9L1535.6,78L1534.2,78.1L1532.6,78.3L1530.9,78.4L1529.1,78.4L1527.4,78.4L1525.9,78.3L1524.7,78.3L1523.7,78.4L1522.6,78.5L1521.2,78.7L1519.6,79L1517.9,79.2L1516.2,79.4L1514.7,79.5L1513.3,79.6L1511.8,79.8L1510.3,79.9L1508.6,80.1L1507,80.2L1505.4,80.2L1503.8,80.3L1502.3,80.3L1500.9,80.4L1499.6,80.5L1498.2,80.6L1496.7,80.7L1495.2,80.8L1493.6,81L1492.1,81L1490.7,81.1L1489.4,81.3L1488.1,81.4L1486.6,81.6L1485,81.9L1483.3,82.1L1481.6,82.2L1479.8,82.3L1478.2,82.3L1476.6,82.3L1475.2,82.3L1473.8,82.4L1472.5,82.4L1471,82.5L1469.5,82.6L1467.9,82.7L1466.3,82.7L1465,82.7L1463.7,82.8L1462.5,82.9L1461.1,83.1L1459.5,83.4L1457.8,83.5L1456,83.7L1454.3,83.7L1452.9,83.8L1451.6,83.8L1450.3,83.9L1449,84.1L1447.5,84.2L1445.9,84.4L1444.1,84.6L1442.2,84.7L1440.4,84.6L1438.8,84.5L1437.5,84.5L1436.4,84.5L1435.5,84.5L1434.4,84.7L1433.1,85L1431.5,85.3L1429.6,85.6L1427.6,85.8L1425.7,85.9L1424,85.9L1422.7,85.8L1421.5,85.8L1420.4,85.9L1419,86.1L1417.3,86.3L1415.5,86.4L1413.7,86.4L1411.9,86.4L1410.4,86.3L1409,86.3L1407.7,86.2L1406.5,86.3L1405.4,86.4L1404.1,86.5L1402.7,86.7L1401.1,87L1399.4,87.2L1397.7,87.3L1396.1,87.4L1394.7,87.5L1393.5,87.6L1392.2,87.7L1390.8,88L1389.1,88.2L1387.3,88.4L1385.5,88.5L1383.9,88.5L1382.5,88.6L1381.1,88.6L1379.7,88.7L1378.2,88.8L1376.8,88.9L1375.5,89L1374.1,89.2L1372.6,89.4L1371,89.6L1369.3,89.7L1367.6,89.8L1365.8,89.9L1364.2,89.9L1362.8,89.9L1361.6,89.9L1360.4,90L1358.9,90.1L1357.4,90.3L1355.7,90.4L1354.1,90.5L1352.5,90.5L1351.1,90.6L1349.8,90.6L1348.4,90.8L1347.1,90.9L1345.6,91.1L1344,91.2L1342.3,91.4L1340.7,91.5L1339,91.5L1337.5,91.6L1336,91.6L1334.7,91.6L1333.5,91.7L1332.3,91.9L1331,92.1L1329.5,92.3L1327.6,92.6L1325.6,92.8L1323.7,92.8L1322,92.7L1320.6,92.6L1319.3,92.6L1318.2,92.6L1316.9,92.7L1315.5,92.9L1314,93L1312.5,93.1L1311.1,93.3L1309.7,93.4L1308.2,93.6L1306.7,93.8L1305.1,94L1303.3,94.1L1301.7,94.2L1300.1,94.2L1298.8,94.3L1297.5,94.4L1296.3,94.5L1295,94.7L1293.5,95L1291.8,95.2L1290.1,95.4L1288.4,95.5L1286.8,95.6L1285.4,95.7L1284.1,95.8L1282.8,95.9L1281.4,96.1L1279.7,96.4L1277.9,96.5L1276.1,96.6L1274.5,96.6L1273.1,96.6L1271.8,96.7L1270.6,96.8L1269.3,96.9L1267.8,97.1L1266.2,97.3L1264.7,97.4L1263.2,97.6L1261.7,97.7L1260.2,97.9L1258.7,98L1257,98.2L1255.3,98.3L1253.7,98.3L1252.2,98.4L1250.8,98.4L1249.6,98.5L1248.4,98.6L1247.1,98.8L1245.5,99L1243.8,99.3L1242.1,99.4L1240.5,99.6L1238.9,99.7L1237.3,99.7L1235.7,99.8L1234.1,99.8L1232.6,99.8L1231.2,99.8L1229.9,99.8L1228.7,99.9L1227.4,100.1L1226,100.2L1224.6,100.4L1223.2,100.7L1221.8,100.9L1220.2,101.2L1218.5,101.4L1216.8,101.6L1215.2,101.8L1213.7,101.9L1212.2,102L1210.7,102.1L1209.2,102.3L1207.7,102.4L1206.3,102.5L1204.8,102.6L1203.3,102.8L1201.7,102.9L1200.1,103.1L1198.5,103.1L1197.1,103.2L1195.8,103.3L1194.4,103.5L1192.8,103.6L1191.1,103.7L1189.4,103.8L1187.9,103.9L1186.6,103.9L1185.4,104L1184.1,104.2L1182.7,104.4L1181.1,104.6L1179.6,104.8L1178.2,105L1176.8,105.2L1175.3,105.4L1173.7,105.6L1171.9,105.8L1170.2,106L1168.5,106L1166.9,106.1L1165.4,106.1L1164,106.1L1162.6,106.2L1161.3,106.3L1160.1,106.4L1158.8,106.5L1157.3,106.8L1155.8,107L1154.2,107.2L1152.5,107.4L1150.9,107.5L1149.3,107.6L1147.9,107.7L1146.6,107.8L1145.4,108L1144,108.2L1142.4,108.5L1140.6,108.7L1139,108.9L1137.5,109L1136.1,109.1L1134.7,109.3L1133.3,109.5L1131.8,109.7L1130.2,109.8L1128.7,110L1127.2,110.2L1125.6,110.3L1124,110.5L1122.5,110.6L1121.2,110.7L1119.9,110.8L1118.6,111.1L1117.1,111.3L1115.5,111.6L1113.7,111.8L1112,111.9L1110.5,112L1109,112.1L1107.6,112.2L1106.2,112.4L1104.8,112.5L1103.5,112.6L1102.2,112.8L1100.8,113.1L1099.3,113.4L1097.5,113.7L1095.7,113.9L1093.9,114L1092.2,114L1090.7,114.1L1089.3,114.1L1088,114.1L1086.8,114.2L1085.7,114.4L1084.4,114.6L1083.1,114.9L1081.5,115.2L1079.9,115.5L1078.2,115.8L1076.4,116L1074.6,116.1L1072.8,116.2L1071,116.2L1069.4,116.1L1068.1,116.1L1067,116.1L1066,116.2L1065,116.3L1063.7,116.6L1062.3,116.9L1060.7,117.2L1059.1,117.5L1057.6,117.8L1056.2,118.1L1054.8,118.4L1053.2,118.7L1051.4,119.1L1049.4,119.3L1047.5,119.4L1046,119.4L1044.8,119.4L1043.8,119.5L1042.6,119.7L1041.2,120L1039.5,120.3L1037.8,120.6L1036.1,120.7L1034.6,120.9L1033.2,121L1031.8,121.1L1030.2,121.3L1028.6,121.5L1026.9,121.6L1025.3,121.7L1023.9,121.8L1022.7,121.8L1021.5,122L1020.2,122.2L1018.7,122.4L1017.3,122.7L1015.9,122.9L1014.4,123.2L1012.9,123.5L1011.2,123.8L1009.5,124L1007.9,124.2L1006.5,124.3L1005.1,124.5L1003.8,124.7L1002.3,125L1000.7,125.2L999.1,125.4L997.6,125.6L996.2,125.8L994.8,126L993.4,126.2L991.9,126.5L990.3,126.7L988.7,126.9L987.2,127.1L985.9,127.3L984.5,127.5L983,127.8L981.3,128L979.6,128.2L977.9,128.4L976.3,128.4L974.9,128.5L973.7,128.6L972.4,128.8L971,129L969.6,129.2L968.2,129.4L966.7,129.7L965.2,130L963.7,130.2L962.1,130.5L960.5,130.7L958.9,130.9L957.4,131.1L956.1,131.2L954.9,131.4L953.6,131.6L952.2,132L950.5,132.3L948.7,132.6L947,132.8L945.4,133L944,133.1L942.7,133.3L941.6,133.5L940.4,133.7L939,134.1L937.4,134.4L935.7,134.8L933.8,135.1L932,135.3L930.3,135.4L928.8,135.5L927.4,135.6L926.3,135.7L925.2,135.8L924.1,136.1L922.7,136.4L921.1,136.8L919.2,137.2L917.5,137.4L916,137.6L914.7,137.8L913.5,138L912.2,138.3L910.7,138.7L909.1,139L907.3,139.3L905.6,139.6L904.1,139.8L902.7,139.9L901.3,140.1L899.9,140.4L898.4,140.6L896.9,140.8L895.5,141.1L894.1,141.3L892.8,141.5L891.4,141.8L889.9,142.1L888.3,142.5L886.8,142.8L885.3,143L883.8,143.3L882.4,143.6L880.9,143.9L879.4,144.1L878,144.4L876.6,144.7L875.2,145L873.9,145.3L872.5,145.6L871.2,146L869.8,146.4L868.3,146.8L866.7,147.3L864.9,147.8L863,148.1L861.2,148.3L859.6,148.5L858.4,148.6L857.3,148.8L856.2,149.1L854.7,149.4L853.1,149.8L851.3,150.2L849.5,150.4L847.9,150.6L846.5,150.8L845.1,150.9L843.9,151.1L842.5,151.4L841.2,151.6L839.8,151.9L838.4,152.2L837,152.5L835.6,152.9L834,153.3L832.4,153.6L830.8,153.9L829.2,154.2L827.7,154.5L826.2,154.7L824.9,154.9L823.7,155.1L822.6,155.4L821.3,155.8L819.8,156.3L818,156.8L816,157.2L814.1,157.5L812.5,157.6L811.3,157.8L810.3,157.9L809.3,158.2L808.2,158.5L807,158.9L805.6,159.5L804,160.1L802.1,160.7L800.2,161.2L798.3,161.5L796.8,161.7L795.5,161.9L794.4,162.1L793.1,162.4L791.7,162.8L790.2,163.2L788.7,163.6L787.2,163.9L785.7,164.3L784.2,164.6L782.8,165L781.3,165.3L779.7,165.7L778.3,166L776.8,166.3L775.4,166.6L773.8,166.9L772.3,167.2L770.9,167.5L769.5,167.8L768.2,168.1L766.9,168.4L765.5,168.8L764.2,169.1L763,169.5L761.6,170L760.2,170.5L758.5,171.1L756.7,171.6L755,172L753.5,172.3L752.1,172.6L750.7,172.9L749.4,173.2L747.9,173.6L746.5,173.9L745.1,174.3L743.7,174.6L742.3,175L740.9,175.4L739.5,175.8L738.2,176.2L736.9,176.6L735.5,177.1L733.8,177.7L732.1,178.1L730.4,178.5L728.8,178.9L727.3,179.2L725.8,179.4L724.5,179.7L723.2,179.9L722,180.2L720.8,180.6L719.5,181L718.1,181.4L716.6,181.9L715.1,182.4L713.6,182.8L712.1,183.3L710.6,183.7L709.2,184.1L707.8,184.5L706.5,184.9L705.2,185.3L703.9,185.8L702.5,186.3L701.1,186.8L699.7,187.3L698.2,187.9L696.7,188.4L695.2,189L693.7,189.4L692.4,189.9L691,190.4L689.6,190.9L688.1,191.5L686.4,192L684.9,192.5L683.4,192.9L682,193.3L680.6,193.7L679.2,194.1L677.8,194.5L676.4,195L674.9,195.4L673.4,195.9L672,196.3L670.7,196.7L669.5,197.1L668.3,197.5L667,198L665.7,198.6L664.2,199.2L662.6,199.8L661.1,200.3L659.7,200.9L658.3,201.4L656.9,201.9L655.5,202.4L653.9,203L652.3,203.5L650.8,204L649.5,204.3L648.3,204.7L647.2,205.2L645.9,205.7L644.3,206.3L642.6,207L641,207.5L639.4,207.9L638.1,208.3L637,208.7L635.8,209.1L634.6,209.6L633.3,210.1L631.9,210.7L630.4,211.3L628.9,211.9L627.3,212.5L625.9,213L624.4,213.5L623.1,214L621.8,214.5L620.6,214.9L619.4,215.5L618.1,216.1L616.6,216.7L615.1,217.4L613.6,218L612.2,218.6L610.9,219.1L609.6,219.6L608.3,220.2L606.8,220.9L605.3,221.5L603.8,222.1L602.5,222.6L601.3,223.1L600.2,223.6L598.8,224.3L597.3,225L595.8,225.7L594.3,226.3L592.9,226.9L591.7,227.4L590.5,227.9L589.2,228.5L587.8,229.2L586.3,229.9L584.7,230.6L583.2,231.2L581.8,231.8L580.6,232.3L579.3,232.8L578,233.4L576.7,234L575.2,234.6L573.8,235.2L572.5,235.8L571.3,236.3L570.2,236.8L569.1,237.4L567.9,238.1L566.6,238.9L565,239.8L563.4,240.7L561.9,241.4L560.4,242L559.2,242.6L557.9,243.2L556.7,243.8L555.4,244.5L554.1,245.2L552.7,245.9L551.4,246.6L549.9,247.3L548.4,248L546.8,248.7L545.4,249.3L544.2,249.8L543.2,250.2L542.2,250.7L541.1,251.3L539.9,252.1L538.6,252.9L537.2,253.8L535.7,254.7L534.3,255.5L532.9,256.3L531.4,257L530,257.7L528.7,258.4L527.6,258.9L526.5,259.5L525.4,260.2L524.2,261L523,261.8L521.6,262.7L520.3,263.6L518.9,264.5L517.5,265.4L516,266.3L514.6,267L513.2,267.8L512,268.4L510.7,269.1L509.4,269.8L508.1,270.5L506.8,271.2L505.6,271.9L504.4,272.6L503.2,273.2L502,273.9L500.7,274.7L499.5,275.5L498.2,276.2L497,277L495.8,277.8L494.5,278.6L493.3,279.4L492.1,280.2L490.9,281L489.7,281.8L488.4,282.7L487.1,283.6L485.8,284.5L484.5,285.4L483.3,286.2L482,287L480.7,287.9L479.5,288.6L478.3,289.4L477.1,290.2L475.9,291.1L474.7,291.9L473.4,292.8L472.2,293.6L471,294.5L469.7,295.3L468.5,296.2L467.3,297L466.2,297.8L465,298.6L463.8,299.5L462.6,300.4L461.3,301.3L460.2,302.1L459,303L457.9,303.8L456.8,304.7L455.7,305.6L454.5,306.5L453.3,307.5L452.1,308.5L450.8,309.6L449.5,310.6L448.3,311.5L447.1,312.3L446,313.2L444.8,314.1L443.6,315L442.4,315.9L441.2,316.7L440.2,317.5L439.1,318.4L438,319.3L436.9,320.2L435.7,321.2L434.5,322.1L433.5,323L432.4,323.9L431.3,324.8L430.3,325.8L429.2,326.8L428.1,327.8L427,328.9L425.8,330L424.7,331L423.5,332.1L422.4,333.1L421.4,334.1L420.3,335.1L419.1,336.2L418,337.3L416.8,338.3L415.7,339.3L414.6,340.3L413.6,341.2L412.6,342.1L411.6,343.1L410.6,344.1L409.6,345.2L408.5,346.3L407.4,347.4L406.4,348.5L405.3,349.6L404.2,350.7L403.1,351.8L402,352.9L400.9,354L399.9,354.9L398.9,355.9L398,356.8L397.1,357.8L396.1,358.8L395.2,359.9L394.1,361.1L393.1,362.3L392,363.6L390.9,364.7L389.9,365.8L388.9,366.8L388,367.8L387.1,368.8L386.2,369.9L385.2,371L384.2,372.2L383.2,373.4L382.2,374.6L381.2,375.7L380.3,376.8L379.4,377.8L378.5,378.9L377.6,380.1L376.7,381.3L375.7,382.5L374.8,383.7L373.8,384.8L372.9,386L372,387.2L371,388.3L370.1,389.5L369.2,390.6L368.3,391.7L367.5,392.8L366.6,393.9L365.8,395L364.9,396.2L364.1,397.3L363.3,398.5L362.4,399.7L361.6,401L360.7,402.3L359.8,403.6L358.9,404.9L358.1,406.1L357.2,407.3L356.4,408.5L355.6,409.7L354.8,411L353.9,412.2L353.1,413.4L352.3,414.6L351.5,415.8L350.8,417.1L350,418.3L349.2,419.6L348.3,420.9L347.6,422.1L346.8,423.4L346,424.5L345.3,425.8L344.6,427L343.8,428.3L343,429.6L342.2,431L341.5,432.2L340.7,433.5L340,434.7L339.4,435.9L338.7,437.1L338,438.4L337.3,439.8L336.5,441.2L335.8,442.6L335.1,443.9L334.4,445.2L333.7,446.5L333,447.8L332.3,449.2L331.6,450.6L330.9,451.8L330.3,453.1L329.7,454.3L329.1,455.5L328.4,456.8L327.8,458.2L327.1,459.7L326.5,461.1L325.8,462.5L325.2,463.8L324.6,465.1L324,466.5L323.3,467.8L322.7,469.2L322.1,470.5L321.6,471.8L321,473.1L320.4,474.5L319.8,476L319.2,477.3L318.6,478.7L318,480.1L317.4,481.4L316.9,482.8L316.3,484.1L315.8,485.4L315.2,486.7L314.7,488L314.2,489.4L313.7,490.8L313.1,492.2L312.6,493.7L312,495.2L311.5,496.6L310.9,498L310.4,499.4L309.9,500.8L309.4,502.1L308.8,503.5L308.4,504.8L307.9,506.1L307.4,507.5L306.9,508.9L306.4,510.3L305.8,511.7L305.4,513.1L304.9,514.4L304.4,515.8L303.9,517.1L303.5,518.6L303,520L302.5,521.5L302,523L301.5,524.4L301,525.7L300.5,527.1L300.1,528.4L299.6,529.9L299.1,531.3L298.6,532.7L298.2,534.1L297.7,535.5L297.2,536.9L296.8,538.3L296.3,539.7L295.9,541.1L295.4,542.5L294.9,543.9L294.5,545.3L294,546.8L293.5,548.3L293.1,549.7L292.6,551.2L292.1,552.6L291.7,554L291.2,555.5L290.7,556.9L290.3,558.3L289.8,559.7L289.4,561.1L288.9,562.5L288.5,563.9L288,565.3L287.5,566.7L287.1,568.2L286.6,569.6L286.1,571L285.7,572.4L285.2,573.7L284.8,575.1L284.3,576.4L283.9,577.8L283.4,579.3L283,580.8L282.5,582.2L282.1,583.6L281.6,585.1L281.2,586.5L280.7,587.9L280.3,589.3L279.9,590.8L279.4,592.2L279,593.6L278.5,595L278.1,596.4L277.6,597.8L277.2,599.2L276.8,600.6L276.4,602L275.9,603.4L275.5,604.9L275.1,606.4L274.7,607.8L274.2,609.2L273.8,610.6L273.4,612L273,613.5L272.6,614.9L272.2,616.4L271.8,617.8L271.4,619.3L271,620.7L270.6,622.1L270.2,623.5L269.8,624.9L269.4,626.4L269,627.9L268.7,629.3L268.3,630.8L267.9,632.3L267.5,633.7L267.2,635.1L266.8,636.5L266.4,637.9L266.1,639.3L265.7,640.8L265.4,642.2L265,643.7L264.7,645.2L264.3,646.6L264,648.1L263.7,649.6L263.3,651L263,652.5L262.7,653.9L262.3,655.4L262,656.8L261.7,658.2L261.4,659.6L261.1,661.1L260.8,662.5L260.5,664L260.2,665.5L259.9,667L259.6,668.5L259.3,669.9L259,671.4L258.8,672.8L258.5,674.3L258.2,675.7L257.9,677.2L257.7,678.6L257.4,680.1L257.2,681.6L256.9,683L256.7,684.5L256.4,686L256.2,687.4L255.9,688.9L255.7,690.4L255.4,691.8L255.2,693.3L255,694.8L254.8,696.3L254.6,697.7L254.3,699.2L254.1,700.7L253.9,702.1L253.7,703.6L253.5,705.1L253.3,706.6L253.1,708.1L252.9,709.5L252.7,711L252.5,712.5L252.3,713.9L252.2,715.4L252,716.9L251.8,718.3L251.6,719.8L251.5,721.3L251.3,722.8L251.1,724.3L251,725.8L250.8,727.3L250.7,728.7L250.5,730.2L250.4,731.7L250.2,733.2L250.1,734.7L249.9,736.2L249.8,737.7L249.6,739.2L249.5,740.7L249.4,742.1L249.2,743.6L249.1,745.1L249,746.5L248.8,748L248.7,749.5L248.6,751L248.5,752.5L248.3,754L248.2,755.5L248.1,757L248,758.5L247.9,759.9L247.8,761.4L247.6,762.9L247.5,764.4L247.4,765.9L247.3,767.4L247.2,768.9L247.1,770.4L247,771.9L246.9,773.4L246.8,774.8L246.7,776.3L246.6,777.8L246.5,779.3L246.4,780.8L246.3,782.3L246.2,783.8L246.2,785.3L246.1,786.8L246,788.3L245.9,789.8L245.8,791.3L245.7,792.7L245.6,794.2L245.6,795.7L245.5,797.2L245.4,798.7L245.3,800.2L245.2,801.7L245.2,803.2L245.1,804.7L245,806.2L244.9,807.7L244.9,809.2L244.8,810.7L244.7,812.2L244.6,813.7L244.6,815.2L244.5,816.7L244.4,818.2L244.4,819.7L244.3,821.2L244.2,822.7L244.2,824.2L244.1,825.7L244,827.2L244,828.7L243.9,830.1L243.8,831.6L243.8,833.1L243.7,834.6L243.6,836.1L243.6,837.6L243.5,839.1L243.5,840.6L243.4,842.1L243.1,843.9L242.3,845.6L241.1,847L239.6,848.1L237.9,848.8L236,848.9L234.2,848.6L232.5,847.8L231.1,846.7L230,845.1L229.4,843.4L229.2,841.6Z" fill="#6B4487"/>
</g>
<g class="series series-red">
<circle cx="239.8" cy="845.5" r="7.8" fill="#FF0000"/>
<circle cx="239.8" cy="867" r="7.8" fill="#FF0000"/>
<circle cx="239.4" cy="887.3" r="7.8" fill="#FF0000"/>
<circle cx="237" cy="906" r="7.8" fill="#FF0000"/>
<circle cx="235.8" cy="918" r="7.8" fill="#FF0000"/>
<circle cx="235.8" cy="927" r="7.8" fill="#FF0000"/>
<circle cx="235.8" cy="934" r="7.8" fill="#FF0000"/>
<path d="M230.8,825.4L230.9,823.9L231,822.4L231,820.9L231.1,819.4L231.2,817.9L231.3,816.4L231.4,814.9L231.5,813.4L231.6,811.9L231.6,810.4L231.7,808.9L231.8,807.4L231.9,805.9L232,804.4L232.1,802.9L232.2,801.4L232.3,799.9L232.4,798.4L232.5,796.9L232.6,795.4L232.7,793.9L232.8,792.4L232.9,790.9L233,789.3L233.1,787.8L233.2,786.3L233.3,784.8L233.4,783.3L233.5,781.8L233.6,780.3L233.7,778.8L233.8,777.3L233.9,775.8L234,774.3L234.1,772.8L234.2,771.3L234.3,769.8L234.4,768.3L234.5,766.8L234.7,765.3L234.8,763.8L234.9,762.3L235,760.8L235.1,759.3L235.2,757.8L235.4,756.3L235.5,754.8L235.6,753.3L235.7,751.8L235.8,750.3L236,748.8L236.1,747.3L236.2,745.8L236.4,744.3L236.5,742.8L236.6,741.3L236.8,739.8L236.9,738.3L237,736.7L237.2,735.2L237.3,733.7L237.5,732.2L237.6,730.8L237.7,729.3L237.9,727.8L238,726.3L238.2,724.7L238.3,723.2L238.5,721.7L238.7,720.2L238.8,718.7L239,717.2L239.1,715.6L239.3,714.1L239.5,712.6L239.6,711.1L239.8,709.6L240,708.1L240.1,706.6L240.3,705.1L240.5,703.6L240.7,702.1L240.9,700.6L241,699.1L241.2,697.6L241.4,696.1L241.6,694.6L241.8,693.1L242,691.6L242.2,690.1L242.4,688.6L242.6,687.2L242.8,685.7L243,684.2L243.3,682.7L243.5,681.2L243.7,679.7L243.9,678.1L244.1,676.6L244.4,675.1L244.6,673.6L244.8,672.1L245.1,670.6L245.3,669.1L245.6,667.6L245.8,666.1L246.1,664.6L246.4,663.1L246.6,661.6L246.9,660.1L247.2,658.6L247.4,657.1L247.7,655.7L248,654.2L248.3,652.7L248.6,651.2L248.9,649.7L249.2,648.2L249.5,646.6L249.8,645.1L250.1,643.6L250.5,642.1L250.8,640.6L251.1,639.1L251.4,637.7L251.8,636.2L252.1,634.7L252.5,633.1L252.8,631.5L253.2,630L253.6,628.5L254,627L254.3,625.6L254.7,624.1L255.1,622.7L255.5,621.1L255.9,619.6L256.4,618.1L256.8,616.6L257.2,615.2L257.6,613.8L258.1,612.4L258.5,611L258.9,609.5L259.4,608.1L259.8,606.5L260.3,605.1L260.8,603.6L261.3,602.2L261.7,600.8L262.2,599.4L262.7,598L263.2,596.5L263.7,595L264.2,593.5L264.7,592L265.2,590.5L265.8,589L266.3,587.6L266.8,586.2L267.3,584.8L267.9,583.3L268.4,581.7L269,580.2L269.6,578.6L270.2,577.1L270.8,575.6L271.4,574.3L272,573L272.6,571.8L273.1,570.6L273.6,569.3L274.2,567.9L274.8,566.5L275.4,565L276.1,563.6L276.7,562.1L277.3,560.8L277.9,559.4L278.5,558.1L279.1,556.7L279.7,555.3L280.4,553.7L281.1,552.2L281.8,550.7L282.5,549.3L283.1,547.9L283.8,546.6L284.4,545.3L285,544L285.7,542.5L286.4,541.1L287.1,539.7L287.8,538.3L288.5,536.9L289.2,535.5L290,534.1L290.7,532.8L291.4,531.6L292.1,530.3L292.8,529L293.5,527.6L294.2,526.2L294.9,524.9L295.7,523.6L296.3,522.3L297.1,521L297.8,519.6L298.6,518.1L299.4,516.6L300.2,515.2L301.1,513.8L301.9,512.4L302.8,511.1L303.6,509.9L304.3,508.8L305,507.8L305.7,506.5L306.5,505.2L307.4,503.8L308.3,502.4L309.2,501.1L310,499.9L310.8,498.7L311.6,497.6L312.4,496.4L313.2,495.1L314.1,493.8L315,492.5L315.8,491.3L316.7,490.1L317.5,488.8L318.4,487.5L319.3,486.2L320.3,484.8L321.3,483.5L322.2,482.3L323.1,481.2L323.9,480.2L324.7,479L325.6,477.7L326.5,476.5L327.5,475.2L328.3,474L329.2,472.7L330.2,471.4L331.2,470L332.3,468.6L333.4,467.2L334.4,465.9L335.4,464.7L336.5,463.5L337.6,462.2L338.7,461L339.8,459.9L340.8,458.9L341.5,458.2L342.3,457.4L343.1,456.3L344.1,455.1L345.2,453.7L346.4,452.4L347.5,451.1L348.5,450.1L349.5,449L350.5,447.9L351.5,446.7L352.6,445.4L353.8,444.2L355,442.9L356.3,441.6L357.5,440.5L358.7,439.4L359.7,438.6L360.6,437.8L361.5,437L362.3,436.1L363.3,435.1L364.4,434L365.5,432.7L366.8,431.4L368.1,430.1L369.4,428.9L370.6,427.9L371.8,426.9L372.9,425.9L374.1,425L375.3,424L376.5,423.1L377.4,422.3L378.3,421.6L379.1,420.8L380.2,419.8L381.4,418.5L382.8,417.3L384.1,416.1L385.3,415.1L386.4,414.1L387.7,413L389.1,411.9L390.7,410.8L392,409.9L393,409.3L393.8,408.8L394.5,408.2L395.4,407.3L396.6,406.1L398.1,404.8L399.8,403.4L401.4,402.4L402.6,401.6L403.5,400.9L404.4,400.3L405.4,399.4L406.6,398.5L407.9,397.4L409.3,396.3L410.7,395.2L412.2,394.2L413.6,393.3L414.9,392.4L416.2,391.7L417.4,391L418.5,390.3L419.5,389.6L420.4,388.9L421.4,388.2L422.5,387.3L423.8,386.1L425.4,384.8L427.1,383.6L428.7,382.6L430.1,381.8L431.2,381.1L432.3,380.4L433.6,379.6L435.2,378.7L436.7,377.8L438.2,377.1L439.5,376.5L440.5,375.9L441.4,375.5L442.3,374.9L443.3,374.1L444.6,373.2L446.1,372L447.8,370.9L449.6,369.9L451.1,369.2L452.5,368.5L453.8,367.9L455,367.3L456.2,366.7L457.3,366.1L458.6,365.4L460.1,364.6L461.6,363.9L463,363.2L464.2,362.7L465.1,362.2L465.9,361.7L467,361L468.3,360L469.9,358.9L471.7,357.8L473.5,356.8L475.1,356.1L476.5,355.5L477.6,355L478.7,354.4L480,353.8L481.5,353L483.1,352.2L484.7,351.5L486.2,350.9L487.5,350.4L488.4,350L489.3,349.6L490.2,349L491.4,348.2L492.9,347.3L494.6,346.2L496.3,345.3L497.8,344.6L499.1,344L500.5,343.3L502,342.5L503.7,341.8L505.4,341.1L506.9,340.6L508.2,340.1L509.5,339.7L510.7,339.2L512.1,338.6L513.5,338.1L515.1,337.5L516.7,336.9L518.2,336.4L519.5,336L520.6,335.7L521.7,335.2L522.8,334.7L524.2,334.1L525.6,333.5L527,332.8L528.6,332.2L530.2,331.5L531.8,330.9L533.2,330.5L534.4,330L535.6,329.6L536.8,329L538.1,328.4L539.6,327.8L541.1,327.1L542.6,326.5L544,325.9L545.3,325.4L546.6,324.8L547.8,324.3L549.2,323.6L550.7,322.9L552.3,322.2L553.9,321.5L555.6,320.8L557.2,320.3L558.9,319.8L560.3,319.4L561.6,319L562.8,318.6L564,318.2L565.4,317.6L567.2,317L569.1,316.5L570.7,316.1L572,315.8L573.1,315.5L574.1,315.2L575.4,314.7L576.9,314.2L578.5,313.7L579.9,313.2L581.2,312.8L582.6,312.3L584.2,311.7L586.1,311.2L588.1,310.7L589.7,310.5L590.7,310.3L591.2,310.2L591.8,310L592.7,309.5L594.1,308.7L596,307.7L598,306.8L600.1,306.1L602,305.6L603.4,305.3L604.4,305L605.3,304.7L606.4,304.2L608,303.6L610,302.9L612,302.3L613.7,302L615,301.7L616.1,301.4L617.2,301.1L618.7,300.6L620.4,300.1L622.2,299.7L623.9,299.3L625.2,299.1L626.4,298.8L627.5,298.5L628.7,298.2L630,297.8L631.3,297.3L632.8,296.8L634.5,296.2L636.3,295.7L638,295.3L639.6,294.9L641.1,294.6L642.3,294.4L643.5,294.1L644.6,293.7L645.8,293.3L647.1,292.9L648.3,292.4L649.6,291.9L650.9,291.3L652.4,290.6L654.1,289.9L656,289.2L658,288.5L660.1,288.1L661.9,287.8L663.4,287.6L664.5,287.4L665.4,287.3L666.4,287L667.6,286.6L669.3,286L671.3,285.4L673.3,285.1L674.9,284.8L676.1,284.7L677,284.5L678,284.2L679.3,283.7L680.7,283.2L682.3,282.7L683.9,282.2L685.6,281.7L687.4,281.3L689,280.9L690.4,280.7L691.6,280.4L692.9,280.1L694.3,279.7L695.7,279.3L697.1,278.9L698.6,278.4L700.3,278L702.2,277.5L704,277.2L705.6,277L707,276.8L708.3,276.6L709.6,276.4L711.2,276.1L712.8,275.8L714.3,275.6L715.7,275.4L716.8,275.2L717.8,275L718.8,274.7L720,274.3L721.5,273.7L723.3,273.1L725.2,272.6L727.2,272.1L729,271.9L730.7,271.7L732.2,271.5L733.5,271.3L734.8,271.2L736,271L737.2,270.7L738.6,270.4L740,270.1L741.6,269.7L743,269.4L744.2,269.1L745.4,268.8L746.9,268.4L748.7,267.9L750.6,267.4L752.4,267.1L753.8,266.9L755,266.7L756.1,266.5L757.4,266.2L758.8,265.8L760.4,265.3L762.1,264.9L763.9,264.6L765.6,264.3L767.3,264L768.9,263.9L770.5,263.7L772,263.6L773.3,263.4L774.4,263.3L775.4,263.1L776.5,262.8L777.9,262.4L779.5,262L781.1,261.6L782.7,261.3L784,260.9L785.4,260.6L786.9,260.2L788.7,259.8L790.7,259.4L792.7,259.2L794.3,259.1L795.7,259L796.8,258.9L797.9,258.7L799,258.5L800.1,258.3L801.3,257.9L802.7,257.5L804.3,257L806.2,256.5L808,256.1L809.5,255.8L810.7,255.6L811.8,255.3L813.3,254.9L815.1,254.4L817.1,254L818.9,253.8L820.5,253.6L821.9,253.4L823.1,253.3L824.3,253.1L825.5,252.8L826.7,252.5L828,252.1L829.6,251.7L831.4,251.3L833.3,250.9L835.3,250.6L837.2,250.4L838.7,250.4L840.1,250.3L841.2,250.2L842.2,250.1L843.3,249.9L844.5,249.5L846,249.1L847.8,248.7L849.6,248.4L851.2,248.2L852.5,248L853.6,247.7L854.9,247.4L856.4,247L858.1,246.6L859.9,246.3L861.7,246L863.6,245.8L865.5,245.6L867.3,245.6L868.9,245.6L870.3,245.7L871.4,245.7L872.6,245.6L873.8,245.5L875.1,245.3L876.2,245.2L877,245L877.7,244.8L878.7,244.4L880.1,243.7L882.1,242.8L884.6,242L887.4,241.6L889.8,241.6L891.7,241.7L893.1,241.8L894.1,241.9L895.1,241.9L896.1,241.8L897.1,241.7L898.1,241.4L899.3,241.2L900.7,240.8L902.4,240.4L904.2,239.9L906.1,239.6L908,239.4L909.7,239.2L911.1,239.1L912.2,239L913.3,238.8L914.7,238.6L916.3,238.3L918.2,238L919.9,237.8L921.3,237.7L922.6,237.6L923.8,237.4L925.1,237.1L926.6,236.9L928.2,236.6L929.8,236.3L931.4,236.1L932.9,235.8L934.3,235.7L935.5,235.5L936.6,235.2L937.7,235L938.9,234.6L940.5,234.1L942.5,233.5L944.9,233L947.3,232.9L949.2,232.9L950.7,233L951.8,233L952.9,232.9L954.1,232.9L955.4,232.7L956.7,232.5L957.9,232.3L959.1,232.1L960.4,231.8L961.9,231.4L963.7,231L965.7,230.7L967.7,230.5L969.4,230.4L970.8,230.4L972,230.3L973.3,230.2L974.5,230L975.7,229.8L977,229.6L978.4,229.3L979.8,229L981.3,228.6L983,228.2L984.8,227.9L986.7,227.6L988.5,227.5L990,227.4L991.4,227.3L992.7,227.1L994,227L995.4,226.8L996.9,226.6L998.4,226.4L999.8,226.2L1001.1,226L1002.5,225.7L1004,225.5L1005.7,225.2L1007.4,224.9L1009,224.8L1010.3,224.6L1011.5,224.4L1012.8,224.2L1014.3,223.9L1016.1,223.5L1018.2,223.3L1020.2,223.2L1021.9,223.2L1023.2,223.2L1024.1,223.2L1024.8,223L1025.9,222.8L1027.4,222.4L1029.3,222L1031.4,221.7L1033.3,221.5L1034.9,221.4L1036.5,221.4L1038.1,221.3L1039.6,221.3L1040.9,221.3L1041.9,221.2L1042.9,221.1L1044.3,220.8L1046,220.5L1048,220.3L1049.9,220.2L1051.5,220.2L1052.7,220.1L1053.8,220L1055,219.9L1056.5,219.6L1058.2,219.4L1060,219.2L1061.7,219.1L1063.2,219.1L1064.4,219L1065.6,218.9L1066.9,218.7L1068.3,218.5L1069.7,218.2L1071.1,218L1072.6,217.7L1074.1,217.4L1075.6,217.2L1077.2,216.9L1078.9,216.6L1080.6,216.4L1082.4,216.2L1084.2,216.1L1085.8,216.1L1087.2,216L1088.4,216L1089.6,215.9L1091,215.7L1092.6,215.5L1094.4,215.3L1096,215.3L1097.4,215.2L1098.5,215.1L1099.6,214.9L1100.9,214.7L1102.5,214.4L1104.2,214.1L1106,213.9L1107.7,213.7L1109,213.6L1110.2,213.5L1111.3,213.3L1112.6,213L1114.1,212.7L1115.9,212.3L1117.8,212L1119.7,211.8L1121.4,211.7L1123,211.6L1124.4,211.6L1125.7,211.5L1127,211.3L1128.5,211.2L1130.1,211L1131.8,210.9L1133.4,210.8L1134.9,210.8L1136.3,210.7L1137.9,210.6L1139.5,210.5L1141.2,210.5L1142.8,210.5L1144.2,210.5L1145.4,210.5L1146.6,210.4L1148,210.3L1149.3,210.1L1150.7,210L1152.1,209.8L1153.6,209.6L1155.2,209.4L1157,209.2L1158.7,209.1L1160.2,209L1161.6,208.9L1163,208.8L1164.5,208.6L1166.1,208.5L1167.6,208.4L1168.9,208.3L1169.9,208.2L1170.9,208L1172.1,207.7L1173.8,207.3L1175.8,206.9L1177.9,206.6L1179.7,206.5L1181.1,206.5L1182.3,206.4L1183.6,206.2L1185,206L1186.5,205.8L1188,205.6L1189.6,205.4L1191.3,205.2L1192.9,205.1L1194.4,205L1195.7,204.8L1197.1,204.7L1198.6,204.5L1200.5,204.3L1202.6,204.2L1204.4,204.3L1206,204.4L1207.2,204.4L1208.2,204.4L1209.3,204.3L1210.7,204.2L1212.4,204L1214,203.9L1215.3,203.8L1216.4,203.7L1217.3,203.5L1218.5,203.3L1220,202.9L1221.8,202.5L1223.8,202.1L1225.7,201.9L1227.4,201.7L1228.8,201.6L1230.1,201.5L1231.4,201.4L1232.8,201.2L1234.4,201L1236.1,200.8L1237.9,200.6L1239.8,200.5L1241.5,200.5L1243,200.5L1244.3,200.5L1245.5,200.5L1246.8,200.4L1248.4,200.2L1250.2,200.2L1252.1,200.1L1253.7,200.2L1255.1,200.2L1256.2,200.3L1257.1,200.2L1258,200.1L1259.3,199.8L1260.9,199.5L1262.7,199.2L1264.5,199L1266.2,198.8L1267.7,198.7L1269.1,198.6L1270.4,198.4L1271.8,198.3L1273.2,198.1L1274.6,197.9L1276,197.7L1277.4,197.4L1278.8,197.1L1280.4,196.8L1282.2,196.6L1284.2,196.3L1286.3,196.2L1288.3,196.3L1290.1,196.4L1291.8,196.6L1293.3,196.7L1294.5,196.9L1295.5,196.9L1296.3,196.9L1297.1,196.8L1298.2,196.6L1299.5,196.3L1300.9,196L1302.3,195.7L1303.7,195.3L1305.3,194.9L1307.1,194.5L1309.1,194.1L1311.2,193.9L1313.2,193.8L1315,193.8L1316.5,193.9L1317.9,193.9L1319.2,193.9L1320.6,193.9L1322.2,193.9L1323.9,193.9L1325.7,193.9L1327.4,194L1328.9,194.1L1330.3,194.2L1331.5,194.3L1332.5,194.3L1333.5,194.3L1334.5,194.1L1335.7,193.9L1337.1,193.6L1338.6,193.3L1340.1,193L1341.6,192.7L1343.1,192.4L1344.8,192.1L1346.9,191.8L1349.2,191.7L1351.7,191.8L1353.7,192.1L1355.2,192.4L1356.2,192.6L1357,192.7L1357.8,192.6L1358.7,192.6L1359.7,192.4L1360.8,192.2L1362,191.9L1363.5,191.4L1365.3,191L1367.4,190.6L1369.6,190.3L1371.8,190.2L1373.7,190.3L1375.3,190.4L1376.4,190.5L1377.4,190.5L1378.4,190.4L1379.5,190.3L1380.8,190.1L1382.3,189.8L1383.8,189.6L1385.4,189.3L1387.3,189.1L1389.3,188.9L1391.4,188.9L1393.3,189L1394.8,189.1L1395.9,189.2L1396.8,189.2L1397.7,189.1L1399,188.9L1400.6,188.7L1402.6,188.5L1404.5,188.4L1406.1,188.4L1407.3,188.4L1408.3,188.3L1409.5,188.2L1411,188L1412.8,187.7L1414.6,187.6L1416.2,187.5L1417.7,187.4L1419.1,187.4L1420.7,187.3L1422.4,187.2L1424.1,187.2L1425.8,187.2L1427.4,187.2L1428.7,187.3L1429.9,187.3L1430.9,187.2L1431.8,187.1L1432.9,186.9L1434.2,186.6L1435.8,186.2L1437.8,185.8L1439.8,185.5L1441.6,185.4L1443.1,185.3L1444.2,185.3L1445.3,185.1L1446.6,184.9L1448.3,184.6L1450.3,184.3L1452.4,184.2L1454.3,184.2L1455.8,184.2L1457,184.2L1458.1,184.2L1459.3,184.1L1460.8,184L1462.5,183.8L1464.4,183.7L1466.2,183.7L1467.8,183.8L1469.1,183.8L1470.1,183.8L1470.9,183.7L1472,183.5L1473.5,183.2L1475.4,182.9L1477.4,182.6L1479.2,182.5L1480.7,182.5L1482,182.4L1483.5,182.3L1485.1,182.2L1486.9,182.1L1488.8,182.1L1490.5,182.2L1492,182.3L1493.4,182.4L1494.7,182.4L1496,182.4L1497.3,182.4L1498.5,182.3L1499.7,182.2L1501,182.1L1502.5,181.9L1504.3,181.7L1506.1,181.5L1508,181.5L1509.8,181.5L1511.3,181.5L1512.6,181.6L1513.8,181.6L1515,181.5L1516.3,181.4L1517.7,181.3L1519.3,181.1L1520.9,181L1522.6,180.9L1524.2,180.8L1525.7,180.7L1527,180.7L1528.2,180.6L1529.4,180.5L1530.7,180.3L1532.2,180L1534.1,179.7L1536.1,179.6L1538.3,179.5L1540.3,179.7L1541.9,179.9L1542.9,180L1543.7,180L1544.5,179.9L1545.7,179.7L1547.3,179.5L1549,179.2L1550.7,179L1552.2,178.9L1553.7,178.8L1555.1,178.6L1556.6,178.4L1558.3,178.2L1560,178.1L1561.7,178L1563,178L1564.1,177.9L1565.2,177.8L1566.4,177.5L1568,177.2L1569.8,176.9L1571.6,176.7L1573.4,176.5L1575.1,176.4L1576.7,176.4L1578.4,176.3L1580.1,176.3L1581.8,176.4L1583.3,176.4L1584.5,176.5L1585.5,176.4L1586.5,176.3L1587.7,176.2L1589.3,175.9L1591.1,175.7L1593,175.5L1594.8,175.4L1596.5,175.4L1598.7,175.7L1600.7,176.6L1602.4,177.9L1603.8,179.6L1604.6,181.7L1604.9,183.8L1604.6,186L1603.8,188L1602.4,189.8L1600.7,191.1L1598.7,191.9L1596.5,192.2L1595.2,192.2L1594,192.3L1592.9,192.4L1591.7,192.5L1590.3,192.8L1588.5,193L1586.5,193.2L1584.5,193.3L1582.7,193.2L1581.2,193.1L1579.9,193.1L1578.6,193.1L1577.3,193.2L1575.9,193.2L1574.6,193.3L1573.4,193.4L1572.3,193.5L1571.1,193.7L1569.6,194L1567.9,194.4L1565.9,194.6L1564,194.8L1562.4,194.8L1561,194.9L1559.8,195L1558.5,195.1L1557,195.3L1555.4,195.5L1553.8,195.6L1552.3,195.8L1551,195.9L1549.8,196.1L1548.3,196.3L1546.6,196.6L1544.4,196.8L1542.1,196.8L1540.2,196.6L1538.7,196.4L1537.7,196.3L1536.9,196.3L1536,196.4L1534.8,196.6L1533.4,196.8L1531.7,197.1L1529.8,197.3L1528.1,197.5L1526.4,197.5L1524.9,197.6L1523.5,197.7L1522.2,197.7L1520.8,197.8L1519.4,198L1517.8,198.1L1516.1,198.3L1514.3,198.4L1512.5,198.4L1510.8,198.3L1509.3,198.3L1508.1,198.3L1507,198.3L1505.9,198.4L1504.6,198.5L1503.1,198.7L1501.5,198.9L1499.6,199.1L1497.8,199.2L1496.1,199.2L1494.4,199.2L1492.7,199.1L1491.1,199.1L1489.6,199L1488.3,198.9L1487.2,198.9L1486.1,199L1484.7,199.1L1483.1,199.2L1481.5,199.3L1480,199.3L1478.8,199.4L1477.8,199.5L1476.6,199.7L1475.1,200L1473.2,200.3L1471.1,200.5L1469.1,200.6L1467.4,200.6L1466,200.5L1464.8,200.5L1463.7,200.6L1462.4,200.7L1460.9,200.8L1459.1,201L1457.2,201L1455.4,201L1453.9,201L1452.8,201L1451.9,201L1451,201.1L1449.7,201.4L1447.9,201.7L1446,202L1444.1,202.1L1442.6,202.2L1441.5,202.3L1440.5,202.4L1439.4,202.6L1438.1,202.9L1436.4,203.3L1434.5,203.7L1432.4,203.9L1430.4,204.1L1428.5,204.1L1426.9,204L1425.5,204L1424.1,204L1422.9,204L1421.6,204L1420.2,204.1L1418.6,204.2L1417.1,204.3L1415.7,204.4L1414.5,204.5L1413.3,204.6L1411.8,204.8L1410,205.1L1408,205.2L1406.2,205.2L1404.8,205.2L1403.8,205.2L1402.7,205.4L1401.3,205.6L1399.6,205.8L1397.6,206L1395.5,206L1393.6,205.9L1392.1,205.8L1390.9,205.7L1390,205.7L1389.1,205.8L1387.9,205.9L1386.6,206.1L1385.1,206.4L1383.6,206.7L1381.9,206.9L1380,207.2L1378,207.3L1376,207.3L1374.2,207.2L1372.7,207.1L1371.6,207L1370.8,207.1L1370,207.1L1369.1,207.3L1367.9,207.7L1366.4,208.1L1364.6,208.5L1362.7,208.9L1360.7,209.2L1358.7,209.4L1356.5,209.4L1354.2,209.3L1352.2,209L1350.7,208.7L1349.8,208.5L1349.3,208.5L1348.6,208.5L1347.7,208.7L1346.4,208.9L1344.9,209.2L1343.4,209.5L1341.9,209.8L1340.4,210.1L1338.8,210.4L1337,210.7L1335,211L1333,211.1L1331.1,211.1L1329.3,211L1327.6,210.9L1326.2,210.8L1324.9,210.7L1323.6,210.7L1322.4,210.7L1320.9,210.7L1319.4,210.7L1317.7,210.7L1316.1,210.7L1314.6,210.6L1313.5,210.6L1312.5,210.6L1311.5,210.8L1310.6,210.9L1309.4,211.2L1307.9,211.6L1306.3,212L1304.7,212.4L1303.2,212.7L1301.5,213.1L1299.6,213.5L1297.4,213.7L1295.2,213.7L1293.1,213.6L1291.4,213.4L1289.9,213.3L1288.6,213.1L1287.4,213.1L1286.5,213L1285.6,213.1L1284.6,213.2L1283.3,213.4L1281.9,213.7L1280.4,213.9L1278.8,214.2L1277.1,214.5L1275.5,214.7L1274,214.9L1272.4,215.1L1270.7,215.3L1269.1,215.4L1267.6,215.6L1266.3,215.7L1265.1,215.8L1264,216L1262.5,216.3L1260.8,216.6L1258.8,216.9L1256.7,217L1254.8,217L1253.1,217L1251.8,216.9L1250.7,216.9L1249.5,217L1248.1,217.1L1246.4,217.3L1244.6,217.3L1242.9,217.3L1241.4,217.3L1240.2,217.3L1239,217.4L1237.8,217.5L1236.6,217.6L1235.1,217.8L1233.6,218L1231.9,218.2L1230.2,218.4L1228.6,218.5L1227.3,218.6L1226.2,218.7L1225.2,218.9L1224,219.2L1222.5,219.6L1220.7,220L1218.7,220.3L1216.8,220.6L1215.1,220.7L1213.7,220.8L1212.4,220.9L1210.8,221L1208.9,221.2L1206.9,221.2L1205.1,221.1L1203.7,221L1202.6,221L1201.6,221L1200.5,221.2L1199.1,221.3L1197.5,221.5L1195.8,221.7L1194.3,221.8L1193,221.9L1191.6,222.1L1190.2,222.3L1188.8,222.5L1187.3,222.7L1185.7,222.9L1184,223.1L1182.2,223.2L1180.6,223.3L1179.4,223.4L1178.5,223.5L1177.5,223.7L1176.2,224L1174.5,224.4L1172.5,224.8L1170.5,225.1L1168.7,225.2L1167.2,225.3L1165.9,225.4L1164.4,225.5L1162.8,225.6L1161.2,225.7L1159.8,225.8L1158.5,225.9L1157.2,226.1L1155.9,226.2L1154.4,226.4L1152.8,226.7L1151.2,226.8L1149.6,227L1147.9,227.1L1146.1,227.3L1144.4,227.3L1142.8,227.3L1141.3,227.3L1140,227.3L1138.7,227.4L1137.3,227.5L1135.7,227.5L1134.2,227.6L1132.8,227.7L1131.6,227.8L1130.2,227.9L1128.7,228.1L1127,228.2L1125.3,228.3L1123.7,228.4L1122.3,228.5L1121.1,228.5L1120,228.7L1118.9,228.8L1117.7,229.1L1116.2,229.4L1114.5,229.8L1112.6,230.1L1110.8,230.3L1109.2,230.5L1107.8,230.6L1106.6,230.7L1105.4,230.9L1104,231.2L1102.3,231.5L1100.4,231.8L1098.5,231.9L1096.9,232L1095.6,232.1L1094.4,232.2L1093,232.4L1091.4,232.6L1089.6,232.7L1087.8,232.8L1086.3,232.9L1084.9,232.9L1083.7,233L1082.5,233.1L1081.2,233.3L1079.9,233.5L1078.5,233.7L1077.1,234L1075.6,234.2L1074.1,234.5L1072.5,234.8L1071,235.1L1069.3,235.3L1067.6,235.5L1065.8,235.7L1064.1,235.8L1062.6,235.9L1061.3,236L1060.2,236.1L1058.9,236.3L1057.4,236.5L1055.6,236.7L1053.7,236.9L1051.9,237L1050.5,237L1049.4,237L1048.4,237.1L1047.2,237.4L1045.6,237.7L1043.6,237.9L1041.6,238.1L1039.9,238.1L1038.5,238.1L1037.1,238.2L1035.7,238.2L1034.4,238.3L1033.3,238.4L1032.4,238.5L1031.3,238.7L1029.8,239.1L1027.9,239.6L1025.7,239.9L1023.6,240L1021.8,240L1020.6,240L1019.6,240L1018.7,240.1L1017.5,240.4L1016.1,240.7L1014.4,241L1012.6,241.2L1010.9,241.4L1009.5,241.6L1008.2,241.8L1007,242L1005.5,242.3L1003.9,242.5L1002.3,242.8L1000.7,243L999.2,243.2L997.7,243.5L996.1,243.7L994.5,243.9L992.8,244L991.2,244.1L989.8,244.2L988.6,244.3L987.5,244.5L986.3,244.7L985,245L983.6,245.3L982,245.7L980.4,246L978.7,246.4L976.9,246.6L975.2,246.9L973.4,247L971.7,247.2L970.2,247.2L968.9,247.3L967.9,247.4L966.9,247.5L965.7,247.8L964.3,248.2L962.6,248.5L960.8,248.9L959.1,249.2L957.4,249.4L955.7,249.6L953.9,249.7L952,249.8L950.1,249.8L948.6,249.7L947.6,249.7L947,249.7L946.4,249.8L945.5,250.1L944.1,250.6L942.3,251.1L940.4,251.6L938.5,252L936.8,252.3L935.2,252.5L933.8,252.7L932.4,252.9L931.1,253.1L929.7,253.4L928.2,253.7L926.5,254L924.8,254.2L923,254.4L921.5,254.6L920.3,254.7L919.1,254.8L917.8,255.1L916.2,255.4L914.3,255.7L912.5,255.9L910.9,256L909.7,256.1L908.6,256.2L907.5,256.4L906.4,256.7L905,257L903.5,257.4L901.7,257.9L899.8,258.2L897.8,258.5L895.8,258.6L893.8,258.7L891.9,258.6L890.3,258.4L889.2,258.3L888.7,258.3L888.5,258.3L888.1,258.5L887.1,258.9L885.6,259.7L883.5,260.5L881.3,261.2L879.2,261.7L877.3,262L875.6,262.2L873.9,262.3L872,262.4L870.2,262.5L868.6,262.4L867.3,262.4L866.1,262.4L865.1,262.5L864,262.6L862.9,262.8L861.7,263L860.4,263.3L858.9,263.7L857.2,264.1L855.4,264.5L853.8,264.8L852.4,265L851.2,265.2L850.1,265.4L848.6,265.8L846.9,266.3L845,266.6L843,266.9L841.2,267.1L839.6,267.1L838.2,267.2L837.1,267.3L836.1,267.4L835.1,267.6L834,267.9L832.6,268.3L830.9,268.8L829.2,269.2L827.4,269.6L825.7,269.9L823.9,270.1L822.3,270.3L821,270.4L819.9,270.6L818.9,270.8L817.8,271.1L816.2,271.5L814.4,272L812.6,272.3L811.2,272.6L810.1,272.8L809,273.1L807.7,273.5L806.1,274L804.4,274.5L802.5,275L800.6,275.3L798.8,275.6L797,275.7L795.4,275.8L794.1,275.9L793.1,276L792.2,276.2L791,276.5L789.6,276.9L788,277.3L786.4,277.6L785,278L783.7,278.3L782.3,278.7L780.8,279.1L779,279.5L777.1,279.9L775.2,280.1L773.5,280.3L772.1,280.4L770.7,280.6L769.4,280.7L768.2,280.9L766.9,281.1L765.8,281.3L764.5,281.6L763.2,282L761.7,282.4L760,282.8L758.2,283.2L756.4,283.5L754.9,283.7L753.8,283.9L752.7,284.2L751.6,284.5L750.1,284.9L748.4,285.4L746.7,285.8L745.2,286.1L743.8,286.5L742.3,286.8L740.7,287.2L739,287.5L737.3,287.8L735.6,288L734,288.2L732.6,288.4L731.3,288.5L730.2,288.7L729.3,288.9L728.3,289.1L727.1,289.6L725.7,290.1L724,290.7L722,291.2L720.1,291.7L718.3,292L716.7,292.2L715.4,292.4L714,292.6L712.6,292.9L711.1,293.2L709.5,293.4L707.9,293.7L706.6,293.8L705.5,294L704.4,294.3L703.2,294.6L701.8,295L700.3,295.4L698.8,295.9L697.3,296.3L695.6,296.7L693.9,297.1L692.4,297.4L691.1,297.7L689.9,298L688.7,298.3L687.5,298.7L686.1,299.2L684.7,299.6L683,300.2L681.1,300.7L679.1,301.2L677.4,301.5L676.1,301.6L675.1,301.8L674.2,302.1L673,302.5L671.4,303L669.4,303.6L667.4,304L665.6,304.3L664.2,304.4L663.2,304.6L662.3,304.8L661.5,305L660.5,305.4L659.2,306L657.8,306.6L656.2,307.3L654.6,308L653,308.6L651.4,309.2L649.7,309.8L647.9,310.3L646.1,310.7L644.5,311.1L643.1,311.4L641.8,311.6L640.6,311.9L639.5,312.3L638.3,312.6L636.9,313.1L635.4,313.7L633.7,314.2L632,314.7L630.3,315.2L628.6,315.6L627.1,315.8L625.8,316.1L624.8,316.3L623.6,316.7L622.2,317.1L620.5,317.7L618.6,318.1L617.1,318.4L615.9,318.6L615.1,318.9L614.2,319.2L612.9,319.8L611.2,320.4L609.2,321.1L607.4,321.6L605.9,321.9L604.9,322.2L604.1,322.5L603.3,322.8L602.3,323.4L600.8,324.2L598.9,325.2L596.6,326.1L594.2,326.8L592.4,327.1L591.2,327.3L590.3,327.5L589.3,327.7L588.1,328.2L586.6,328.7L585.1,329.2L583.7,329.6L582.4,330.1L581,330.6L579.5,331.1L577.7,331.7L576,332.1L574.4,332.5L573.3,332.7L572.3,333L571.2,333.4L569.9,333.9L568.2,334.5L566.5,335.1L565,335.5L563.6,335.9L562.4,336.3L561.3,336.7L560.1,337.1L559,337.6L557.8,338.1L556.4,338.8L555,339.5L553.4,340.2L551.9,340.9L550.4,341.5L549,342L547.7,342.6L546.4,343.1L545,343.7L543.6,344.4L542,345.1L540.4,345.7L538.8,346.3L537.4,346.8L536.2,347.2L535,347.7L533.8,348.2L532.5,348.8L531.1,349.4L529.7,350.1L528.1,350.8L526.4,351.4L524.7,352L523.2,352.5L522,352.9L520.8,353.3L519.6,353.7L518.3,354.3L516.9,354.8L515.4,355.4L513.9,355.9L512.5,356.4L511.3,356.9L510.2,357.3L509.2,357.8L508,358.3L506.6,359L505.2,359.7L504,360.3L502.9,360.9L501.9,361.5L500.7,362.3L499.2,363.3L497.4,364.3L495.6,365.3L493.8,366L492.3,366.6L491.1,367.1L490.1,367.5L489,368L487.8,368.7L486.4,369.4L484.8,370.2L483.3,370.9L482,371.5L480.9,372L480.1,372.4L479.2,372.9L478.1,373.7L476.8,374.7L475.2,375.8L473.4,376.9L471.7,377.8L470.2,378.5L468.9,379.1L467.8,379.6L466.7,380.2L465.4,381L463.9,381.7L462.5,382.5L461.1,383.1L459.7,383.8L458.5,384.3L457.5,384.9L456.6,385.4L455.8,385.9L454.7,386.7L453.4,387.7L451.9,388.8L450.2,389.9L448.5,390.9L447,391.7L445.7,392.3L444.6,392.8L443.7,393.4L442.6,394L441.4,394.8L440,395.6L438.7,396.5L437.5,397.1L436.6,397.7L435.8,398.3L434.9,399.1L433.7,400.1L432.3,401.3L430.8,402.5L429.2,403.7L427.8,404.6L426.4,405.5L425.2,406.3L424,407L422.8,407.7L421.8,408.4L420.9,409.1L419.9,409.8L418.8,410.7L417.7,411.6L416.5,412.7L415.1,413.8L413.6,415L412.2,416L411,416.7L410.2,417.3L409.5,417.9L408.7,418.7L407.5,419.8L406.1,421.2L404.5,422.6L402.9,423.7L401.6,424.6L400.7,425.2L399.9,425.8L399,426.5L398,427.4L396.8,428.4L395.8,429.4L394.8,430.3L393.9,431.2L392.9,432.2L391.7,433.5L390.3,434.8L388.9,436L387.7,437.1L386.6,437.9L385.6,438.8L384.6,439.7L383.5,440.6L382.5,441.5L381.6,442.4L380.7,443.2L379.9,444.1L379,445.1L378,446.2L376.9,447.4L375.8,448.7L374.5,450L373.3,451.3L372.1,452.4L371,453.4L370.1,454.2L369.3,455L368.5,455.8L367.7,456.8L366.8,457.8L365.9,458.9L364.9,460.1L363.8,461.4L362.8,462.6L361.8,463.8L360.9,464.8L360.1,465.8L359.2,466.9L358.3,468.2L357.1,469.7L355.9,471.1L354.7,472.4L353.7,473.4L352.9,474.3L352.2,475.2L351.4,476.1L350.5,477.2L349.6,478.3L348.8,479.3L348,480.4L347.2,481.5L346.4,482.7L345.5,484L344.6,485.4L343.6,486.8L342.7,488.1L341.8,489.3L340.9,490.6L340,491.9L339,493.2L338.1,494.5L337.2,495.6L336.4,496.6L335.7,497.7L334.9,498.8L334.1,500.1L333.2,501.4L332.3,502.7L331.4,503.9L330.6,505L329.8,506.2L329,507.5L328.1,508.8L327.2,510.1L326.3,511.3L325.5,512.4L324.8,513.5L324.1,514.6L323.3,515.7L322.5,516.9L321.7,518.3L320.7,519.7L319.9,521L319.1,522.1L318.4,523.1L317.7,524.2L317,525.3L316.2,526.5L315.5,527.7L314.8,529L314,530.3L313.2,531.7L312.4,533.1L311.6,534.4L310.9,535.7L310.1,536.9L309.4,538.2L308.6,539.5L307.8,540.8L307.1,542.1L306.4,543.3L305.7,544.5L305,545.7L304.3,547L303.6,548.3L302.9,549.6L302.2,550.8L301.5,552.2L300.8,553.6L300.1,554.9L299.3,556.3L298.7,557.5L298,558.7L297.4,559.9L296.8,561.2L296.1,562.6L295.5,564.1L294.8,565.5L294.1,566.9L293.4,568.3L292.8,569.6L292.2,570.9L291.6,572.2L291,573.5L290.3,574.9L289.7,576.3L289.1,577.7L288.4,579.1L287.8,580.4L287.2,581.7L286.6,582.8L286.1,583.9L285.6,585.1L285.1,586.4L284.6,587.8L284,589.2L283.5,590.7L282.9,592.2L282.3,593.6L281.8,595L281.3,596.4L280.8,597.7L280.3,599.1L279.8,600.5L279.3,601.9L278.8,603.4L278.3,604.9L277.8,606.3L277.3,607.7L276.9,609L276.4,610.4L276,611.7L275.5,613.1L275.1,614.5L274.7,615.9L274.2,617.4L273.8,618.7L273.4,620.1L273,621.4L272.6,622.7L272.2,624.1L271.8,625.5L271.4,626.9L271,628.4L270.6,629.9L270.3,631.3L269.9,632.7L269.6,634.1L269.2,635.5L268.9,636.9L268.5,638.4L268.2,639.9L267.8,641.4L267.5,642.8L267.2,644.3L266.9,645.7L266.6,647.1L266.3,648.6L266,650L265.7,651.5L265.4,653L265.1,654.4L264.8,655.9L264.5,657.4L264.2,658.8L264,660.3L263.7,661.7L263.4,663.1L263.2,664.6L262.9,666L262.7,667.4L262.4,668.9L262.2,670.3L261.9,671.8L261.7,673.3L261.4,674.8L261.2,676.3L261,677.7L260.8,679.2L260.5,680.6L260.3,682.1L260.1,683.6L259.9,685.1L259.7,686.5L259.5,688L259.3,689.5L259.1,690.9L258.9,692.4L258.7,693.8L258.5,695.3L258.3,696.7L258.1,698.2L257.9,699.7L257.7,701.2L257.5,702.7L257.4,704.1L257.2,705.6L257,707.1L256.8,708.5L256.7,710L256.5,711.5L256.3,713L256.2,714.5L256,716L255.8,717.4L255.7,718.9L255.5,720.4L255.4,721.9L255.2,723.4L255.1,724.9L254.9,726.4L254.8,727.9L254.6,729.4L254.5,730.9L254.3,732.4L254.2,733.8L254,735.3L253.9,736.8L253.8,738.3L253.6,739.8L253.5,741.3L253.4,742.8L253.2,744.3L253.1,745.8L253,747.2L252.8,748.7L252.7,750.2L252.6,751.7L252.5,753.1L252.3,754.6L252.2,756.1L252.1,757.6L252,759.1L251.9,760.6L251.7,762.1L251.6,763.6L251.5,765L251.4,766.5L251.3,768L251.2,769.5L251.1,771L251,772.5L250.9,774L250.7,775.5L250.6,777L250.5,778.5L250.4,780L250.3,781.5L250.2,783L250.1,784.4L250,785.9L249.9,787.4L249.8,788.9L249.7,790.4L249.6,791.9L249.5,793.4L249.4,795L249.3,796.4L249.2,797.9L249.1,799.4L249.1,800.9L249,802.4L248.9,803.9L248.8,805.4L248.7,806.9L248.6,808.4L248.5,809.9L248.4,811.4L248.3,812.9L248.2,814.4L248.2,815.9L248.1,817.3L248,818.8L247.9,820.3L247.8,821.8L247.7,823.3L247.7,824.9L247.6,826.3L247.2,828.5L246.2,830.5L244.8,832.1L243,833.4L240.9,834.1L238.7,834.3L236.6,833.9L234.6,832.9L232.9,831.5L231.7,829.7L231,827.6L230.8,825.4Z" fill="#FF0000"/>
</g>
</g>
<g class="labels" font-family="'Liberation Sans', Arial, Helvetica, sans-serif" font-weight="bold" fill="#000">
<text transform="translate(194.6,953.4) scale(0.89,1)" font-size="52.0" text-anchor="end" stroke="#000" stroke-width="0.9" stroke-linejoin="round">0</text>
<text transform="translate(194.6,661.3) scale(0.89,1)" font-size="52.0" text-anchor="end" stroke="#000" stroke-width="0.9" stroke-linejoin="round">10</text>
<rect x="144.84" y="654.39" width="8.64" height="8.71" fill="#fff"/>
<rect x="160.72" y="654.39" width="8.05" height="8.71" fill="#fff"/>
<text transform="translate(194.6,369.2) scale(0.89,1)" font-size="52.0" text-anchor="end" stroke="#000" stroke-width="0.9" stroke-linejoin="round">20</text>
<text transform="translate(194.6,77.1) scale(0.89,1)" font-size="52.0" text-anchor="end" stroke="#000" stroke-width="0.9" stroke-linejoin="round">30</text>
<text transform="translate(233.5,1017.0) scale(0.96,1)" font-size="52.0" text-anchor="middle" stroke="#000" stroke-width="0.5" stroke-linejoin="round">0</text>
<text transform="translate(460.7,1017.0) scale(0.96,1)" font-size="52.0" text-anchor="middle" stroke="#000" stroke-width="0.5" stroke-linejoin="round">30</text>
<text transform="translate(687.8,1017.0) scale(0.96,1)" font-size="52.0" text-anchor="middle" stroke="#000" stroke-width="0.5" stroke-linejoin="round">60</text>
<text transform="translate(915.0,1017.0) scale(0.96,1)" font-size="52.0" text-anchor="middle" stroke="#000" stroke-width="0.5" stroke-linejoin="round">90</text>
<text transform="translate(1142.2,1017.0) scale(0.96,1)" font-size="52.0" text-anchor="middle" stroke="#000" stroke-width="0.5" stroke-linejoin="round">120</text>
<rect x="1102.47" y="1010.09" width="9.46" height="8.71" fill="#fff"/>
<rect x="1119.27" y="1010.09" width="8.82" height="8.71" fill="#fff"/>
<text transform="translate(1369.3,1017.0) scale(0.96,1)" font-size="52.0" text-anchor="middle" stroke="#000" stroke-width="0.5" stroke-linejoin="round">150</text>
<rect x="1329.63" y="1010.09" width="9.46" height="8.71" fill="#fff"/>
<rect x="1346.44" y="1010.09" width="8.82" height="8.71" fill="#fff"/>
<text transform="translate(1596.5,1017.0) scale(0.96,1)" font-size="52.0" text-anchor="middle" stroke="#000" stroke-width="0.5" stroke-linejoin="round">180</text>
<rect x="1556.80" y="1010.09" width="9.46" height="8.71" fill="#fff"/>
<rect x="1573.61" y="1010.09" width="8.82" height="8.71" fill="#fff"/>
<text transform="translate(915,1110.5) scale(0.96,1)" font-size="65.0" text-anchor="middle">Time (min)</text>
<text transform="translate(74.0,495.5) rotate(-90) scale(0.96,1)" font-size="65.0" text-anchor="middle">Dissolved (µg/mL)</text>
</g>
</svg>
</body>
</html>
